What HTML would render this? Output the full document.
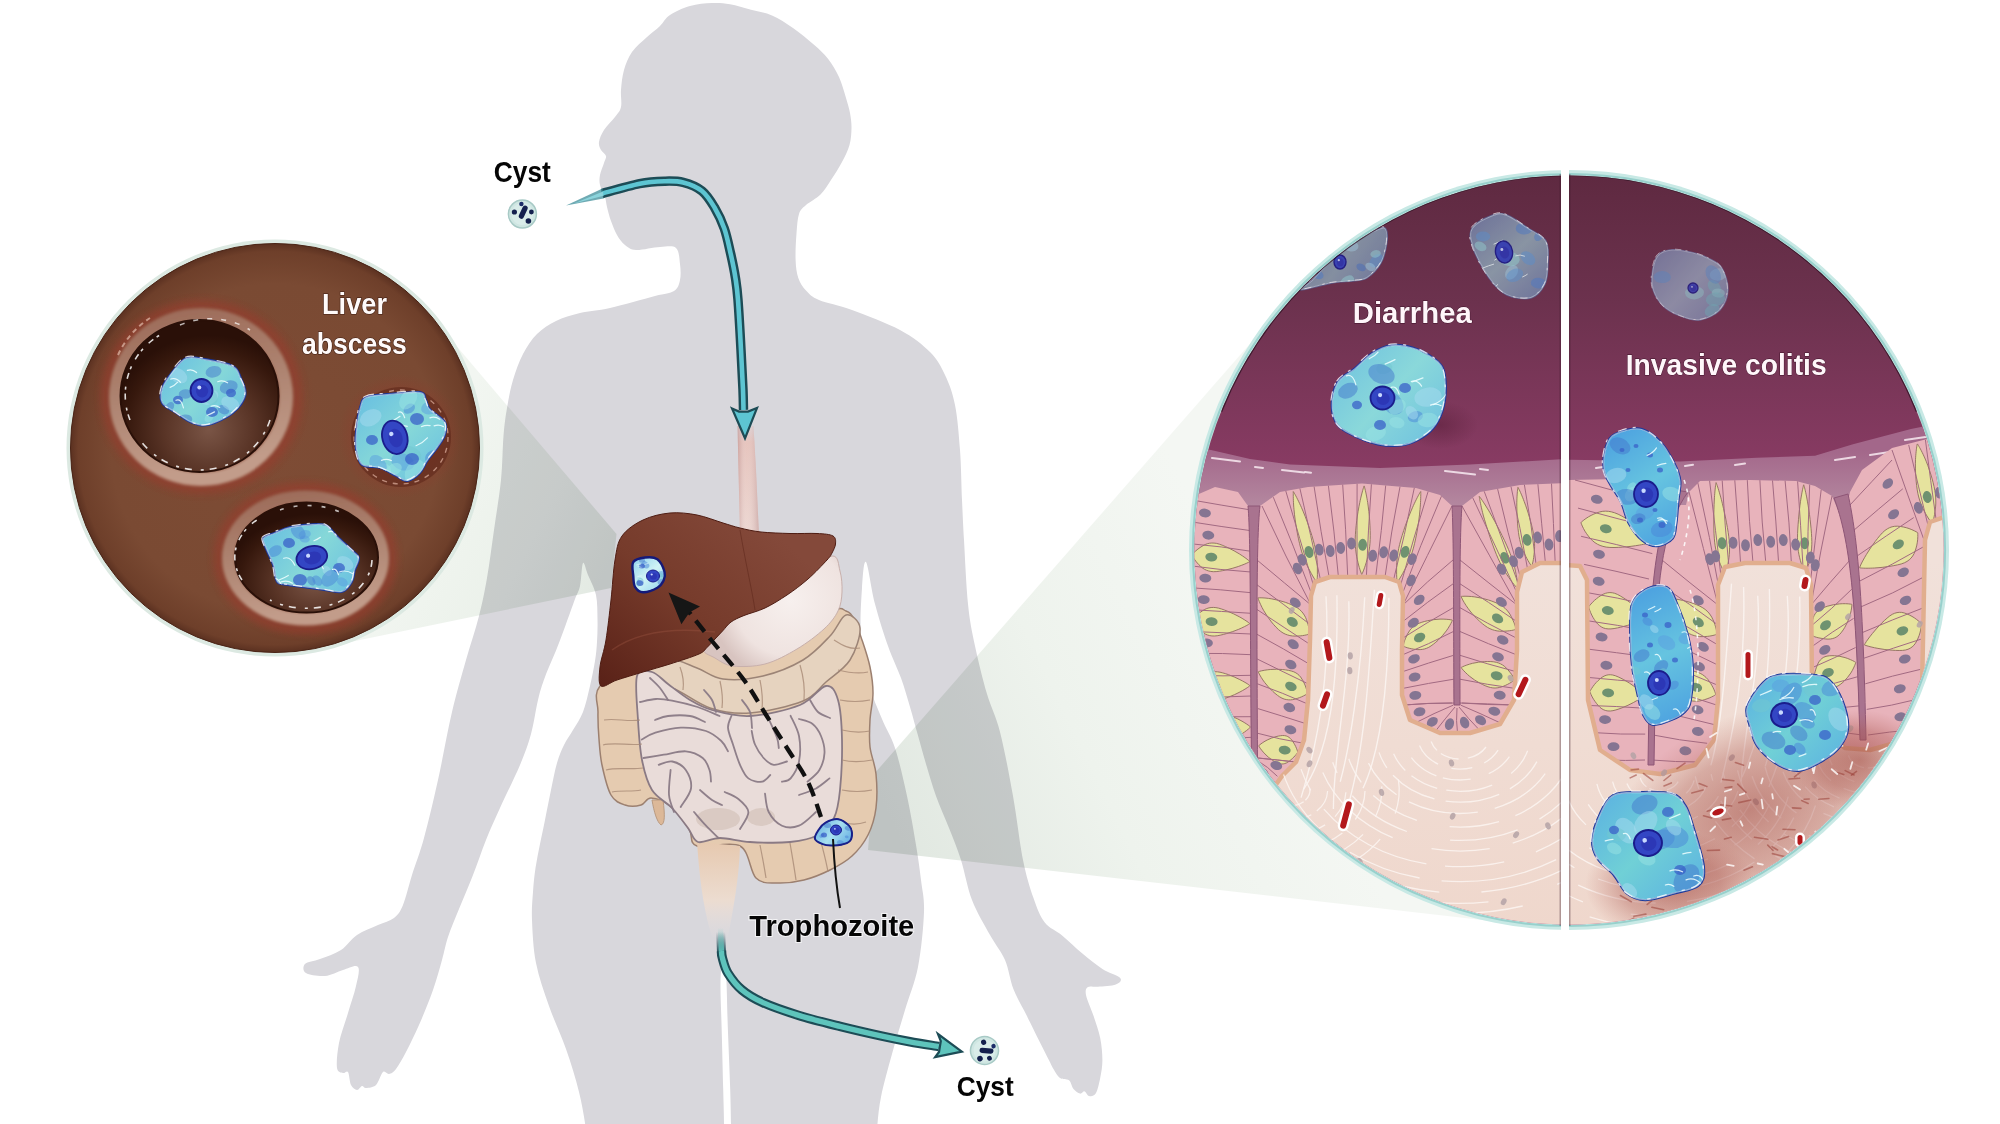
<!DOCTYPE html>
<html><head><meta charset="utf-8"><title>Amoebiasis</title>
<style>html,body{margin:0;padding:0;background:#ffffff;width:2000px;height:1124px;overflow:hidden}svg{display:block;position:absolute;left:0;top:0}
text{font-family:"Liberation Sans",sans-serif;font-weight:bold}</style></head>
<body>
<svg width="2000" height="1124" viewBox="0 0 2000 1124">
<path d="M712.0,3.0 C705.3,3.3 697.0,4.0 690.0,6.0 C683.0,8.0 675.0,11.7 670.0,15.0 C665.0,18.3 663.8,22.3 660.0,26.0 C656.2,29.7 651.7,32.7 647.0,37.0 C642.3,41.3 635.8,46.5 632.0,52.0 C628.2,57.5 625.8,63.7 624.0,70.0 C622.2,76.3 621.5,83.8 621.0,90.0 C620.5,96.2 622.0,102.5 621.0,107.0 C620.0,111.5 617.8,113.2 615.0,117.0 C612.2,120.8 606.7,125.8 604.0,130.0 C601.3,134.2 599.5,138.7 599.0,142.0 C598.5,145.3 599.8,147.7 601.0,150.0 C602.2,152.3 605.5,153.8 606.0,156.0 C606.5,158.2 605.0,159.8 604.0,163.0 C603.0,166.2 600.7,171.3 600.0,175.0 C599.3,178.7 599.2,181.3 600.0,185.0 C600.8,188.7 603.8,193.3 605.0,197.0 C606.2,200.7 606.0,203.0 607.0,207.0 C608.0,211.0 609.3,216.3 611.0,221.0 C612.7,225.7 614.7,231.0 617.0,235.0 C619.3,239.0 621.8,242.5 625.0,245.0 C628.2,247.5 630.2,249.7 636.0,250.0 C641.8,250.3 653.3,247.3 660.0,247.0 C666.7,246.7 672.7,245.2 676.0,248.0 C679.3,250.8 679.3,258.7 680.0,264.0 C680.7,269.3 681.0,275.5 680.0,280.0 C679.0,284.5 678.2,288.3 674.0,291.0 C669.8,293.7 665.7,293.2 655.0,296.0 C644.3,298.8 622.5,305.2 610.0,308.0 C597.5,310.8 589.0,310.8 580.0,313.0 C571.0,315.2 563.2,317.5 556.0,321.0 C548.8,324.5 542.5,328.5 537.0,334.0 C531.5,339.5 527.0,346.3 523.0,354.0 C519.0,361.7 515.7,371.0 513.0,380.0 C510.3,389.0 508.6,398.7 507.0,408.0 C505.4,417.3 504.5,424.0 503.5,436.0 C502.5,448.0 502.6,464.3 501.0,480.0 C499.4,495.7 496.3,513.7 494.0,530.0 C491.7,546.3 489.5,563.7 487.0,578.0 C484.5,592.3 482.5,602.3 479.0,616.0 C475.5,629.7 470.5,644.0 466.0,660.0 C461.5,676.0 456.7,692.0 452.0,712.0 C447.3,732.0 442.7,759.0 438.0,780.0 C433.3,801.0 428.3,822.2 424.0,838.0 C419.7,853.8 415.5,863.8 412.0,875.0 C408.5,886.2 406.0,897.8 403.0,905.0 C400.0,912.2 398.2,914.7 394.0,918.0 C389.8,921.3 384.2,922.2 378.0,925.0 C371.8,927.8 363.2,930.8 357.0,935.0 C350.8,939.2 347.2,946.0 341.0,950.0 C334.8,954.0 326.0,956.7 320.0,959.0 C314.0,961.3 307.3,961.7 305.0,964.0 C302.7,966.3 302.7,971.0 306.0,973.0 C309.3,975.0 318.8,976.5 325.0,976.0 C331.2,975.5 337.5,971.5 343.0,970.0 C348.5,968.5 355.8,964.3 358.0,967.0 C360.2,969.7 357.7,978.3 356.0,986.0 C354.3,993.7 350.8,1003.5 348.0,1013.0 C345.2,1022.5 340.8,1033.8 339.0,1043.0 C337.2,1052.2 336.3,1063.0 337.0,1068.0 C337.7,1073.0 341.2,1072.3 343.0,1073.0 C344.8,1073.7 346.7,1070.0 348.0,1072.0 C349.3,1074.0 349.5,1082.0 351.0,1085.0 C352.5,1088.0 355.2,1089.8 357.0,1090.0 C358.8,1090.2 360.5,1086.3 362.0,1086.0 C363.5,1085.7 363.7,1088.2 366.0,1088.0 C368.3,1087.8 373.2,1087.7 376.0,1085.0 C378.8,1082.3 380.8,1073.8 383.0,1072.0 C385.2,1070.2 386.8,1074.5 389.0,1074.0 C391.2,1073.5 393.2,1072.7 396.0,1069.0 C398.8,1065.3 402.2,1059.3 406.0,1052.0 C409.8,1044.7 414.5,1035.3 419.0,1025.0 C423.5,1014.7 429.2,1000.8 433.0,990.0 C436.8,979.2 439.5,968.8 442.0,960.0 C444.5,951.2 445.2,945.5 448.0,937.0 C450.8,928.5 454.8,919.3 459.0,909.0 C463.2,898.7 468.5,886.5 473.0,875.0 C477.5,863.5 481.5,851.2 486.0,840.0 C490.5,828.8 494.3,820.5 500.0,808.0 C505.7,795.5 514.8,777.3 520.0,765.0 C525.2,752.7 528.0,744.8 531.0,734.0 C534.0,723.2 535.7,709.5 538.0,700.0 C540.3,690.5 541.8,685.7 545.0,677.0 C548.2,668.3 553.5,656.8 557.0,648.0 C560.5,639.2 563.0,632.2 566.0,624.0 C569.0,615.8 572.7,605.3 575.0,599.0 C577.3,592.7 578.7,592.0 580.0,586.0 C581.3,580.0 581.7,564.8 583.0,563.0 C584.3,561.2 585.8,569.7 588.0,575.0 C590.2,580.3 594.4,587.5 596.0,595.0 C597.6,602.5 597.3,612.2 597.5,620.0 C597.7,627.8 597.4,635.2 597.0,642.0 C596.6,648.8 596.2,653.7 595.0,661.0 C593.8,668.3 592.0,677.5 590.0,686.0 C588.0,694.5 585.8,704.7 583.0,712.0 C580.2,719.3 576.2,724.5 573.0,730.0 C569.8,735.5 566.7,739.5 564.0,745.0 C561.3,750.5 559.2,755.5 557.0,763.0 C554.8,770.5 553.0,780.5 551.0,790.0 C549.0,799.5 546.8,811.0 545.0,820.0 C543.2,829.0 541.6,836.0 540.0,844.0 C538.4,852.0 536.7,860.0 535.5,868.0 C534.3,876.0 533.6,883.3 533.0,892.0 C532.4,900.7 531.5,908.2 532.0,920.0 C532.5,931.8 533.2,948.7 536.0,963.0 C538.8,977.3 544.0,991.7 549.0,1006.0 C554.0,1020.3 561.0,1034.7 566.0,1049.0 C571.0,1063.3 575.7,1078.5 579.0,1092.0 C582.3,1105.5 584.5,1118.7 586.0,1130.0 C587.5,1141.3 565.0,1155.0 588.0,1160.0 C611.0,1165.0 701.3,1166.0 724.0,1160.0 C746.7,1154.0 724.1,1135.8 724.0,1124.0 C723.9,1112.2 723.6,1105.2 723.2,1089.0 C722.8,1072.8 722.1,1044.3 721.6,1027.0 C721.1,1009.7 720.4,995.2 720.5,985.0 C720.6,974.8 721.1,967.7 722.0,966.0 C722.9,964.3 725.0,964.8 726.0,975.0 C727.0,985.2 727.1,1008.0 727.8,1027.0 C728.5,1046.0 729.7,1072.8 730.2,1089.0 C730.7,1105.2 730.8,1112.2 731.0,1124.0 C731.2,1135.8 707.3,1154.0 731.5,1160.0 C755.7,1166.0 851.8,1165.0 876.0,1160.0 C900.2,1155.0 876.2,1140.5 877.0,1130.0 C877.8,1119.5 878.5,1109.7 881.0,1097.0 C883.5,1084.3 888.0,1068.5 892.0,1054.0 C896.0,1039.5 900.7,1024.5 905.0,1010.0 C909.3,995.5 914.8,983.3 918.0,967.0 C921.2,950.7 923.5,926.5 924.0,912.0 C924.5,897.5 922.3,891.2 921.0,880.0 C919.7,868.8 918.3,859.0 916.0,845.0 C913.7,831.0 910.5,812.2 907.0,796.0 C903.5,779.8 899.2,760.8 895.0,748.0 C890.8,735.2 886.3,729.7 882.0,719.0 C877.7,708.3 872.5,697.8 869.0,684.0 C865.5,670.2 862.2,652.0 861.0,636.0 C859.8,620.0 861.2,600.3 862.0,588.0 C862.8,575.7 863.8,559.3 866.0,562.0 C868.2,564.7 871.3,590.0 875.0,604.0 C878.7,618.0 883.7,633.7 888.0,646.0 C892.3,658.3 897.3,667.8 901.0,678.0 C904.7,688.2 907.3,698.0 910.0,707.0 C912.7,716.0 914.3,722.5 917.0,732.0 C919.7,741.5 922.8,753.3 926.0,764.0 C929.2,774.7 932.2,785.3 936.0,796.0 C939.8,806.7 944.8,817.3 949.0,828.0 C953.2,838.7 957.2,848.0 961.0,860.0 C964.8,872.0 967.2,887.5 972.0,900.0 C976.8,912.5 984.5,925.0 990.0,935.0 C995.5,945.0 1001.1,951.0 1005.0,960.0 C1008.9,969.0 1009.8,979.7 1013.4,989.0 C1017.0,998.3 1022.4,1006.9 1026.8,1015.8 C1031.2,1024.7 1036.3,1035.1 1040.0,1042.5 C1043.7,1049.9 1046.8,1055.9 1049.0,1060.3 C1051.2,1064.7 1051.7,1066.0 1053.5,1069.0 C1055.3,1072.0 1057.4,1076.1 1060.0,1078.0 C1062.6,1079.9 1066.8,1078.5 1069.0,1080.3 C1071.2,1082.1 1071.7,1086.8 1073.5,1089.0 C1075.3,1091.2 1078.2,1093.2 1080.0,1093.6 C1081.8,1094.0 1083.1,1091.0 1084.6,1091.4 C1086.1,1091.8 1087.2,1095.6 1089.0,1096.0 C1090.8,1096.4 1093.8,1096.6 1095.7,1093.6 C1097.6,1090.6 1099.1,1083.5 1100.2,1078.0 C1101.3,1072.5 1102.4,1067.0 1102.4,1060.3 C1102.4,1053.6 1101.7,1045.4 1100.2,1038.0 C1098.7,1030.6 1095.9,1023.0 1093.5,1015.8 C1091.1,1008.6 1086.9,999.8 1086.0,995.0 C1085.1,990.2 1086.0,988.4 1088.0,987.0 C1090.0,985.6 1093.4,987.2 1098.0,986.8 C1102.6,986.4 1112.1,986.1 1115.8,984.6 C1119.5,983.1 1122.4,980.6 1120.2,978.0 C1118.0,975.4 1108.7,973.1 1102.4,969.0 C1096.1,964.9 1089.1,959.0 1082.4,953.5 C1075.7,948.0 1068.7,940.9 1062.4,935.7 C1056.1,930.5 1049.4,928.6 1044.6,922.3 C1039.8,916.0 1037.0,908.2 1033.4,897.8 C1029.8,887.4 1026.4,877.0 1023.0,860.0 C1019.6,843.0 1016.8,817.3 1013.0,796.0 C1009.2,774.7 1004.3,749.0 1000.0,732.0 C995.7,715.0 991.2,708.3 987.0,694.0 C982.8,679.7 978.2,661.0 975.0,646.0 C971.8,631.0 969.8,621.7 968.0,604.0 C966.2,586.3 965.0,557.3 964.0,540.0 C963.0,522.7 962.7,515.0 962.0,500.0 C961.3,485.0 961.2,465.8 960.0,450.0 C958.8,434.2 957.5,417.5 955.0,405.0 C952.5,392.5 949.2,383.8 945.0,375.0 C940.8,366.2 937.5,359.5 930.0,352.0 C922.5,344.5 913.0,337.0 900.0,330.0 C887.0,323.0 865.5,315.0 852.0,310.0 C838.5,305.0 826.7,303.2 819.0,300.0 C811.3,296.8 809.5,294.2 806.0,290.5 C802.5,286.8 800.0,283.1 798.3,278.0 C796.6,272.9 795.9,267.4 795.6,260.0 C795.3,252.6 795.9,241.2 796.5,233.5 C797.1,225.8 797.4,218.8 799.0,214.0 C800.6,209.2 802.4,208.3 806.0,205.0 C809.6,201.7 816.3,198.6 820.5,194.4 C824.7,190.2 827.4,185.4 831.0,180.0 C834.6,174.6 838.9,167.8 842.0,162.0 C845.1,156.2 847.9,150.7 849.5,145.0 C851.1,139.3 851.4,133.3 851.5,128.0 C851.6,122.7 850.9,118.0 850.0,113.0 C849.1,108.0 847.8,104.0 846.0,98.0 C844.2,92.0 842.0,83.5 839.0,77.0 C836.0,70.5 832.2,64.2 828.0,58.8 C823.8,53.4 819.8,49.9 814.0,44.8 C808.2,39.7 800.0,32.9 793.0,28.0 C786.0,23.1 779.0,18.4 772.0,15.4 C765.0,12.4 758.0,11.7 751.0,9.8 C744.0,7.9 736.5,5.3 730.0,4.2 C723.5,3.1 718.7,2.7 712.0,3.0 Z" fill="#d8d7dc"/>
<defs>
<linearGradient id="lcone" x1="430" y1="470" x2="612" y2="560" gradientUnits="userSpaceOnUse">
<stop offset="0" stop-color="#f2f6f1"/><stop offset="0.6" stop-color="#ebf1ea"/><stop offset="1" stop-color="#e3eae3"/>
</linearGradient>
<linearGradient id="rcone" x1="1250" y1="620" x2="880" y2="800" gradientUnits="userSpaceOnUse">
<stop offset="0" stop-color="#f4f7f3"/><stop offset="0.5" stop-color="#eef3ed"/><stop offset="1" stop-color="#e1e8e1"/>
</linearGradient>
</defs>
<polygon points="275,448 430.6,315.6 616.5,534 611,588 317.6,648.8" fill="url(#lcone)" style="mix-blend-mode:multiply"/>
<polygon points="1569,550 1286,302.5 874,774 868,850 1526,925" fill="url(#rcone)" style="mix-blend-mode:multiply"/>
<defs>
<linearGradient id="liverg" x1="760" y1="520" x2="610" y2="690" gradientUnits="userSpaceOnUse">
<stop offset="0" stop-color="#84493a"/><stop offset="0.5" stop-color="#763b2b"/><stop offset="1" stop-color="#5a2218"/></linearGradient>
<linearGradient id="esog" x1="0" y1="425" x2="0" y2="540" gradientUnits="userSpaceOnUse">
<stop offset="0" stop-color="#d9b7b4" stop-opacity="0.3"/><stop offset="0.15" stop-color="#e2bab2"/><stop offset="1" stop-color="#ead2cc"/></linearGradient>
<linearGradient id="esog2" x1="738" y1="0" x2="760" y2="0" gradientUnits="userSpaceOnUse">
<stop offset="0" stop-color="#c49a98" stop-opacity="0.6"/><stop offset="0.4" stop-color="#ffffff" stop-opacity="0.15"/><stop offset="1" stop-color="#b89090" stop-opacity="0.6"/></linearGradient>
<linearGradient id="rectg" x1="0" y1="840" x2="0" y2="940" gradientUnits="userSpaceOnUse">
<stop offset="0" stop-color="#e6c8ae"/><stop offset="0.6" stop-color="#ecdcd0"/><stop offset="1" stop-color="#e8e0e0" stop-opacity="0"/></linearGradient>
<radialGradient id="stomg" cx="790" cy="600" r="80" gradientUnits="userSpaceOnUse">
<stop offset="0" stop-color="#f7f0ee"/><stop offset="0.7" stop-color="#efe3e0"/><stop offset="1" stop-color="#d8c4c0"/></radialGradient>
</defs>
<path d="M737.5,426 L753.5,426 L756,470 L759,535 L740,535 L738.5,470 Z" fill="url(#esog)"/>
<path d="M737.5,426 L753.5,426 L756,470 L759,535 L740,535 L738.5,470 Z" fill="url(#esog2)"/>
<path d="M600.0,686.0 C593.0,694.7 598.2,703.2 598.0,712.0 C597.8,720.8 598.3,730.2 599.0,739.0 C599.7,747.8 600.0,755.7 602.0,765.0 C604.0,774.3 607.2,788.3 611.0,795.0 C614.8,801.7 620.0,803.3 625.0,805.0 C630.0,806.7 636.7,806.2 641.0,805.0 C645.3,803.8 646.2,797.8 651.0,798.0 C655.8,798.2 663.7,800.8 670.0,806.0 C676.3,811.2 684.5,822.3 689.0,829.0 C693.5,835.7 688.5,843.2 697.0,846.0 C705.5,848.8 730.2,840.7 740.0,846.0 C749.8,851.3 749.8,871.8 756.0,878.0 C762.2,884.2 769.0,882.7 777.0,883.0 C785.0,883.3 795.2,882.2 804.0,880.0 C812.8,877.8 822.0,874.0 830.0,870.0 C838.0,866.0 845.7,861.8 852.0,856.0 C858.3,850.2 864.0,843.0 868.0,835.0 C872.0,827.0 874.7,818.2 876.0,808.0 C877.3,797.8 877.0,784.2 876.0,774.0 C875.0,763.8 871.0,756.0 870.0,747.0 C869.0,738.0 869.5,729.0 870.0,720.0 C870.5,711.0 873.0,701.8 873.0,693.0 C873.0,684.2 871.8,675.8 870.0,667.0 C868.2,658.2 864.7,648.0 862.0,640.0 C859.3,632.0 856.7,623.8 854.0,619.0 C851.3,614.2 850.0,612.3 846.0,611.0 C842.0,609.7 844.3,606.2 830.0,611.0 C815.7,615.8 781.7,635.2 760.0,640.0 C738.3,644.8 720.0,636.7 700.0,640.0 C680.0,643.3 656.7,652.3 640.0,660.0 C623.3,667.7 607.0,677.3 600.0,686.0 Z" fill="#e5cbb0" stroke="#9c8070" stroke-width="1.5"/>
<path d="M697,842 C699,870 702,905 712,937 L728,937 C733,910 739,880 740,846 Z" fill="url(#rectg)"/>
<path d="M652,800 C654,812 657,822 661,825 C665,824 665,815 663,800 Z" fill="#dcb898" stroke="#b99a80" stroke-width="1"/>
<path d="M703.0,648.0 C701.8,653.3 710.0,655.0 715.0,658.0 C720.0,661.0 724.7,665.0 733.0,666.0 C741.3,667.0 754.3,666.8 765.0,664.0 C775.7,661.2 787.2,654.8 797.0,649.0 C806.8,643.2 817.2,635.3 824.0,629.0 C830.8,622.7 835.0,617.2 838.0,611.0 C841.0,604.8 841.7,598.7 842.0,592.0 C842.3,585.3 841.7,577.0 840.0,571.0 C838.3,565.0 838.7,555.3 832.0,556.0 C825.3,556.7 812.0,567.7 800.0,575.0 C788.0,582.3 773.0,591.5 760.0,600.0 C747.0,608.5 731.5,618.0 722.0,626.0 C712.5,634.0 704.2,642.7 703.0,648.0 Z" fill="url(#stomg)" stroke="#c8b0ac" stroke-width="1"/>
<path d="M646.0,668.0 C648.8,662.7 658.5,658.0 667.0,658.0 C675.5,658.0 687.7,664.5 697.0,668.0 C706.3,671.5 712.0,677.7 723.0,679.0 C734.0,680.3 749.7,679.2 763.0,676.0 C776.3,672.8 791.8,666.7 803.0,660.0 C814.2,653.3 822.8,643.5 830.0,636.0 C837.2,628.5 841.0,616.3 846.0,615.0 C851.0,613.7 859.3,620.5 860.0,628.0 C860.7,635.5 855.7,651.0 850.0,660.0 C844.3,669.0 833.8,675.2 826.0,682.0 C818.2,688.8 815.7,695.8 803.0,701.0 C790.3,706.2 765.5,711.8 750.0,713.0 C734.5,714.2 723.0,712.2 710.0,708.0 C697.0,703.8 682.0,691.0 672.0,688.0 C662.0,685.0 654.3,693.3 650.0,690.0 C645.7,686.7 643.2,673.3 646.0,668.0 Z" fill="#e6d3bf" stroke="#9c8476" stroke-width="1.5"/>
<path d="M637.0,676.0 C639.3,668.0 646.8,670.7 652.0,672.0 C657.2,673.3 661.7,679.3 668.0,684.0 C674.3,688.7 682.7,695.7 690.0,700.0 C697.3,704.3 702.0,707.3 712.0,710.0 C722.0,712.7 735.3,716.8 750.0,716.0 C764.7,715.2 787.3,710.0 800.0,705.0 C812.7,700.0 819.7,686.8 826.0,686.0 C832.3,685.2 835.3,691.0 838.0,700.0 C840.7,709.0 841.7,725.0 842.0,740.0 C842.3,755.0 841.3,777.0 840.0,790.0 C838.7,803.0 837.7,810.5 834.0,818.0 C830.3,825.5 825.3,831.0 818.0,835.0 C810.7,839.0 801.3,840.8 790.0,842.0 C778.7,843.2 761.7,842.7 750.0,842.0 C738.3,841.3 728.7,838.0 720.0,838.0 C711.3,838.0 703.3,843.7 698.0,842.0 C692.7,840.3 692.3,833.7 688.0,828.0 C683.7,822.3 678.0,814.3 672.0,808.0 C666.0,801.7 657.0,798.0 652.0,790.0 C647.0,782.0 644.3,771.7 642.0,760.0 C639.7,748.3 638.8,734.0 638.0,720.0 C637.2,706.0 634.7,684.0 637.0,676.0 Z" fill="#e9dcd9" stroke="#8a7a84" stroke-width="1.8"/>
<ellipse cx="718" cy="819" rx="22" ry="11" fill="#d6c6bd" opacity="0.8"/>
<ellipse cx="761" cy="817" rx="14" ry="9" fill="#d6c6bd" opacity="0.8"/>
<path d="M640.0,702.0 C642.7,701.5 650.7,699.2 656.0,699.0 C661.3,698.8 665.1,699.3 672.0,700.6 C678.9,701.9 689.7,704.4 697.6,707.0 C705.5,709.6 715.9,714.5 719.6,716.0" fill="none" stroke="#8a7a86" stroke-width="1.8" stroke-linecap="round" opacity="0.95"/>
<path d="M641.8,739.5 C644.1,738.4 648.9,734.7 655.4,732.7 C661.9,730.7 672.3,727.9 680.7,727.6 C689.1,727.3 699.2,728.8 706.0,731.0 C712.8,733.2 717.6,737.6 721.3,741.0 C725.0,744.4 726.9,749.6 728.0,751.3" fill="none" stroke="#8a7a86" stroke-width="1.8" stroke-linecap="round" opacity="0.95"/>
<path d="M643.5,758.0 C646.9,757.5 656.8,755.8 663.8,754.7 C670.8,753.6 679.3,750.8 685.8,751.3 C692.3,751.8 698.8,754.9 702.7,758.0 C706.7,761.1 708.1,766.0 709.5,770.0 C710.9,774.0 710.8,779.8 711.0,781.7" fill="none" stroke="#8a7a86" stroke-width="1.8" stroke-linecap="round" opacity="0.95"/>
<path d="M658.7,764.8 C661.0,764.2 667.8,760.6 672.3,761.5 C676.8,762.4 682.7,765.5 685.8,770.0 C688.9,774.5 691.9,782.3 691.0,788.5 C690.1,794.7 682.4,803.9 680.7,807.0" fill="none" stroke="#8a7a86" stroke-width="1.8" stroke-linecap="round" opacity="0.95"/>
<path d="M670.6,770.0 C670.3,774.2 668.4,788.0 669.0,795.0 C669.6,802.0 673.2,809.2 674.0,812.0" fill="none" stroke="#8a7a86" stroke-width="1.8" stroke-linecap="round" opacity="0.95"/>
<path d="M731.5,715.8 C730.9,717.8 727.8,722.8 728.0,727.6 C728.2,732.4 731.0,738.3 733.0,744.5 C735.0,750.7 737.4,759.1 740.0,764.8 C742.6,770.4 744.7,775.6 748.4,778.4 C752.1,781.2 758.4,782.3 762.0,781.7 C765.6,781.1 768.9,776.1 770.3,775.0" fill="none" stroke="#8a7a86" stroke-width="1.8" stroke-linecap="round" opacity="0.95"/>
<path d="M751.7,731.0 C752.2,733.2 753.0,740.0 755.0,744.5 C757.0,749.0 760.5,754.6 763.6,758.0 C766.7,761.4 769.8,764.2 773.7,764.8 C777.6,765.4 784.8,762.0 787.0,761.5" fill="none" stroke="#8a7a86" stroke-width="1.8" stroke-linecap="round" opacity="0.95"/>
<path d="M768.7,719.0 C770.1,722.1 775.3,733.0 777.0,737.8 C778.7,742.6 778.5,746.3 778.8,748.0" fill="none" stroke="#8a7a86" stroke-width="1.8" stroke-linecap="round" opacity="0.95"/>
<path d="M790.6,715.8 C792.0,719.2 797.6,728.4 799.0,736.0 C800.4,743.6 800.4,754.4 799.0,761.5 C797.6,768.6 793.4,775.0 790.6,778.4 C787.8,781.8 783.4,781.2 782.0,781.7" fill="none" stroke="#8a7a86" stroke-width="1.8" stroke-linecap="round" opacity="0.95"/>
<path d="M799.0,719.0 C801.3,719.8 808.9,721.2 812.6,724.0 C816.3,726.8 819.0,731.2 821.0,736.0 C823.0,740.8 824.8,747.3 824.5,753.0 C824.2,758.7 822.2,765.2 819.4,770.0 C816.6,774.8 809.5,779.8 807.5,781.7" fill="none" stroke="#8a7a86" stroke-width="1.8" stroke-linecap="round" opacity="0.95"/>
<path d="M724.7,792.0 C726.9,793.1 734.0,795.4 738.0,798.7 C742.0,802.0 748.1,807.0 748.4,812.0 C748.7,817.0 741.4,826.2 740.0,829.0" fill="none" stroke="#8a7a86" stroke-width="1.8" stroke-linecap="round" opacity="0.95"/>
<path d="M765.0,793.6 C765.6,796.7 765.9,806.6 768.7,812.0 C771.5,817.4 777.0,823.4 782.0,825.7 C787.0,828.0 793.3,828.0 799.0,825.7 C804.7,823.4 813.2,814.3 816.0,812.0" fill="none" stroke="#8a7a86" stroke-width="1.8" stroke-linecap="round" opacity="0.95"/>
<path d="M694.0,812.0 C696.0,814.3 702.0,821.5 706.0,825.7 C710.0,830.0 716.0,835.5 718.0,837.5" fill="none" stroke="#8a7a86" stroke-width="1.8" stroke-linecap="round" opacity="0.95"/>
<path d="M799.0,795.0 C801.8,793.9 810.9,791.3 816.0,788.5 C821.1,785.7 827.2,780.1 829.5,778.4" fill="none" stroke="#8a7a86" stroke-width="1.8" stroke-linecap="round" opacity="0.95"/>
<path d="M650.0,678.0 C651.7,679.7 657.0,684.3 660.0,688.0 C663.0,691.7 666.7,698.0 668.0,700.0" fill="none" stroke="#8a7a86" stroke-width="1.8" stroke-linecap="round" opacity="0.95"/>
<path d="M704.0,690.0 C705.3,691.7 710.0,696.3 712.0,700.0 C714.0,703.7 715.3,710.0 716.0,712.0" fill="none" stroke="#8a7a86" stroke-width="1.8" stroke-linecap="round" opacity="0.95"/>
<path d="M655.0,720.0 C657.2,719.3 662.2,716.7 668.0,716.0 C673.8,715.3 683.8,715.0 690.0,716.0 C696.2,717.0 702.5,721.0 705.0,722.0" fill="none" stroke="#8a7a86" stroke-width="1.8" stroke-linecap="round" opacity="0.95"/>
<path d="M700.0,790.0 C702.0,791.7 708.3,797.5 712.0,800.0 C715.7,802.5 720.3,804.2 722.0,805.0" fill="none" stroke="#8a7a86" stroke-width="1.8" stroke-linecap="round" opacity="0.95"/>
<path d="M742.0,700.0 C743.3,702.0 748.3,707.3 750.0,712.0 C751.7,716.7 751.7,725.3 752.0,728.0" fill="none" stroke="#8a7a86" stroke-width="1.8" stroke-linecap="round" opacity="0.95"/>
<path d="M810.0,700.0 C811.3,702.0 814.7,709.0 818.0,712.0 C821.3,715.0 828.0,717.0 830.0,718.0" fill="none" stroke="#8a7a86" stroke-width="1.8" stroke-linecap="round" opacity="0.95"/>
<path d="M604,720 C615,718 628,722 640,720" fill="none" stroke="#a88a76" stroke-width="1.2" opacity="0.8"/>
<path d="M603,745 C615,742 630,746 642,744" fill="none" stroke="#a88a76" stroke-width="1.2" opacity="0.8"/>
<path d="M606,770 C617,767 630,770 643,768" fill="none" stroke="#a88a76" stroke-width="1.2" opacity="0.8"/>
<path d="M612,792 C622,790 632,792 641,790" fill="none" stroke="#a88a76" stroke-width="1.2" opacity="0.8"/>
<path d="M834,640 C842,645 850,650 860,648" fill="none" stroke="#a88a76" stroke-width="1.2" opacity="0.8"/>
<path d="M838,670 C846,672 858,674 868,672" fill="none" stroke="#a88a76" stroke-width="1.2" opacity="0.8"/>
<path d="M840,700 C850,702 860,702 870,700" fill="none" stroke="#a88a76" stroke-width="1.2" opacity="0.8"/>
<path d="M842,730 C850,732 860,733 870,731" fill="none" stroke="#a88a76" stroke-width="1.2" opacity="0.8"/>
<path d="M842,760 C850,762 862,762 872,760" fill="none" stroke="#a88a76" stroke-width="1.2" opacity="0.8"/>
<path d="M842,790 C852,792 862,792 872,790" fill="none" stroke="#a88a76" stroke-width="1.2" opacity="0.8"/>
<path d="M835,820 C845,824 855,826 866,822" fill="none" stroke="#a88a76" stroke-width="1.2" opacity="0.8"/>
<path d="M760,845 C762,855 764,865 766,878" fill="none" stroke="#a88a76" stroke-width="1.2" opacity="0.8"/>
<path d="M790,843 C792,855 794,866 796,880" fill="none" stroke="#a88a76" stroke-width="1.2" opacity="0.8"/>
<path d="M820,838 C823,850 826,860 828,872" fill="none" stroke="#a88a76" stroke-width="1.2" opacity="0.8"/>
<path d="M680,667 C683,675 684,683 683,690" fill="none" stroke="#a88a76" stroke-width="1.2" opacity="0.8"/>
<path d="M720,681 C722,690 723,700 722,708" fill="none" stroke="#a88a76" stroke-width="1.2" opacity="0.8"/>
<path d="M760,680 C762,690 763,700 762,710" fill="none" stroke="#a88a76" stroke-width="1.2" opacity="0.8"/>
<path d="M800,665 C803,675 805,688 804,700" fill="none" stroke="#a88a76" stroke-width="1.2" opacity="0.8"/>
<path d="M622.0,536.0 C626.7,529.3 635.0,523.8 643.0,520.0 C651.0,516.2 661.0,513.8 670.0,513.0 C679.0,512.2 688.2,513.3 697.0,515.0 C705.8,516.7 715.8,520.8 723.0,523.0 C730.2,525.2 733.7,526.5 740.0,528.0 C746.3,529.5 752.7,531.1 761.0,532.0 C769.3,532.9 780.7,533.2 790.0,533.5 C799.3,533.8 809.8,533.1 817.0,533.5 C824.2,533.9 829.9,534.2 833.0,536.0 C836.1,537.8 835.7,541.2 835.5,544.0 C835.3,546.8 833.4,550.3 832.0,553.0 C830.6,555.7 831.0,555.7 827.0,560.0 C823.0,564.3 814.7,573.2 808.0,579.0 C801.3,584.8 794.2,590.2 787.0,595.0 C779.8,599.8 772.2,604.6 765.0,608.0 C757.8,611.4 749.7,613.2 744.0,615.5 C738.3,617.8 734.5,619.5 731.0,622.0 C727.5,624.5 725.7,627.7 723.0,630.5 C720.3,633.3 717.7,636.2 715.0,639.0 C712.3,641.8 709.7,645.0 707.0,647.5 C704.3,650.0 705.2,651.2 699.0,654.0 C692.8,656.8 679.3,661.0 670.0,664.0 C660.7,667.0 651.8,669.3 643.0,672.0 C634.2,674.7 624.0,677.7 617.0,680.0 C610.0,682.3 603.8,688.2 601.0,686.0 C598.2,683.8 599.2,674.7 600.0,667.0 C600.8,659.3 604.2,651.2 606.0,640.0 C607.8,628.8 609.5,613.3 611.0,600.0 C612.5,586.7 613.2,570.7 615.0,560.0 C616.8,549.3 617.3,542.7 622.0,536.0 Z" fill="url(#liverg)" stroke="#4e1c12" stroke-width="1"/>
<path d="M740,530 C745,560 752,590 755,610" fill="none" stroke="#5a2418" stroke-width="1" opacity="0.5"/>
<path d="M612,650 C640,630 680,628 715,632" fill="none" stroke="#a05a44" stroke-width="1.5" opacity="0.35"/>
<g opacity="1.0">
<defs><linearGradient id="tg1" x1="633" y1="558" x2="664" y2="592" gradientUnits="userSpaceOnUse"><stop offset="0" stop-color="#8fd0ec"/><stop offset="0.5" stop-color="#d0f4f6"/><stop offset="1" stop-color="#8fd0ec"/></linearGradient><clipPath id="ctg1"><path d="M633.3,562.0 C635.2,558.9 641.0,558.0 645.0,557.5 C649.0,557.0 654.1,556.8 657.4,559.2 C660.6,561.6 663.5,568.1 664.5,571.7 C665.5,575.3 664.8,577.9 663.6,580.6 C662.4,583.3 660.8,585.8 657.4,587.7 C654.0,589.6 646.7,592.4 643.0,592.2 C639.3,592.1 636.6,589.5 635.0,586.8 C633.4,584.1 633.6,580.1 633.3,576.0 C633.0,571.9 631.3,565.1 633.3,562.0 Z"/></clipPath></defs>
<path d="M633.3,562.0 C635.2,558.9 641.0,558.0 645.0,557.5 C649.0,557.0 654.1,556.8 657.4,559.2 C660.6,561.6 663.5,568.1 664.5,571.7 C665.5,575.3 664.8,577.9 663.6,580.6 C662.4,583.3 660.8,585.8 657.4,587.7 C654.0,589.6 646.7,592.4 643.0,592.2 C639.3,592.1 636.6,589.5 635.0,586.8 C633.4,584.1 633.6,580.1 633.3,576.0 C633.0,571.9 631.3,565.1 633.3,562.0 Z" fill="url(#tg1)" stroke="#141a7a" stroke-width="0.9"/>
<g clip-path="url(#ctg1)">
<ellipse cx="640.1" cy="580.4" rx="3.8" ry="2.6" transform="rotate(41 640.1 580.4)" fill="#a8dcf0" opacity="0.5"/>
<ellipse cx="661.7" cy="574.1" rx="4.6" ry="3.2" transform="rotate(1 661.7 574.1)" fill="#5a9ee0" opacity="0.5"/>
<ellipse cx="642.0" cy="560.4" rx="3.1" ry="2.2" transform="rotate(-9 642.0 560.4)" fill="#4478cc" opacity="0.5"/>
<ellipse cx="639.6" cy="582.2" rx="4.5" ry="3.1" transform="rotate(-55 639.6 582.2)" fill="#72c8d0" opacity="0.5"/>
<ellipse cx="661.9" cy="581.8" rx="4.4" ry="3.1" transform="rotate(-7 661.9 581.8)" fill="#4478cc" opacity="0.5"/>
<ellipse cx="660.9" cy="576.0" rx="3.9" ry="2.7" transform="rotate(54 660.9 576.0)" fill="#72c8d0" opacity="0.5"/>
<ellipse cx="645.5" cy="564.8" rx="4.2" ry="3.0" transform="rotate(37 645.5 564.8)" fill="#4a86d8" opacity="0.5"/>
<ellipse cx="640" cy="583" rx="3.5" ry="3.0" fill="#3a60c8" opacity="0.75"/>
<ellipse cx="642" cy="566" rx="3" ry="2.5" fill="#3a60c8" opacity="0.75"/>
<path d="M636.3,565.0 q2.1,-0.8 4.2,-0.7" stroke="#f0ffff" stroke-width="0.6" fill="none" opacity="0.85" stroke-linecap="round"/>
<path d="M639.8,579.7 q1.8,-0.7 3.1,1.7" stroke="#f0ffff" stroke-width="0.6" fill="none" opacity="0.85" stroke-linecap="round"/>
<path d="M637.8,566.0 q2.0,-0.8 3.6,1.9" stroke="#f0ffff" stroke-width="0.6" fill="none" opacity="0.85" stroke-linecap="round"/>
<path d="M653.0,587.9 q2.4,-0.9 3.3,3.3" stroke="#f0ffff" stroke-width="0.6" fill="none" opacity="0.85" stroke-linecap="round"/>
<path d="M637.7,576.6 q1.9,-0.8 3.7,-0.7" stroke="#f0ffff" stroke-width="0.6" fill="none" opacity="0.85" stroke-linecap="round"/>
<path d="M644.7,564.5 q1.8,-0.7 3.5,-1.2" stroke="#f0ffff" stroke-width="0.6" fill="none" opacity="0.85" stroke-linecap="round"/>
<path d="M633.3,562.0 C635.2,558.9 641.0,558.0 645.0,557.5 C649.0,557.0 654.1,556.8 657.4,559.2 C660.6,561.6 663.5,568.1 664.5,571.7 C665.5,575.3 664.8,577.9 663.6,580.6 C662.4,583.3 660.8,585.8 657.4,587.7 C654.0,589.6 646.7,592.4 643.0,592.2 C639.3,592.1 636.6,589.5 635.0,586.8 C633.4,584.1 633.6,580.1 633.3,576.0 C633.0,571.9 631.3,565.1 633.3,562.0 Z" fill="none" stroke="#e8ffff" stroke-width="1.2" opacity="0.55"/>
</g>
<g transform="rotate(0 653 576)"><ellipse cx="653" cy="576" rx="6.5" ry="6" fill="#3346c4" stroke="#1a1c8c" stroke-width="1.0"/><ellipse cx="653.3" cy="576.3" rx="3.6" ry="3.3" fill="#2a30b0" opacity="0.7"/><circle cx="651.7" cy="574.5" r="1.1" fill="#c8d8ff"/></g>
</g>
<path d="M633.3,562.0 C635.2,558.9 641.0,558.0 645.0,557.5 C649.0,557.0 654.1,556.8 657.4,559.2 C660.6,561.6 663.5,568.1 664.5,571.7 C665.5,575.3 664.8,577.9 663.6,580.6 C662.4,583.3 660.8,585.8 657.4,587.7 C654.0,589.6 646.7,592.4 643.0,592.2 C639.3,592.1 636.6,589.5 635.0,586.8 C633.4,584.1 633.6,580.1 633.3,576.0 C633.0,571.9 631.3,565.1 633.3,562.0 Z" fill="none" stroke="#141a7a" stroke-width="2.4"/>
<g opacity="1.0">
<defs><linearGradient id="tg2" x1="815" y1="819" x2="852" y2="846" gradientUnits="userSpaceOnUse"><stop offset="0" stop-color="#5aa6e0"/><stop offset="0.5" stop-color="#a8e0f0"/><stop offset="1" stop-color="#5aa6e0"/></linearGradient><clipPath id="ctg2"><path d="M815.0,839.0 C814.3,836.6 816.7,832.7 818.5,830.0 C820.3,827.3 822.3,824.5 825.6,822.7 C828.9,820.9 834.5,818.7 838.4,819.2 C842.3,819.7 846.7,823.4 849.0,825.6 C851.3,827.9 851.9,830.1 852.0,832.7 C852.1,835.3 851.6,839.2 849.8,841.2 C848.0,843.2 844.3,844.1 841.2,844.8 C838.1,845.5 834.4,845.6 831.3,845.5 C828.2,845.4 825.4,845.2 822.7,844.1 C820.0,843.0 815.7,841.4 815.0,839.0 Z"/></clipPath></defs>
<path d="M815.0,839.0 C814.3,836.6 816.7,832.7 818.5,830.0 C820.3,827.3 822.3,824.5 825.6,822.7 C828.9,820.9 834.5,818.7 838.4,819.2 C842.3,819.7 846.7,823.4 849.0,825.6 C851.3,827.9 851.9,830.1 852.0,832.7 C852.1,835.3 851.6,839.2 849.8,841.2 C848.0,843.2 844.3,844.1 841.2,844.8 C838.1,845.5 834.4,845.6 831.3,845.5 C828.2,845.4 825.4,845.2 822.7,844.1 C820.0,843.0 815.7,841.4 815.0,839.0 Z" fill="url(#tg2)" stroke="#1a2a8a" stroke-width="0.9"/>
<g clip-path="url(#ctg2)">
<ellipse cx="847.7" cy="824.4" rx="1.9" ry="1.3" transform="rotate(-38 847.7 824.4)" fill="#a8dcf0" opacity="0.5"/>
<ellipse cx="821.7" cy="835.7" rx="2.6" ry="1.8" transform="rotate(-32 821.7 835.7)" fill="#4a86d8" opacity="0.5"/>
<ellipse cx="847.8" cy="828.4" rx="3.1" ry="2.2" transform="rotate(22 847.8 828.4)" fill="#4478cc" opacity="0.5"/>
<ellipse cx="846.7" cy="836.9" rx="1.9" ry="1.4" transform="rotate(11 846.7 836.9)" fill="#4a86d8" opacity="0.5"/>
<ellipse cx="827.6" cy="825.5" rx="3.6" ry="2.5" transform="rotate(4 827.6 825.5)" fill="#4478cc" opacity="0.5"/>
<ellipse cx="840.6" cy="843.0" rx="3.8" ry="2.7" transform="rotate(24 840.6 843.0)" fill="#4a86d8" opacity="0.5"/>
<ellipse cx="837.0" cy="827.0" rx="3.9" ry="2.7" transform="rotate(48 837.0 827.0)" fill="#9ae4e4" opacity="0.5"/>
<ellipse cx="824" cy="835" rx="3" ry="2.5" fill="#3a60c8" opacity="0.75"/>
<path d="M815.0,839.0 C814.3,836.6 816.7,832.7 818.5,830.0 C820.3,827.3 822.3,824.5 825.6,822.7 C828.9,820.9 834.5,818.7 838.4,819.2 C842.3,819.7 846.7,823.4 849.0,825.6 C851.3,827.9 851.9,830.1 852.0,832.7 C852.1,835.3 851.6,839.2 849.8,841.2 C848.0,843.2 844.3,844.1 841.2,844.8 C838.1,845.5 834.4,845.6 831.3,845.5 C828.2,845.4 825.4,845.2 822.7,844.1 C820.0,843.0 815.7,841.4 815.0,839.0 Z" fill="none" stroke="#e8ffff" stroke-width="1.2" opacity="0.55"/>
</g>
<g transform="rotate(0 836 830)"><ellipse cx="836" cy="830" rx="5.5" ry="5" fill="#3346c4" stroke="#1a1c8c" stroke-width="1.0"/><ellipse cx="836.3" cy="830.2" rx="3.0" ry="2.8" fill="#2a30b0" opacity="0.7"/><circle cx="834.9" cy="828.8" r="0.9" fill="#c8d8ff"/></g>
</g>
<path d="M815.0,839.0 C814.3,836.6 816.7,832.7 818.5,830.0 C820.3,827.3 822.3,824.5 825.6,822.7 C828.9,820.9 834.5,818.7 838.4,819.2 C842.3,819.7 846.7,823.4 849.0,825.6 C851.3,827.9 851.9,830.1 852.0,832.7 C852.1,835.3 851.6,839.2 849.8,841.2 C848.0,843.2 844.3,844.1 841.2,844.8 C838.1,845.5 834.4,845.6 831.3,845.5 C828.2,845.4 825.4,845.2 822.7,844.1 C820.0,843.0 815.7,841.4 815.0,839.0 Z" fill="none" stroke="#18208a" stroke-width="2"/>
<path d="M821.0,817.0 C818.8,811.2 813.7,793.5 808.0,782.0 C802.3,770.5 794.1,759.3 787.0,748.0 C779.9,736.7 772.7,725.3 765.5,714.0 C758.3,702.7 752.9,692.2 744.0,680.0 C735.1,667.8 721.2,652.3 712.0,641.0 C702.8,629.7 692.8,616.8 689.0,612.0" stroke="#111111" stroke-width="4.3" stroke-dasharray="14 8" fill="none"/>
<path d="M668.5,592.6 L700,606.4 L689.4,612.6 L681.4,624.2 Z" fill="#161616"/>
<path d="M833,839 C834,860 836,885 840,908" stroke="#111" stroke-width="2" fill="none"/>
<defs>
<radialGradient id="lbase" cx="275" cy="448" r="205" gradientUnits="userSpaceOnUse">
<stop offset="0" stop-color="#7e4c35"/><stop offset="0.8" stop-color="#7a4a33"/><stop offset="0.96" stop-color="#6e3f2a"/><stop offset="1" stop-color="#5a3020"/></radialGradient>
<radialGradient id="hole1" cx="0.56" cy="0.72" r="0.62">
<stop offset="0" stop-color="#7a5546"/><stop offset="0.45" stop-color="#5a3527"/><stop offset="0.85" stop-color="#36180d"/><stop offset="1" stop-color="#2a1008"/></radialGradient>
<radialGradient id="rimg" cx="0.5" cy="0.5" r="0.5">
<stop offset="0.78" stop-color="#b48a78"/><stop offset="0.86" stop-color="#a67766"/><stop offset="0.93" stop-color="#8e5846" stop-opacity="0.8"/><stop offset="1" stop-color="#8a4a38" stop-opacity="0"/></radialGradient>
<linearGradient id="rimhl" x1="0" y1="0" x2="0" y2="1">
<stop offset="0" stop-color="#000000" stop-opacity="0.12"/><stop offset="0.5" stop-color="#000000" stop-opacity="0"/><stop offset="1" stop-color="#ffffff" stop-opacity="0.15"/></linearGradient>
<radialGradient id="glow" cx="0.5" cy="0.5" r="0.5">
<stop offset="0.6" stop-color="#94382c" stop-opacity="0.45"/><stop offset="1" stop-color="#94382c" stop-opacity="0"/></radialGradient>
<filter id="blur3" x="-20%" y="-20%" width="140%" height="140%"><feGaussianBlur stdDeviation="3"/></filter>
<filter id="blur2" x="-20%" y="-20%" width="140%" height="140%"><feGaussianBlur stdDeviation="1.8"/></filter>
<linearGradient id="rimstroke" x1="0" y1="0" x2="0.2" y2="1">
<stop offset="0" stop-color="#9c6a58"/><stop offset="0.5" stop-color="#ad8370"/><stop offset="1" stop-color="#c29c8a"/></linearGradient>
<clipPath id="lclip"><circle cx="275" cy="448" r="204"/></clipPath>
</defs>
<circle cx="275" cy="448" r="208.5" fill="#dce9e2"/>
<circle cx="275" cy="448" r="204.5" fill="url(#lbase)" stroke="#4a2416" stroke-width="1"/>
<g clip-path="url(#lclip)">
<ellipse cx="202" cy="397" rx="112" ry="107" fill="url(#glow)"/>
<ellipse cx="305" cy="558" rx="100" ry="82" fill="url(#glow)"/>
<ellipse cx="400" cy="436" rx="62" ry="62" fill="url(#glow)"/>
<ellipse cx="201.5" cy="397" rx="95" ry="91" fill="none" stroke="#9a3e2e" stroke-width="12" opacity="0.5" filter="url(#blur3)"/>
<ellipse cx="201" cy="397" rx="85" ry="82" fill="none" stroke="url(#rimstroke)" stroke-width="14" filter="url(#blur2)"/>
<ellipse cx="199.5" cy="396" rx="79" ry="76" fill="url(#hole1)" stroke="#2a1008" stroke-width="2"/>
<path d="M130,420 A72,70 0 0 1 160,335" fill="none" stroke="#ffffff" stroke-width="1.6" stroke-dasharray="6 4 3 8" opacity="0.85"/>
<path d="M180,325 A74,72 0 0 1 250,330" fill="none" stroke="#ffffff" stroke-width="1.6" stroke-dasharray="5 9" opacity="0.7"/>
<path d="M270,420 A74,72 0 0 1 200,470 A74,72 0 0 1 140,440" fill="none" stroke="#ffffff" stroke-width="1.6" stroke-dasharray="7 6 3 9" opacity="0.85"/>
<path d="M118,355 A90,86 0 0 1 150,318" fill="none" stroke="#f0d0c0" stroke-width="2" stroke-dasharray="5 4" opacity="0.6"/>
<ellipse cx="305.4" cy="558.3" rx="86" ry="70" fill="none" stroke="#9a3e2e" stroke-width="12" opacity="0.5" filter="url(#blur3)"/>
<ellipse cx="305.5" cy="558" rx="77" ry="61" fill="none" stroke="url(#rimstroke)" stroke-width="13" filter="url(#blur2)"/>
<ellipse cx="306.5" cy="557.6" rx="71.5" ry="55" fill="url(#hole1)" stroke="#2a1008" stroke-width="2"/>
<path d="M242,580 A66,50 0 0 1 260,518" fill="none" stroke="#ffffff" stroke-width="1.6" stroke-dasharray="6 4 3 8" opacity="0.85"/>
<path d="M280,510 A66,50 0 0 1 340,512" fill="none" stroke="#ffffff" stroke-width="1.6" stroke-dasharray="4 10" opacity="0.7"/>
<path d="M372,560 A66,50 0 0 1 330,605 A66,50 0 0 1 270,600" fill="none" stroke="#ffffff" stroke-width="1.6" stroke-dasharray="7 6 3 9" opacity="0.85"/>
<ellipse cx="401" cy="437" rx="50" ry="50" fill="#5a2418" opacity="0.55"/>
<ellipse cx="401" cy="437" rx="47" ry="47" fill="none" stroke="#e0b0a0" stroke-width="1.4" stroke-dasharray="5 6" opacity="0.7"/>
<g opacity="1.0">
<defs><linearGradient id="tg3" x1="162" y1="358" x2="246" y2="425" gradientUnits="userSpaceOnUse"><stop offset="0" stop-color="#66bde2"/><stop offset="0.5" stop-color="#86d8d8"/><stop offset="1" stop-color="#66bde2"/></linearGradient><clipPath id="ctg3"><path d="M186.0,358.0 C191.5,355.8 197.2,357.7 205.0,359.0 C212.8,360.3 227.0,362.8 233.0,366.0 C239.0,369.2 238.9,373.2 241.0,378.0 C243.1,382.8 246.8,389.2 245.5,395.0 C244.2,400.8 239.1,408.0 233.0,413.0 C226.9,418.0 215.8,423.3 209.0,425.0 C202.2,426.7 197.5,425.0 192.0,423.0 C186.5,421.0 181.0,416.3 176.0,413.0 C171.0,409.7 164.3,407.2 162.0,403.0 C159.7,398.8 160.3,393.2 162.0,388.0 C163.7,382.8 168.0,377.0 172.0,372.0 C176.0,367.0 180.5,360.2 186.0,358.0 Z"/></clipPath></defs>
<path d="M186.0,358.0 C191.5,355.8 197.2,357.7 205.0,359.0 C212.8,360.3 227.0,362.8 233.0,366.0 C239.0,369.2 238.9,373.2 241.0,378.0 C243.1,382.8 246.8,389.2 245.5,395.0 C244.2,400.8 239.1,408.0 233.0,413.0 C226.9,418.0 215.8,423.3 209.0,425.0 C202.2,426.7 197.5,425.0 192.0,423.0 C186.5,421.0 181.0,416.3 176.0,413.0 C171.0,409.7 164.3,407.2 162.0,403.0 C159.7,398.8 160.3,393.2 162.0,388.0 C163.7,382.8 168.0,377.0 172.0,372.0 C176.0,367.0 180.5,360.2 186.0,358.0 Z" fill="url(#tg3)" stroke="#1c3a9c" stroke-width="1.8"/>
<g clip-path="url(#ctg3)">
<ellipse cx="185.4" cy="394.0" rx="6.7" ry="4.7" transform="rotate(-3 185.4 394.0)" fill="#4478cc" opacity="0.5"/>
<ellipse cx="209.4" cy="397.4" rx="9.6" ry="6.7" transform="rotate(-29 209.4 397.4)" fill="#a8dcf0" opacity="0.5"/>
<ellipse cx="185.1" cy="419.4" rx="7.2" ry="5.0" transform="rotate(-3 185.1 419.4)" fill="#4478cc" opacity="0.5"/>
<ellipse cx="213.5" cy="371.8" rx="8.1" ry="5.7" transform="rotate(-13 213.5 371.8)" fill="#4478cc" opacity="0.5"/>
<ellipse cx="169.7" cy="407.1" rx="5.5" ry="3.9" transform="rotate(-55 169.7 407.1)" fill="#4478cc" opacity="0.5"/>
<ellipse cx="223.4" cy="409.7" rx="6.1" ry="4.3" transform="rotate(26 223.4 409.7)" fill="#4478cc" opacity="0.5"/>
<ellipse cx="230.3" cy="403.6" rx="9.6" ry="6.7" transform="rotate(27 230.3 403.6)" fill="#a8dcf0" opacity="0.5"/>
<ellipse cx="209.1" cy="417.6" rx="5.4" ry="3.8" transform="rotate(-48 209.1 417.6)" fill="#9ae4e4" opacity="0.5"/>
<ellipse cx="178.2" cy="375.6" rx="9.9" ry="6.9" transform="rotate(33 178.2 375.6)" fill="#a8dcf0" opacity="0.5"/>
<ellipse cx="228.7" cy="387.1" rx="9.2" ry="6.4" transform="rotate(-18 228.7 387.1)" fill="#4478cc" opacity="0.5"/>
<ellipse cx="209.7" cy="396.2" rx="9.5" ry="6.7" transform="rotate(50 209.7 396.2)" fill="#72c8d0" opacity="0.5"/>
<ellipse cx="231" cy="393" rx="5" ry="4.2" fill="#3a60c8" opacity="0.75"/>
<ellipse cx="178" cy="400" rx="5" ry="4.2" fill="#3a60c8" opacity="0.75"/>
<ellipse cx="212" cy="412" rx="6" ry="5.1" fill="#3a60c8" opacity="0.75"/>
<path d="M170.7,379.1 q5.2,-2.1 9.9,3.2" stroke="#f0ffff" stroke-width="1.2" fill="none" opacity="0.85" stroke-linecap="round"/>
<path d="M217.7,381.7 q5.0,-2.0 9.9,1.1" stroke="#f0ffff" stroke-width="1.2" fill="none" opacity="0.85" stroke-linecap="round"/>
<path d="M176.0,400.3 q5.3,-2.1 7.5,7.5" stroke="#f0ffff" stroke-width="1.2" fill="none" opacity="0.85" stroke-linecap="round"/>
<path d="M187.4,370.4 q4.7,-1.9 9.2,2.1" stroke="#f0ffff" stroke-width="1.2" fill="none" opacity="0.85" stroke-linecap="round"/>
<path d="M202.6,382.7 q3.2,-1.3 5.1,3.8" stroke="#f0ffff" stroke-width="1.2" fill="none" opacity="0.85" stroke-linecap="round"/>
<path d="M170.1,387.4 q4.5,-1.8 7.3,-5.1" stroke="#f0ffff" stroke-width="1.2" fill="none" opacity="0.85" stroke-linecap="round"/>
<path d="M211.1,406.2 q4.3,-1.7 8.6,1.2" stroke="#f0ffff" stroke-width="1.2" fill="none" opacity="0.85" stroke-linecap="round"/>
<path d="M207.3,415.2 q4.0,-1.6 7.2,-3.3" stroke="#f0ffff" stroke-width="1.2" fill="none" opacity="0.85" stroke-linecap="round"/>
<path d="M171.2,363.8 q3.3,-1.3 6.6,0.4" stroke="#f0ffff" stroke-width="1.2" fill="none" opacity="0.85" stroke-linecap="round"/>
<path d="M186.0,358.0 C191.5,355.8 197.2,357.7 205.0,359.0 C212.8,360.3 227.0,362.8 233.0,366.0 C239.0,369.2 238.9,373.2 241.0,378.0 C243.1,382.8 246.8,389.2 245.5,395.0 C244.2,400.8 239.1,408.0 233.0,413.0 C226.9,418.0 215.8,423.3 209.0,425.0 C202.2,426.7 197.5,425.0 192.0,423.0 C186.5,421.0 181.0,416.3 176.0,413.0 C171.0,409.7 164.3,407.2 162.0,403.0 C159.7,398.8 160.3,393.2 162.0,388.0 C163.7,382.8 168.0,377.0 172.0,372.0 C176.0,367.0 180.5,360.2 186.0,358.0 Z" fill="none" stroke="#e8ffff" stroke-width="2.4" opacity="0.55"/>
</g>
<g transform="rotate(0 201.5 390.5)"><ellipse cx="201.5" cy="390.5" rx="11" ry="11.5" fill="#3346c4" stroke="#1a1c8c" stroke-width="1.8"/><ellipse cx="202.1" cy="391.1" rx="6.1" ry="6.3" fill="#2a30b0" opacity="0.7"/><circle cx="199.3" cy="387.6" r="2.0" fill="#c8d8ff"/></g>
<path d="M186.0,358.0 C191.5,355.8 197.2,357.7 205.0,359.0 C212.8,360.3 227.0,362.8 233.0,366.0 C239.0,369.2 238.9,373.2 241.0,378.0 C243.1,382.8 246.8,389.2 245.5,395.0 C244.2,400.8 239.1,408.0 233.0,413.0 C226.9,418.0 215.8,423.3 209.0,425.0 C202.2,426.7 197.5,425.0 192.0,423.0 C186.5,421.0 181.0,416.3 176.0,413.0 C171.0,409.7 164.3,407.2 162.0,403.0 C159.7,398.8 160.3,393.2 162.0,388.0 C163.7,382.8 168.0,377.0 172.0,372.0 C176.0,367.0 180.5,360.2 186.0,358.0 Z" fill="none" stroke="#ffffff" stroke-width="1.2" stroke-dasharray="9.0 6.0 3.0 14.0" opacity="0.8" transform="translate(-0.8,-0.8)"/>
</g>
<g opacity="1.0">
<defs><linearGradient id="tg4" x1="356" y1="392" x2="445" y2="481" gradientUnits="userSpaceOnUse"><stop offset="0" stop-color="#66bde2"/><stop offset="0.5" stop-color="#86d8d8"/><stop offset="1" stop-color="#66bde2"/></linearGradient><clipPath id="ctg4"><path d="M366.0,397.0 C370.5,394.8 378.0,394.8 387.0,394.0 C396.0,393.2 413.5,391.0 420.0,392.0 C426.5,393.0 424.3,397.2 426.0,400.0 C427.7,402.8 426.8,405.3 430.0,409.0 C433.2,412.7 442.5,417.7 445.0,422.0 C447.5,426.3 446.2,430.8 445.0,435.0 C443.8,439.2 440.8,442.8 438.0,447.0 C435.2,451.2 431.0,455.7 428.0,460.0 C425.0,464.3 423.5,469.5 420.0,473.0 C416.5,476.5 411.0,480.5 407.0,481.0 C403.0,481.5 400.5,478.2 396.0,476.0 C391.5,473.8 385.7,469.8 380.0,468.0 C374.3,466.2 366.0,468.0 362.0,465.0 C358.0,462.0 357.0,455.8 356.0,450.0 C355.0,444.2 355.3,437.2 356.0,430.0 C356.7,422.8 358.3,412.5 360.0,407.0 C361.7,401.5 361.5,399.2 366.0,397.0 Z"/></clipPath></defs>
<path d="M366.0,397.0 C370.5,394.8 378.0,394.8 387.0,394.0 C396.0,393.2 413.5,391.0 420.0,392.0 C426.5,393.0 424.3,397.2 426.0,400.0 C427.7,402.8 426.8,405.3 430.0,409.0 C433.2,412.7 442.5,417.7 445.0,422.0 C447.5,426.3 446.2,430.8 445.0,435.0 C443.8,439.2 440.8,442.8 438.0,447.0 C435.2,451.2 431.0,455.7 428.0,460.0 C425.0,464.3 423.5,469.5 420.0,473.0 C416.5,476.5 411.0,480.5 407.0,481.0 C403.0,481.5 400.5,478.2 396.0,476.0 C391.5,473.8 385.7,469.8 380.0,468.0 C374.3,466.2 366.0,468.0 362.0,465.0 C358.0,462.0 357.0,455.8 356.0,450.0 C355.0,444.2 355.3,437.2 356.0,430.0 C356.7,422.8 358.3,412.5 360.0,407.0 C361.7,401.5 361.5,399.2 366.0,397.0 Z" fill="url(#tg4)" stroke="#1c3a9c" stroke-width="1.8"/>
<g clip-path="url(#ctg4)">
<ellipse cx="409.7" cy="454.6" rx="11.9" ry="8.3" transform="rotate(18 409.7 454.6)" fill="#72c8d0" opacity="0.5"/>
<ellipse cx="402.7" cy="461.9" rx="11.8" ry="8.2" transform="rotate(18 402.7 461.9)" fill="#5a9ee0" opacity="0.5"/>
<ellipse cx="430.5" cy="407.6" rx="9.6" ry="6.7" transform="rotate(-14 430.5 407.6)" fill="#5a9ee0" opacity="0.5"/>
<ellipse cx="370.7" cy="417.8" rx="11.4" ry="8.0" transform="rotate(-26 370.7 417.8)" fill="#a8dcf0" opacity="0.5"/>
<ellipse cx="431.6" cy="456.4" rx="7.4" ry="5.2" transform="rotate(-43 431.6 456.4)" fill="#4a86d8" opacity="0.5"/>
<ellipse cx="409.3" cy="408.6" rx="6.2" ry="4.4" transform="rotate(-35 409.3 408.6)" fill="#4a86d8" opacity="0.5"/>
<ellipse cx="379.2" cy="472.6" rx="12.4" ry="8.7" transform="rotate(-22 379.2 472.6)" fill="#9ae4e4" opacity="0.5"/>
<ellipse cx="378.0" cy="464.6" rx="10.7" ry="7.5" transform="rotate(53 378.0 464.6)" fill="#5a9ee0" opacity="0.5"/>
<ellipse cx="414.8" cy="471.4" rx="12.6" ry="8.8" transform="rotate(-57 414.8 471.4)" fill="#9ae4e4" opacity="0.5"/>
<ellipse cx="394.1" cy="469.1" rx="8.1" ry="5.7" transform="rotate(-24 394.1 469.1)" fill="#9ae4e4" opacity="0.5"/>
<ellipse cx="408.2" cy="399.4" rx="11.1" ry="7.7" transform="rotate(-52 408.2 399.4)" fill="#9ae4e4" opacity="0.5"/>
<ellipse cx="417" cy="419" rx="7" ry="6.0" fill="#3a60c8" opacity="0.75"/>
<ellipse cx="412" cy="459" rx="7" ry="6.0" fill="#3a60c8" opacity="0.75"/>
<ellipse cx="372" cy="440" rx="6" ry="5.1" fill="#3a60c8" opacity="0.75"/>
<path d="M389.7,422.0 q5.9,-2.4 10.3,-5.7" stroke="#f0ffff" stroke-width="1.2" fill="none" opacity="0.85" stroke-linecap="round"/>
<path d="M398.4,412.3 q4.1,-1.7 6.3,5.4" stroke="#f0ffff" stroke-width="1.2" fill="none" opacity="0.85" stroke-linecap="round"/>
<path d="M434.1,425.9 q4.7,-1.9 9.4,0.7" stroke="#f0ffff" stroke-width="1.2" fill="none" opacity="0.85" stroke-linecap="round"/>
<path d="M394.4,427.3 q6.5,-2.6 12.9,-1.0" stroke="#f0ffff" stroke-width="1.2" fill="none" opacity="0.85" stroke-linecap="round"/>
<path d="M416.0,445.7 q6.9,-2.8 11.4,-7.9" stroke="#f0ffff" stroke-width="1.2" fill="none" opacity="0.85" stroke-linecap="round"/>
<path d="M381.5,460.4 q5.0,-2.0 9.9,0.2" stroke="#f0ffff" stroke-width="1.2" fill="none" opacity="0.85" stroke-linecap="round"/>
<path d="M429.9,417.9 q5.0,-2.0 9.8,1.4" stroke="#f0ffff" stroke-width="1.2" fill="none" opacity="0.85" stroke-linecap="round"/>
<path d="M421.5,426.6 q4.3,-1.7 8.6,-0.9" stroke="#f0ffff" stroke-width="1.2" fill="none" opacity="0.85" stroke-linecap="round"/>
<path d="M436.3,414.7 q5.2,-2.1 10.1,-2.3" stroke="#f0ffff" stroke-width="1.2" fill="none" opacity="0.85" stroke-linecap="round"/>
<path d="M366.0,397.0 C370.5,394.8 378.0,394.8 387.0,394.0 C396.0,393.2 413.5,391.0 420.0,392.0 C426.5,393.0 424.3,397.2 426.0,400.0 C427.7,402.8 426.8,405.3 430.0,409.0 C433.2,412.7 442.5,417.7 445.0,422.0 C447.5,426.3 446.2,430.8 445.0,435.0 C443.8,439.2 440.8,442.8 438.0,447.0 C435.2,451.2 431.0,455.7 428.0,460.0 C425.0,464.3 423.5,469.5 420.0,473.0 C416.5,476.5 411.0,480.5 407.0,481.0 C403.0,481.5 400.5,478.2 396.0,476.0 C391.5,473.8 385.7,469.8 380.0,468.0 C374.3,466.2 366.0,468.0 362.0,465.0 C358.0,462.0 357.0,455.8 356.0,450.0 C355.0,444.2 355.3,437.2 356.0,430.0 C356.7,422.8 358.3,412.5 360.0,407.0 C361.7,401.5 361.5,399.2 366.0,397.0 Z" fill="none" stroke="#e8ffff" stroke-width="2.4" opacity="0.55"/>
</g>
<g transform="rotate(-15 394.8 437.3)"><ellipse cx="394.8" cy="437.3" rx="12.5" ry="17" fill="#3346c4" stroke="#1a1c8c" stroke-width="1.8"/><ellipse cx="395.4" cy="438.2" rx="6.9" ry="9.4" fill="#2a30b0" opacity="0.7"/><circle cx="392.3" cy="433.1" r="2.2" fill="#c8d8ff"/></g>
<path d="M366.0,397.0 C370.5,394.8 378.0,394.8 387.0,394.0 C396.0,393.2 413.5,391.0 420.0,392.0 C426.5,393.0 424.3,397.2 426.0,400.0 C427.7,402.8 426.8,405.3 430.0,409.0 C433.2,412.7 442.5,417.7 445.0,422.0 C447.5,426.3 446.2,430.8 445.0,435.0 C443.8,439.2 440.8,442.8 438.0,447.0 C435.2,451.2 431.0,455.7 428.0,460.0 C425.0,464.3 423.5,469.5 420.0,473.0 C416.5,476.5 411.0,480.5 407.0,481.0 C403.0,481.5 400.5,478.2 396.0,476.0 C391.5,473.8 385.7,469.8 380.0,468.0 C374.3,466.2 366.0,468.0 362.0,465.0 C358.0,462.0 357.0,455.8 356.0,450.0 C355.0,444.2 355.3,437.2 356.0,430.0 C356.7,422.8 358.3,412.5 360.0,407.0 C361.7,401.5 361.5,399.2 366.0,397.0 Z" fill="none" stroke="#ffffff" stroke-width="1.2" stroke-dasharray="9.0 6.0 3.0 14.0" opacity="0.8" transform="translate(-0.8,-0.8)"/>
</g>
<g opacity="1.0">
<defs><linearGradient id="tg5" x1="263" y1="524" x2="359" y2="592" gradientUnits="userSpaceOnUse"><stop offset="0" stop-color="#66bde2"/><stop offset="0.5" stop-color="#86d8d8"/><stop offset="1" stop-color="#66bde2"/></linearGradient><clipPath id="ctg5"><path d="M263.0,538.0 C264.4,535.5 269.5,534.8 274.0,533.0 C278.5,531.2 283.2,528.5 290.0,527.0 C296.8,525.5 308.8,524.2 315.0,524.0 C321.2,523.8 323.2,523.3 327.0,525.5 C330.8,527.7 333.8,532.9 338.0,537.0 C342.2,541.1 348.5,546.5 352.0,550.0 C355.5,553.5 358.5,554.7 359.0,558.0 C359.5,561.3 356.2,566.0 355.0,570.0 C353.8,574.0 354.2,578.3 352.0,582.0 C349.8,585.7 346.7,590.7 342.0,592.0 C337.3,593.3 329.3,590.7 324.0,590.0 C318.7,589.3 316.0,588.8 310.0,588.0 C304.0,587.2 293.5,586.0 288.0,585.0 C282.5,584.0 279.5,585.3 277.0,582.0 C274.5,578.7 274.9,570.7 273.0,565.0 C271.1,559.3 267.2,552.5 265.5,548.0 C263.8,543.5 261.6,540.5 263.0,538.0 Z"/></clipPath></defs>
<path d="M263.0,538.0 C264.4,535.5 269.5,534.8 274.0,533.0 C278.5,531.2 283.2,528.5 290.0,527.0 C296.8,525.5 308.8,524.2 315.0,524.0 C321.2,523.8 323.2,523.3 327.0,525.5 C330.8,527.7 333.8,532.9 338.0,537.0 C342.2,541.1 348.5,546.5 352.0,550.0 C355.5,553.5 358.5,554.7 359.0,558.0 C359.5,561.3 356.2,566.0 355.0,570.0 C353.8,574.0 354.2,578.3 352.0,582.0 C349.8,585.7 346.7,590.7 342.0,592.0 C337.3,593.3 329.3,590.7 324.0,590.0 C318.7,589.3 316.0,588.8 310.0,588.0 C304.0,587.2 293.5,586.0 288.0,585.0 C282.5,584.0 279.5,585.3 277.0,582.0 C274.5,578.7 274.9,570.7 273.0,565.0 C271.1,559.3 267.2,552.5 265.5,548.0 C263.8,543.5 261.6,540.5 263.0,538.0 Z" fill="url(#tg5)" stroke="#1c3a9c" stroke-width="1.8"/>
<g clip-path="url(#ctg5)">
<ellipse cx="308.0" cy="550.8" rx="5.5" ry="3.9" transform="rotate(-59 308.0 550.8)" fill="#72c8d0" opacity="0.5"/>
<ellipse cx="311.2" cy="580.8" rx="5.2" ry="3.6" transform="rotate(52 311.2 580.8)" fill="#4478cc" opacity="0.5"/>
<ellipse cx="327.1" cy="571.0" rx="5.7" ry="4.0" transform="rotate(54 327.1 571.0)" fill="#a8dcf0" opacity="0.5"/>
<ellipse cx="304.8" cy="539.1" rx="5.0" ry="3.5" transform="rotate(1 304.8 539.1)" fill="#5a9ee0" opacity="0.5"/>
<ellipse cx="345.2" cy="563.2" rx="9.0" ry="6.3" transform="rotate(35 345.2 563.2)" fill="#a8dcf0" opacity="0.5"/>
<ellipse cx="342.2" cy="581.9" rx="5.9" ry="4.1" transform="rotate(27 342.2 581.9)" fill="#5a9ee0" opacity="0.5"/>
<ellipse cx="304.7" cy="534.5" rx="6.2" ry="4.3" transform="rotate(-12 304.7 534.5)" fill="#5a9ee0" opacity="0.5"/>
<ellipse cx="298.2" cy="531.9" rx="8.6" ry="6.0" transform="rotate(46 298.2 531.9)" fill="#4a86d8" opacity="0.5"/>
<ellipse cx="275.1" cy="551.1" rx="7.4" ry="5.2" transform="rotate(-32 275.1 551.1)" fill="#4a86d8" opacity="0.5"/>
<ellipse cx="330.0" cy="578.0" rx="10.0" ry="7.0" transform="rotate(-45 330.0 578.0)" fill="#4a86d8" opacity="0.5"/>
<ellipse cx="317.3" cy="580.6" rx="5.9" ry="4.1" transform="rotate(47 317.3 580.6)" fill="#4a86d8" opacity="0.5"/>
<ellipse cx="289" cy="543" rx="6" ry="5.1" fill="#3a60c8" opacity="0.75"/>
<ellipse cx="339" cy="568" rx="6" ry="5.1" fill="#3a60c8" opacity="0.75"/>
<ellipse cx="300" cy="580" rx="7" ry="6.0" fill="#3a60c8" opacity="0.75"/>
<path d="M281.4,581.9 q5.5,-2.2 11.0,1.3" stroke="#f0ffff" stroke-width="1.2" fill="none" opacity="0.85" stroke-linecap="round"/>
<path d="M314.0,540.8 q3.7,-1.5 6.4,-3.5" stroke="#f0ffff" stroke-width="1.2" fill="none" opacity="0.85" stroke-linecap="round"/>
<path d="M332.4,569.5 q4.0,-1.6 6.1,5.2" stroke="#f0ffff" stroke-width="1.2" fill="none" opacity="0.85" stroke-linecap="round"/>
<path d="M328.7,531.8 q4.5,-1.8 8.7,2.6" stroke="#f0ffff" stroke-width="1.2" fill="none" opacity="0.85" stroke-linecap="round"/>
<path d="M339.4,572.0 q6.5,-2.6 13.0,1.6" stroke="#f0ffff" stroke-width="1.2" fill="none" opacity="0.85" stroke-linecap="round"/>
<path d="M273.4,579.1 q5.1,-2.0 8.1,6.2" stroke="#f0ffff" stroke-width="1.2" fill="none" opacity="0.85" stroke-linecap="round"/>
<path d="M283.7,558.3 q6.5,-2.6 11.1,6.9" stroke="#f0ffff" stroke-width="1.2" fill="none" opacity="0.85" stroke-linecap="round"/>
<path d="M312.8,561.7 q6.3,-2.5 10.5,7.0" stroke="#f0ffff" stroke-width="1.2" fill="none" opacity="0.85" stroke-linecap="round"/>
<path d="M279.5,579.8 q4.9,-2.0 8.8,-4.4" stroke="#f0ffff" stroke-width="1.2" fill="none" opacity="0.85" stroke-linecap="round"/>
<path d="M263.0,538.0 C264.4,535.5 269.5,534.8 274.0,533.0 C278.5,531.2 283.2,528.5 290.0,527.0 C296.8,525.5 308.8,524.2 315.0,524.0 C321.2,523.8 323.2,523.3 327.0,525.5 C330.8,527.7 333.8,532.9 338.0,537.0 C342.2,541.1 348.5,546.5 352.0,550.0 C355.5,553.5 358.5,554.7 359.0,558.0 C359.5,561.3 356.2,566.0 355.0,570.0 C353.8,574.0 354.2,578.3 352.0,582.0 C349.8,585.7 346.7,590.7 342.0,592.0 C337.3,593.3 329.3,590.7 324.0,590.0 C318.7,589.3 316.0,588.8 310.0,588.0 C304.0,587.2 293.5,586.0 288.0,585.0 C282.5,584.0 279.5,585.3 277.0,582.0 C274.5,578.7 274.9,570.7 273.0,565.0 C271.1,559.3 267.2,552.5 265.5,548.0 C263.8,543.5 261.6,540.5 263.0,538.0 Z" fill="none" stroke="#e8ffff" stroke-width="2.4" opacity="0.55"/>
</g>
<g transform="rotate(-15 311.8 557.6)"><ellipse cx="311.8" cy="557.6" rx="15.6" ry="11.4" fill="#3346c4" stroke="#1a1c8c" stroke-width="1.8"/><ellipse cx="312.6" cy="558.2" rx="8.6" ry="6.3" fill="#2a30b0" opacity="0.7"/><circle cx="308.7" cy="554.8" r="2.1" fill="#c8d8ff"/></g>
<path d="M263.0,538.0 C264.4,535.5 269.5,534.8 274.0,533.0 C278.5,531.2 283.2,528.5 290.0,527.0 C296.8,525.5 308.8,524.2 315.0,524.0 C321.2,523.8 323.2,523.3 327.0,525.5 C330.8,527.7 333.8,532.9 338.0,537.0 C342.2,541.1 348.5,546.5 352.0,550.0 C355.5,553.5 358.5,554.7 359.0,558.0 C359.5,561.3 356.2,566.0 355.0,570.0 C353.8,574.0 354.2,578.3 352.0,582.0 C349.8,585.7 346.7,590.7 342.0,592.0 C337.3,593.3 329.3,590.7 324.0,590.0 C318.7,589.3 316.0,588.8 310.0,588.0 C304.0,587.2 293.5,586.0 288.0,585.0 C282.5,584.0 279.5,585.3 277.0,582.0 C274.5,578.7 274.9,570.7 273.0,565.0 C271.1,559.3 267.2,552.5 265.5,548.0 C263.8,543.5 261.6,540.5 263.0,538.0 Z" fill="none" stroke="#ffffff" stroke-width="1.2" stroke-dasharray="9.0 6.0 3.0 14.0" opacity="0.8" transform="translate(-0.8,-0.8)"/>
</g>
</g>
<text x="354.5" y="314" text-anchor="middle" fill="#fffafa" stroke="#3a1a10" stroke-width="1.2" paint-order="stroke" font-size="29" textLength="65" lengthAdjust="spacingAndGlyphs">Liver</text>
<text x="354.4" y="354.4" text-anchor="middle" fill="#fffafa" stroke="#3a1a10" stroke-width="1.2" paint-order="stroke" font-size="29" textLength="105" lengthAdjust="spacingAndGlyphs">abscess</text>
<defs>
<clipPath id="rclipL"><path d="M1187,168 H1561 V932 H1187 Z"/></clipPath>
<clipPath id="rclipR"><path d="M1569,168 H1951 V932 H1569 Z"/></clipPath>
<clipPath id="rcirc"><circle cx="1569" cy="550" r="374.5"/></clipPath>
<linearGradient id="lumen" x1="0" y1="170" x2="0" y2="465" gradientUnits="userSpaceOnUse">
<stop offset="0" stop-color="#5e2940"/><stop offset="0.45" stop-color="#6c324e"/><stop offset="1" stop-color="#883b63"/></linearGradient>
<linearGradient id="mucus" x1="0" y1="450" x2="0" y2="510" gradientUnits="userSpaceOnUse">
<stop offset="0" stop-color="#a3678a"/><stop offset="1" stop-color="#b58aa1"/></linearGradient>
<linearGradient id="lpgrad" x1="0" y1="560" x2="0" y2="930" gradientUnits="userSpaceOnUse">
<stop offset="0" stop-color="#f1e1da"/><stop offset="1" stop-color="#efd7cc"/></linearGradient>
<radialGradient id="dmg" cx="0.5" cy="0.5" r="0.5">
<stop offset="0" stop-color="#9c4038" stop-opacity="0.55"/><stop offset="0.6" stop-color="#a8524a" stop-opacity="0.35"/><stop offset="1" stop-color="#b86860" stop-opacity="0"/></radialGradient>
<radialGradient id="shadow" cx="0.5" cy="0.5" r="0.5">
<stop offset="0" stop-color="#5a1f3a" stop-opacity="0.55"/><stop offset="1" stop-color="#5a1f3a" stop-opacity="0"/></radialGradient>
</defs>
<circle cx="1569" cy="550" r="380" fill="#c8e9e5"/>
<circle cx="1569" cy="550" r="376.1" fill="none" stroke="#98d0cc" stroke-width="2"/>
<g clip-path="url(#rcirc)">
<rect x="1189" y="170" width="760" height="760" fill="url(#lumen)"/>
<g clip-path="url(#rclipL)">
<path d="M1185.0,447.0 L1211.0,450.0 L1250.0,459.0 L1290.0,464.6 L1380.0,468.0 L1470.0,464.6 L1565.0,459.0 L1565.0,940.0 L1185.0,940.0 Z" fill="url(#mucus)"/>
<path d="M1212,458 l28,3.4" stroke="#f4e4ec" stroke-width="2" stroke-linecap="round" opacity="0.9"/>
<path d="M1255,467 l8,1.0" stroke="#f4e4ec" stroke-width="2" stroke-linecap="round" opacity="0.9"/>
<path d="M1282,470 l22,2.6" stroke="#f4e4ec" stroke-width="2" stroke-linecap="round" opacity="0.9"/>
<path d="M1305,472 l6,0.7" stroke="#f4e4ec" stroke-width="2" stroke-linecap="round" opacity="0.9"/>
<path d="M1445,471 l30,3.6" stroke="#f4e4ec" stroke-width="2" stroke-linecap="round" opacity="0.9"/>
<path d="M1480,469 l8,1.0" stroke="#f4e4ec" stroke-width="2" stroke-linecap="round" opacity="0.9"/>
<path d="M1185.0,500.0 L1215.0,487.0 L1238.0,492.0 L1248.0,506.0 L1251.0,520.0 L1256.0,520.0 L1260.0,506.0 L1280.0,492.0 L1308.0,487.0 L1362.0,483.5 L1416.0,488.0 L1440.0,495.0 L1452.0,506.0 L1454.0,520.0 L1459.0,520.0 L1462.0,506.0 L1480.0,492.0 L1520.0,485.0 L1565.0,483.0 L1565.0,940.0 L1185.0,940.0 Z" fill="#e8b3bb"/>
<path d="M1293.3,493.6 C1293.2,496.3 1293.4,503.7 1294.0,509.6 C1294.5,515.5 1295.5,522.6 1296.6,529.0 C1297.7,535.4 1299.2,542.6 1300.7,548.1 C1302.1,553.6 1303.7,557.7 1305.5,562.0 C1307.3,566.2 1309.6,570.3 1311.3,573.5 C1313.1,576.8 1315.2,580.1 1316.2,581.3 C1317.1,582.6 1316.8,582.7 1317.0,581.1 C1317.2,579.6 1317.5,575.6 1317.4,572.0 C1317.4,568.3 1317.4,563.6 1316.9,559.0 C1316.4,554.4 1315.8,550.1 1314.4,544.5 C1313.0,539.0 1310.8,532.0 1308.7,525.9 C1306.5,519.7 1303.9,513.0 1301.5,507.6 C1299.1,502.2 1295.8,495.7 1294.4,493.3 C1293.0,491.0 1293.3,490.9 1293.3,493.6 Z" fill="#e6e39e" stroke="#8d6c5e" stroke-width="0.9"/>
<ellipse cx="1309.0" cy="552.0" rx="6.0" ry="4.4" transform="rotate(75 1309.0 552.0)" fill="#6f9270"/>
<path d="M1363.5,487.7 C1362.7,490.2 1360.9,496.9 1359.8,502.4 C1358.6,507.9 1357.5,514.6 1356.7,520.7 C1356.0,526.8 1355.3,533.7 1355.2,539.1 C1355.1,544.5 1355.5,548.7 1356.1,553.0 C1356.6,557.3 1357.8,561.6 1358.6,565.0 C1359.5,568.4 1360.7,572.0 1361.3,573.4 C1361.9,574.8 1361.6,574.8 1362.3,573.4 C1362.9,572.1 1364.3,568.6 1365.4,565.2 C1366.4,561.9 1367.8,557.6 1368.6,553.3 C1369.4,549.0 1370.0,544.9 1370.2,539.5 C1370.4,534.2 1370.1,527.2 1369.7,521.1 C1369.3,514.9 1368.5,508.1 1367.7,502.6 C1366.8,497.0 1365.4,490.2 1364.7,487.8 C1364.0,485.3 1364.3,485.3 1363.5,487.7 Z" fill="#e6e39e" stroke="#8d6c5e" stroke-width="0.9"/>
<ellipse cx="1362.6" cy="544.8" rx="6.0" ry="4.4" transform="rotate(92 1362.6 544.8)" fill="#6f9270"/>
<path d="M1419.6,493.3 C1418.2,495.6 1414.9,502.1 1412.5,507.6 C1410.1,513.0 1407.5,519.7 1405.3,525.8 C1403.2,532.0 1400.9,539.0 1399.6,544.5 C1398.2,550.0 1397.6,554.3 1397.1,558.9 C1396.6,563.5 1396.6,568.2 1396.6,571.9 C1396.6,575.6 1396.8,579.5 1397.0,581.0 C1397.2,582.6 1396.9,582.5 1397.9,581.3 C1398.8,580.0 1400.9,576.7 1402.7,573.5 C1404.5,570.2 1406.8,566.1 1408.6,561.9 C1410.4,557.7 1411.9,553.5 1413.4,548.1 C1414.9,542.6 1416.4,535.4 1417.5,529.0 C1418.6,522.6 1419.5,515.4 1420.0,509.5 C1420.6,503.6 1420.8,496.3 1420.8,493.6 C1420.7,490.9 1421.0,491.0 1419.6,493.3 Z" fill="#e6e39e" stroke="#8d6c5e" stroke-width="0.9"/>
<ellipse cx="1405.0" cy="551.9" rx="6.0" ry="4.4" transform="rotate(105 1405.0 551.9)" fill="#6f9270"/>
<path d="M1262.0,506.0 Q1285.4,556.5 1311.0,605.0" stroke="#a26a82" stroke-width="1" fill="none"/>
<path d="M1273.3,497.2 Q1293.6,545.8 1312.4,595.8" stroke="#a26a82" stroke-width="1" fill="none"/>
<path d="M1285.8,491.0 Q1299.8,538.6 1313.8,586.6" stroke="#a26a82" stroke-width="1" fill="none"/>
<path d="M1299.9,488.4 Q1310.9,535.9 1320.9,581.6" stroke="#a26a82" stroke-width="1" fill="none"/>
<path d="M1314.1,486.6 Q1320.5,530.6 1329.2,577.4" stroke="#a26a82" stroke-width="1" fill="none"/>
<path d="M1328.4,485.7 Q1334.4,531.0 1338.4,576.7" stroke="#a26a82" stroke-width="1" fill="none"/>
<path d="M1342.7,484.7 Q1346.0,529.1 1347.7,576.3" stroke="#a26a82" stroke-width="1" fill="none"/>
<path d="M1357.1,483.8 Q1356.9,530.6 1357.1,576.0" stroke="#a26a82" stroke-width="1" fill="none"/>
<path d="M1371.4,484.3 Q1368.0,531.6 1366.4,576.3" stroke="#a26a82" stroke-width="1" fill="none"/>
<path d="M1385.7,485.5 Q1381.9,529.7 1375.7,576.7" stroke="#a26a82" stroke-width="1" fill="none"/>
<path d="M1400.0,486.7 Q1391.0,532.0 1385.0,577.0" stroke="#a26a82" stroke-width="1" fill="none"/>
<path d="M1414.3,487.9 Q1405.0,534.3 1393.2,581.4" stroke="#a26a82" stroke-width="1" fill="none"/>
<path d="M1428.1,491.5 Q1413.3,538.8 1400.2,586.6" stroke="#a26a82" stroke-width="1" fill="none"/>
<path d="M1441.4,496.3 Q1420.1,545.2 1401.6,595.8" stroke="#a26a82" stroke-width="1" fill="none"/>
<path d="M1452.0,506.0 Q1427.3,555.5 1403.0,605.0" stroke="#a26a82" stroke-width="1" fill="none"/>
<ellipse cx="1297.5" cy="568.5" rx="6.0" ry="4.4" transform="rotate(66 1297.5 568.5)" fill="#857592"/>
<ellipse cx="1302.2" cy="559.8" rx="6.0" ry="4.4" transform="rotate(71 1302.2 559.8)" fill="#857592"/>
<ellipse cx="1319.2" cy="549.6" rx="6.0" ry="4.4" transform="rotate(79 1319.2 549.6)" fill="#857592"/>
<ellipse cx="1330.2" cy="551.0" rx="6.0" ry="4.4" transform="rotate(82 1330.2 551.0)" fill="#857592"/>
<ellipse cx="1340.7" cy="547.9" rx="6.0" ry="4.4" transform="rotate(85 1340.7 547.9)" fill="#857592"/>
<ellipse cx="1351.5" cy="543.4" rx="6.0" ry="4.4" transform="rotate(88 1351.5 543.4)" fill="#857592"/>
<ellipse cx="1372.7" cy="555.8" rx="6.0" ry="4.4" transform="rotate(95 1372.7 555.8)" fill="#857592"/>
<ellipse cx="1383.7" cy="552.2" rx="6.0" ry="4.4" transform="rotate(98 1383.7 552.2)" fill="#857592"/>
<ellipse cx="1393.7" cy="555.5" rx="6.0" ry="4.4" transform="rotate(101 1393.7 555.5)" fill="#857592"/>
<ellipse cx="1412.1" cy="559.1" rx="6.0" ry="4.4" transform="rotate(109 1412.1 559.1)" fill="#857592"/>
<ellipse cx="1411.2" cy="580.4" rx="6.0" ry="4.4" transform="rotate(114 1411.2 580.4)" fill="#857592"/>
<path d="M1258.5,599.5 C1259.2,601.6 1261.5,606.7 1263.6,610.4 C1265.8,614.2 1268.6,618.5 1271.5,622.0 C1274.3,625.5 1277.7,629.2 1280.8,631.5 C1283.8,633.8 1286.7,634.8 1289.9,635.6 C1293.1,636.3 1297.0,636.1 1300.1,635.9 C1303.1,635.7 1306.7,634.9 1308.3,634.4 C1309.8,633.9 1309.5,634.4 1309.4,632.8 C1309.4,631.1 1308.9,627.5 1308.0,624.5 C1307.2,621.6 1306.1,617.9 1304.3,615.1 C1302.5,612.3 1300.6,610.0 1297.4,607.9 C1294.2,605.7 1289.6,603.8 1285.3,602.3 C1281.0,600.8 1276.0,599.6 1271.8,598.9 C1267.5,598.1 1261.9,597.7 1259.7,597.8 C1257.5,597.9 1257.9,597.4 1258.5,599.5 Z" fill="#e6e39e" stroke="#8d6c5e" stroke-width="0.9"/>
<ellipse cx="1292.3" cy="621.9" rx="6.0" ry="4.4" transform="rotate(35 1292.3 621.9)" fill="#6f9270"/>
<path d="M1258.9,673.2 C1259.7,675.1 1262.3,679.3 1264.6,682.4 C1266.9,685.4 1269.9,688.8 1272.8,691.4 C1275.7,694.1 1279.1,696.8 1282.0,698.2 C1284.9,699.6 1287.6,699.9 1290.4,699.9 C1293.3,699.8 1296.7,698.6 1299.3,697.7 C1302.0,696.8 1305.0,695.2 1306.3,694.4 C1307.7,693.5 1307.4,694.0 1307.2,692.5 C1307.0,690.9 1306.1,687.6 1305.0,685.0 C1303.9,682.5 1302.5,679.2 1300.6,677.0 C1298.8,674.8 1296.8,673.1 1293.8,671.8 C1290.7,670.6 1286.5,669.9 1282.6,669.5 C1278.7,669.1 1274.1,669.2 1270.3,669.5 C1266.5,669.8 1261.6,670.7 1259.7,671.3 C1257.8,672.0 1258.1,671.4 1258.9,673.2 Z" fill="#e6e39e" stroke="#8d6c5e" stroke-width="0.9"/>
<ellipse cx="1290.9" cy="686.4" rx="6.0" ry="4.4" transform="rotate(24 1290.9 686.4)" fill="#6f9270"/>
<path d="M1259.3,746.9 C1260.2,748.4 1262.7,751.7 1264.9,753.9 C1267.0,756.1 1269.7,758.4 1272.2,760.1 C1274.7,761.7 1277.5,763.3 1279.9,763.8 C1282.3,764.3 1284.2,763.9 1286.3,763.0 C1288.4,762.1 1290.7,760.0 1292.5,758.4 C1294.3,756.8 1296.3,754.4 1297.1,753.2 C1298.0,752.0 1297.9,752.6 1297.5,751.2 C1297.1,749.8 1296.0,746.9 1294.8,744.8 C1293.6,742.7 1292.1,740.0 1290.4,738.5 C1288.7,736.9 1287.0,735.9 1284.6,735.6 C1282.2,735.3 1279.0,735.9 1276.1,736.6 C1273.2,737.3 1269.9,738.7 1267.2,740.0 C1264.4,741.4 1261.0,743.7 1259.7,744.9 C1258.4,746.0 1258.5,745.4 1259.3,746.9 Z" fill="#e6e39e" stroke="#8d6c5e" stroke-width="0.9"/>
<ellipse cx="1284.7" cy="750.1" rx="6.0" ry="4.4" transform="rotate(9 1284.7 750.1)" fill="#6f9270"/>
<path d="M1257.0,560.0 Q1285.4,583.8 1311.0,605.0" stroke="#a26a82" stroke-width="1" fill="none"/>
<path d="M1257.0,584.8 Q1282.5,603.5 1310.6,624.8" stroke="#a26a82" stroke-width="1" fill="none"/>
<path d="M1257.0,609.5 Q1284.6,627.8 1310.3,644.6" stroke="#a26a82" stroke-width="1" fill="none"/>
<path d="M1257.0,634.3 Q1283.9,648.8 1309.8,664.4" stroke="#a26a82" stroke-width="1" fill="none"/>
<path d="M1257.2,659.0 Q1283.3,671.9 1308.8,684.2" stroke="#a26a82" stroke-width="1" fill="none"/>
<path d="M1257.4,683.8 Q1282.8,692.9 1307.8,704.0" stroke="#a26a82" stroke-width="1" fill="none"/>
<path d="M1257.6,708.5 Q1281.6,715.8 1306.0,723.7" stroke="#a26a82" stroke-width="1" fill="none"/>
<path d="M1257.8,733.3 Q1280.1,739.5 1301.0,742.8" stroke="#a26a82" stroke-width="1" fill="none"/>
<path d="M1258.0,758.0 Q1278.3,760.1 1296.0,762.0" stroke="#a26a82" stroke-width="1" fill="none"/>
<ellipse cx="1295.3" cy="602.6" rx="6.0" ry="4.4" transform="rotate(38 1295.3 602.6)" fill="#857592"/>
<ellipse cx="1293.2" cy="644.2" rx="6.0" ry="4.4" transform="rotate(32 1293.2 644.2)" fill="#857592"/>
<ellipse cx="1290.8" cy="664.5" rx="6.0" ry="4.4" transform="rotate(28 1290.8 664.5)" fill="#857592"/>
<ellipse cx="1289.3" cy="707.5" rx="6.0" ry="4.4" transform="rotate(20 1289.3 707.5)" fill="#857592"/>
<ellipse cx="1290.4" cy="729.7" rx="6.0" ry="4.4" transform="rotate(15 1290.4 729.7)" fill="#857592"/>
<path d="M1248.7,560.5 C1247.2,559.2 1243.1,556.2 1239.7,554.1 C1236.3,552.0 1232.1,549.6 1228.2,547.8 C1224.4,546.1 1220.0,544.1 1216.6,543.4 C1213.1,542.8 1210.3,542.9 1207.4,543.7 C1204.5,544.6 1201.4,546.6 1199.0,548.3 C1196.5,550.0 1193.9,552.6 1192.8,553.9 C1191.8,555.2 1191.8,554.6 1192.6,556.1 C1193.3,557.6 1195.3,560.8 1197.3,563.0 C1199.3,565.2 1201.8,567.9 1204.5,569.3 C1207.1,570.7 1209.8,571.5 1213.3,571.7 C1216.9,571.8 1221.5,570.9 1225.7,570.0 C1229.9,569.1 1234.5,567.8 1238.3,566.5 C1242.1,565.2 1246.8,563.3 1248.5,562.3 C1250.2,561.3 1250.2,561.9 1248.7,560.5 Z" fill="#e6e39e" stroke="#8d6c5e" stroke-width="0.9"/>
<ellipse cx="1211.3" cy="557.1" rx="6.0" ry="4.4" transform="rotate(-173 1211.3 557.1)" fill="#6f9270"/>
<path d="M1248.7,622.7 C1247.1,621.4 1242.9,618.7 1239.4,616.8 C1235.9,614.9 1231.6,612.8 1227.7,611.3 C1223.8,609.7 1219.4,608.1 1215.9,607.6 C1212.4,607.2 1209.7,607.5 1206.8,608.5 C1204.0,609.5 1201.1,611.7 1198.8,613.5 C1196.5,615.4 1194.1,618.2 1193.1,619.5 C1192.1,620.9 1192.1,620.3 1193.0,621.8 C1193.8,623.2 1195.9,626.2 1198.0,628.3 C1200.1,630.4 1202.8,632.9 1205.5,634.2 C1208.2,635.4 1210.9,636.1 1214.4,636.0 C1217.9,635.9 1222.5,634.7 1226.5,633.6 C1230.6,632.4 1235.0,630.8 1238.7,629.3 C1242.4,627.7 1246.9,625.5 1248.6,624.4 C1250.2,623.3 1250.2,623.9 1248.7,622.7 Z" fill="#e6e39e" stroke="#8d6c5e" stroke-width="0.9"/>
<ellipse cx="1211.6" cy="621.6" rx="6.0" ry="4.4" transform="rotate(-177 1211.6 621.6)" fill="#6f9270"/>
<path d="M1248.8,684.8 C1247.3,683.6 1243.1,681.2 1239.8,679.6 C1236.4,677.9 1232.3,676.0 1228.6,674.7 C1224.8,673.4 1220.6,672.1 1217.4,671.8 C1214.1,671.5 1211.6,672.1 1209.0,673.2 C1206.4,674.4 1203.8,676.8 1201.8,678.7 C1199.8,680.7 1197.7,683.7 1196.8,685.1 C1196.0,686.5 1196.0,685.9 1196.9,687.3 C1197.7,688.7 1199.9,691.6 1201.9,693.6 C1204.0,695.5 1206.6,697.8 1209.3,698.9 C1211.9,700.0 1214.4,700.5 1217.6,700.2 C1220.9,699.9 1225.1,698.4 1228.8,697.0 C1232.5,695.7 1236.6,693.7 1239.9,692.0 C1243.2,690.3 1247.3,687.8 1248.8,686.6 C1250.3,685.4 1250.3,686.0 1248.8,684.8 Z" fill="#e6e39e" stroke="#8d6c5e" stroke-width="0.9"/>
<ellipse cx="1214.2" cy="686.0" rx="6.0" ry="4.4" transform="rotate(179 1214.2 686.0)" fill="#6f9270"/>
<path d="M1249.6,726.2 C1248.3,725.1 1244.8,722.7 1242.0,721.2 C1239.1,719.6 1235.7,717.8 1232.5,716.6 C1229.4,715.4 1225.8,714.1 1223.1,713.9 C1220.4,713.7 1218.3,714.3 1216.2,715.5 C1214.1,716.7 1212.0,719.1 1210.4,721.1 C1208.7,723.1 1207.1,726.0 1206.4,727.5 C1205.8,728.9 1205.8,728.3 1206.5,729.7 C1207.2,731.1 1209.1,733.9 1210.9,735.8 C1212.7,737.7 1214.9,739.9 1217.1,741.0 C1219.3,742.0 1221.4,742.4 1224.1,742.0 C1226.8,741.7 1230.3,740.1 1233.3,738.7 C1236.3,737.3 1239.7,735.3 1242.4,733.5 C1245.1,731.7 1248.4,729.2 1249.6,727.9 C1250.8,726.7 1250.9,727.3 1249.6,726.2 Z" fill="#e6e39e" stroke="#8d6c5e" stroke-width="0.9"/>
<ellipse cx="1220.8" cy="728.1" rx="6.0" ry="4.4" transform="rotate(178 1220.8 728.1)" fill="#6f9270"/>
<path d="M1251.0,510.0 Q1220.7,505.1 1192.0,500.0" stroke="#a26a82" stroke-width="1" fill="none"/>
<path d="M1251.0,530.7 Q1220.9,526.6 1191.6,521.9" stroke="#a26a82" stroke-width="1" fill="none"/>
<path d="M1251.0,551.3 Q1221.4,546.3 1191.1,543.8" stroke="#a26a82" stroke-width="1" fill="none"/>
<path d="M1251.0,572.0 Q1219.4,569.9 1190.7,565.8" stroke="#a26a82" stroke-width="1" fill="none"/>
<path d="M1251.0,592.7 Q1219.9,589.4 1190.2,587.7" stroke="#a26a82" stroke-width="1" fill="none"/>
<path d="M1251.0,613.3 Q1222.3,611.4 1190.6,609.6" stroke="#a26a82" stroke-width="1" fill="none"/>
<path d="M1251.0,634.0 Q1222.5,632.7 1191.9,631.5" stroke="#a26a82" stroke-width="1" fill="none"/>
<path d="M1251.0,654.7 Q1222.5,653.0 1193.2,653.4" stroke="#a26a82" stroke-width="1" fill="none"/>
<path d="M1251.0,675.3 Q1223.2,676.4 1194.5,675.3" stroke="#a26a82" stroke-width="1" fill="none"/>
<path d="M1251.0,696.0 Q1223.5,697.3 1195.8,697.2" stroke="#a26a82" stroke-width="1" fill="none"/>
<path d="M1251.3,716.7 Q1227.0,716.1 1201.8,718.2" stroke="#a26a82" stroke-width="1" fill="none"/>
<path d="M1251.6,737.3 Q1230.8,738.5 1208.4,739.1" stroke="#a26a82" stroke-width="1" fill="none"/>
<path d="M1252.0,758.0 Q1232.9,757.6 1215.0,760.0" stroke="#a26a82" stroke-width="1" fill="none"/>
<ellipse cx="1204.9" cy="513.0" rx="6.0" ry="4.4" transform="rotate(-171 1204.9 513.0)" fill="#857592"/>
<ellipse cx="1208.3" cy="535.2" rx="6.0" ry="4.4" transform="rotate(-172 1208.3 535.2)" fill="#857592"/>
<ellipse cx="1205.3" cy="578.1" rx="6.0" ry="4.4" transform="rotate(-175 1205.3 578.1)" fill="#857592"/>
<ellipse cx="1203.7" cy="599.6" rx="6.0" ry="4.4" transform="rotate(-176 1203.7 599.6)" fill="#857592"/>
<ellipse cx="1206.9" cy="642.9" rx="6.0" ry="4.4" transform="rotate(-178 1206.9 642.9)" fill="#857592"/>
<ellipse cx="1206.0" cy="664.5" rx="6.0" ry="4.4" transform="rotate(-179 1206.0 664.5)" fill="#857592"/>
<ellipse cx="1214.3" cy="707.3" rx="6.0" ry="4.4" transform="rotate(179 1214.3 707.3)" fill="#857592"/>
<ellipse cx="1221.0" cy="749.1" rx="6.0" ry="4.4" transform="rotate(177 1221.0 749.1)" fill="#857592"/>
<path d="M1450.9,619.8 C1448.9,619.4 1443.9,619.0 1440.0,619.1 C1436.2,619.3 1431.6,619.8 1427.7,620.7 C1423.8,621.5 1419.6,622.8 1416.6,624.4 C1413.7,626.0 1411.7,627.9 1409.9,630.2 C1408.0,632.5 1406.7,635.7 1405.6,638.2 C1404.5,640.6 1403.6,643.7 1403.4,645.1 C1403.1,646.5 1402.9,646.0 1404.2,646.6 C1405.5,647.2 1408.5,648.2 1411.2,648.7 C1413.8,649.2 1417.2,649.8 1420.2,649.6 C1423.1,649.4 1425.8,648.9 1428.8,647.3 C1431.7,645.7 1435.2,642.9 1438.1,640.2 C1441.0,637.5 1444.0,634.0 1446.3,630.9 C1448.6,627.8 1451.0,623.4 1451.8,621.6 C1452.6,619.7 1452.8,620.2 1450.9,619.8 Z" fill="#e6e39e" stroke="#8d6c5e" stroke-width="0.9"/>
<ellipse cx="1419.6" cy="637.5" rx="6.0" ry="4.4" transform="rotate(152 1419.6 637.5)" fill="#6f9270"/>
<path d="M1453.0,560.0 Q1427.2,581.3 1403.0,605.0" stroke="#a26a82" stroke-width="1" fill="none"/>
<path d="M1453.1,583.8 Q1427.6,601.7 1402.7,621.7" stroke="#a26a82" stroke-width="1" fill="none"/>
<path d="M1453.3,607.7 Q1426.5,622.7 1402.4,638.3" stroke="#a26a82" stroke-width="1" fill="none"/>
<path d="M1453.4,631.5 Q1429.0,644.2 1402.1,655.0" stroke="#a26a82" stroke-width="1" fill="none"/>
<path d="M1453.6,655.3 Q1428.9,662.7 1402.5,671.7" stroke="#a26a82" stroke-width="1" fill="none"/>
<path d="M1453.8,679.2 Q1428.6,683.1 1403.3,688.3" stroke="#a26a82" stroke-width="1" fill="none"/>
<path d="M1454.0,703.0 Q1428.0,702.8 1404.0,705.0" stroke="#a26a82" stroke-width="1" fill="none"/>
<ellipse cx="1419.2" cy="599.8" rx="6.0" ry="4.4" transform="rotate(140 1419.2 599.8)" fill="#857592"/>
<ellipse cx="1413.3" cy="622.8" rx="6.0" ry="4.4" transform="rotate(146 1413.3 622.8)" fill="#857592"/>
<ellipse cx="1414.0" cy="658.8" rx="6.0" ry="4.4" transform="rotate(159 1414.0 658.8)" fill="#857592"/>
<ellipse cx="1414.6" cy="677.1" rx="6.0" ry="4.4" transform="rotate(166 1414.6 677.1)" fill="#857592"/>
<ellipse cx="1415.3" cy="695.4" rx="6.0" ry="4.4" transform="rotate(174 1415.3 695.4)" fill="#857592"/>
<path d="M1479.6,498.5 C1480.0,501.3 1481.6,508.9 1483.2,515.0 C1484.9,521.1 1487.1,528.4 1489.3,535.0 C1491.5,541.6 1494.1,548.9 1496.4,554.5 C1498.7,560.1 1500.8,564.3 1503.2,568.6 C1505.6,572.9 1508.4,576.9 1510.6,580.1 C1512.9,583.3 1515.6,586.5 1516.8,587.7 C1518.0,588.9 1517.7,589.0 1517.7,587.3 C1517.7,585.6 1517.3,581.4 1516.7,577.6 C1516.0,573.7 1515.1,568.9 1513.8,564.2 C1512.4,559.5 1510.9,555.1 1508.5,549.5 C1506.2,543.9 1502.8,536.9 1499.7,530.7 C1496.5,524.5 1492.9,517.7 1489.7,512.3 C1486.5,506.9 1482.3,500.4 1480.6,498.1 C1478.9,495.8 1479.1,495.7 1479.6,498.5 Z" fill="#e6e39e" stroke="#8d6c5e" stroke-width="0.9"/>
<ellipse cx="1504.9" cy="557.8" rx="6.0" ry="4.4" transform="rotate(67 1504.9 557.8)" fill="#6f9270"/>
<path d="M1517.7,489.1 C1517.3,491.4 1516.9,497.7 1516.8,502.8 C1516.8,507.9 1516.9,514.0 1517.3,519.6 C1517.6,525.2 1518.2,531.4 1519.0,536.2 C1519.9,541.0 1520.9,544.6 1522.2,548.4 C1523.5,552.1 1525.4,555.7 1526.9,558.5 C1528.4,561.4 1530.2,564.3 1531.1,565.4 C1531.9,566.5 1531.6,566.6 1532.1,565.3 C1532.5,563.9 1533.3,560.5 1533.7,557.4 C1534.1,554.2 1534.6,550.1 1534.6,546.2 C1534.6,542.3 1534.3,538.5 1533.5,533.7 C1532.6,528.9 1531.1,522.8 1529.5,517.5 C1528.0,512.1 1526.0,506.2 1524.2,501.5 C1522.4,496.7 1519.9,490.9 1518.8,488.9 C1517.7,486.8 1518.0,486.8 1517.7,489.1 Z" fill="#e6e39e" stroke="#8d6c5e" stroke-width="0.9"/>
<ellipse cx="1527.1" cy="539.9" rx="6.0" ry="4.4" transform="rotate(80 1527.1 539.9)" fill="#6f9270"/>
<path d="M1462.0,506.0 Q1489.9,556.2 1517.0,605.0" stroke="#a26a82" stroke-width="1" fill="none"/>
<path d="M1472.7,497.7 Q1496.2,547.8 1518.0,595.2" stroke="#a26a82" stroke-width="1" fill="none"/>
<path d="M1484.2,491.3 Q1502.3,539.6 1519.0,585.5" stroke="#a26a82" stroke-width="1" fill="none"/>
<path d="M1497.6,488.9 Q1507.4,532.2 1519.9,575.7" stroke="#a26a82" stroke-width="1" fill="none"/>
<path d="M1511.0,486.6 Q1520.7,528.9 1527.8,570.3" stroke="#a26a82" stroke-width="1" fill="none"/>
<path d="M1524.4,484.8 Q1531.5,523.9 1536.2,565.3" stroke="#a26a82" stroke-width="1" fill="none"/>
<path d="M1537.9,484.2 Q1541.6,522.8 1545.4,563.0" stroke="#a26a82" stroke-width="1" fill="none"/>
<path d="M1551.5,483.6 Q1553.5,523.5 1555.2,563.0" stroke="#a26a82" stroke-width="1" fill="none"/>
<path d="M1565.0,483.0 Q1563.5,522.2 1565.0,563.0" stroke="#a26a82" stroke-width="1" fill="none"/>
<ellipse cx="1501.7" cy="569.1" rx="6.0" ry="4.4" transform="rotate(63 1501.7 569.1)" fill="#857592"/>
<ellipse cx="1513.4" cy="561.3" rx="6.0" ry="4.4" transform="rotate(73 1513.4 561.3)" fill="#857592"/>
<ellipse cx="1519.2" cy="552.8" rx="6.0" ry="4.4" transform="rotate(77 1519.2 552.8)" fill="#857592"/>
<ellipse cx="1537.6" cy="537.5" rx="6.0" ry="4.4" transform="rotate(83 1537.6 537.5)" fill="#857592"/>
<ellipse cx="1549.0" cy="544.6" rx="6.0" ry="4.4" transform="rotate(86 1549.0 544.6)" fill="#857592"/>
<ellipse cx="1559.5" cy="536.1" rx="6.0" ry="4.4" transform="rotate(89 1559.5 536.1)" fill="#857592"/>
<path d="M1461.8,598.0 C1462.6,600.0 1465.4,604.8 1468.0,608.3 C1470.5,611.8 1473.8,615.7 1477.1,618.9 C1480.4,622.1 1484.2,625.4 1487.5,627.4 C1490.9,629.4 1493.8,630.3 1497.1,630.9 C1500.3,631.5 1504.1,631.2 1507.1,631.0 C1510.0,630.8 1513.4,630.2 1514.8,629.7 C1516.3,629.3 1516.0,629.7 1515.7,628.3 C1515.5,626.8 1514.5,623.5 1513.2,620.8 C1512.0,618.1 1510.5,614.6 1508.4,612.0 C1506.4,609.4 1504.2,607.2 1500.9,605.2 C1497.6,603.2 1492.8,601.4 1488.5,600.0 C1484.2,598.6 1479.1,597.5 1474.8,596.9 C1470.6,596.3 1465.0,596.1 1462.8,596.3 C1460.6,596.4 1460.9,596.0 1461.8,598.0 Z" fill="#e6e39e" stroke="#8d6c5e" stroke-width="0.9"/>
<ellipse cx="1497.6" cy="618.4" rx="6.0" ry="4.4" transform="rotate(31 1497.6 618.4)" fill="#6f9270"/>
<path d="M1462.0,668.7 C1463.2,670.3 1466.7,673.9 1469.6,676.3 C1472.6,678.7 1476.3,681.3 1479.8,683.1 C1483.3,685.0 1487.3,686.8 1490.5,687.5 C1493.8,688.3 1496.4,688.1 1499.3,687.5 C1502.1,687.0 1505.2,685.5 1507.7,684.3 C1510.1,683.1 1512.7,681.4 1513.8,680.5 C1514.9,679.6 1514.8,680.1 1514.2,678.8 C1513.6,677.5 1512.0,674.8 1510.3,672.7 C1508.7,670.6 1506.5,667.9 1504.2,666.1 C1501.9,664.4 1499.5,663.1 1496.3,662.3 C1493.1,661.5 1488.7,661.4 1484.7,661.6 C1480.8,661.8 1476.3,662.4 1472.6,663.3 C1468.9,664.2 1464.2,665.9 1462.5,666.8 C1460.7,667.7 1460.8,667.2 1462.0,668.7 Z" fill="#e6e39e" stroke="#8d6c5e" stroke-width="0.9"/>
<ellipse cx="1496.7" cy="675.7" rx="6.0" ry="4.4" transform="rotate(13 1496.7 675.7)" fill="#6f9270"/>
<path d="M1460.0,560.0 Q1489.4,583.5 1517.0,605.0" stroke="#a26a82" stroke-width="1" fill="none"/>
<path d="M1460.0,583.8 Q1488.5,602.0 1517.0,621.7" stroke="#a26a82" stroke-width="1" fill="none"/>
<path d="M1460.0,607.7 Q1487.0,623.5 1517.0,638.4" stroke="#a26a82" stroke-width="1" fill="none"/>
<path d="M1460.0,631.5 Q1488.4,644.1 1517.0,655.0" stroke="#a26a82" stroke-width="1" fill="none"/>
<path d="M1460.0,655.3 Q1487.7,664.3 1516.2,671.7" stroke="#a26a82" stroke-width="1" fill="none"/>
<path d="M1460.0,679.2 Q1486.9,684.7 1515.1,688.4" stroke="#a26a82" stroke-width="1" fill="none"/>
<path d="M1460.0,703.0 Q1487.7,703.7 1514.0,705.0" stroke="#a26a82" stroke-width="1" fill="none"/>
<ellipse cx="1501.4" cy="602.0" rx="6.0" ry="4.4" transform="rotate(36 1501.4 602.0)" fill="#857592"/>
<ellipse cx="1502.7" cy="639.9" rx="6.0" ry="4.4" transform="rotate(25 1502.7 639.9)" fill="#857592"/>
<ellipse cx="1498.0" cy="656.8" rx="6.0" ry="4.4" transform="rotate(19 1498.0 656.8)" fill="#857592"/>
<ellipse cx="1499.7" cy="695.2" rx="6.0" ry="4.4" transform="rotate(6 1499.7 695.2)" fill="#857592"/>
<path d="M1404.0,705.0 Q1427.5,703.0 1452.0,703.0" stroke="#a26a82" stroke-width="1" fill="none"/>
<path d="M1414.2,723.5 Q1434.2,713.0 1453.4,705.1" stroke="#a26a82" stroke-width="1" fill="none"/>
<path d="M1435.3,731.3 Q1445.2,718.7 1455.0,707.0" stroke="#a26a82" stroke-width="1" fill="none"/>
<path d="M1457.5,733.0 Q1455.9,720.5 1457.0,708.0" stroke="#a26a82" stroke-width="1" fill="none"/>
<path d="M1479.5,730.1 Q1467.9,718.3 1459.0,707.0" stroke="#a26a82" stroke-width="1" fill="none"/>
<path d="M1500.7,723.1 Q1479.4,712.9 1460.6,705.1" stroke="#a26a82" stroke-width="1" fill="none"/>
<path d="M1514.0,705.0 Q1487.8,705.0 1462.0,703.0" stroke="#a26a82" stroke-width="1" fill="none"/>
<ellipse cx="1419.5" cy="711.8" rx="6.0" ry="4.4" transform="rotate(-13 1419.5 711.8)" fill="#857592"/>
<ellipse cx="1432.3" cy="721.9" rx="6.0" ry="4.4" transform="rotate(-36 1432.3 721.9)" fill="#857592"/>
<ellipse cx="1449.5" cy="724.2" rx="6.0" ry="4.4" transform="rotate(-69 1449.5 724.2)" fill="#857592"/>
<ellipse cx="1464.6" cy="722.6" rx="6.0" ry="4.4" transform="rotate(-114 1464.6 722.6)" fill="#857592"/>
<ellipse cx="1480.6" cy="720.2" rx="6.0" ry="4.4" transform="rotate(-146 1480.6 720.2)" fill="#857592"/>
<ellipse cx="1494.3" cy="711.2" rx="6.0" ry="4.4" transform="rotate(-168 1494.3 711.2)" fill="#857592"/>
<path d="M1215.0,760.0 Q1231.7,760.4 1250.0,758.0" stroke="#a26a82" stroke-width="1" fill="none"/>
<path d="M1234.0,773.7 Q1241.9,767.1 1252.0,759.3" stroke="#a26a82" stroke-width="1" fill="none"/>
<path d="M1256.0,780.1 Q1253.8,769.3 1254.1,760.0" stroke="#a26a82" stroke-width="1" fill="none"/>
<path d="M1277.4,776.3 Q1268.4,767.1 1256.3,759.7" stroke="#a26a82" stroke-width="1" fill="none"/>
<path d="M1296.0,762.0 Q1277.4,759.9 1258.0,758.0" stroke="#a26a82" stroke-width="1" fill="none"/>
<ellipse cx="1232.3" cy="764.5" rx="6.0" ry="4.4" transform="rotate(-17 1232.3 764.5)" fill="#857592"/>
<ellipse cx="1247.4" cy="771.8" rx="6.0" ry="4.4" transform="rotate(-65 1247.4 771.8)" fill="#857592"/>
<ellipse cx="1263.8" cy="773.6" rx="6.0" ry="4.4" transform="rotate(-122 1263.8 773.6)" fill="#857592"/>
<ellipse cx="1276.3" cy="765.5" rx="6.0" ry="4.4" transform="rotate(-161 1276.3 765.5)" fill="#857592"/>
<path d="M1248,506 C1251,540 1250,650 1251.5,760 L1257.5,760 C1257,650 1256,540 1260,506 Z" fill="#a9738f" stroke="#8e5676" stroke-width="1"/>
<path d="M1452,506 C1454,540 1453.5,650 1454,705 L1460,705 C1460,650 1459,540 1462,506 Z" fill="#a9738f" stroke="#8e5676" stroke-width="1"/>
<path d="M1265.0,800.0 L1282.0,776.0 L1296.0,762.0 L1304.0,740.0 L1308.0,700.0 L1310.0,640.0 L1311.0,596.0 L1315.0,582.0 L1330.0,577.0 L1385.0,577.0 L1399.0,582.0 L1403.0,596.0 L1402.0,650.0 L1402.0,695.0 L1410.0,720.0 L1440.0,733.0 L1470.0,733.0 L1500.0,724.0 L1514.0,700.0 L1517.0,650.0 L1517.0,592.0 L1522.0,572.0 L1540.0,563.0 L1565.0,563.0 L1565.0,940.0 L1265.0,940.0 Z" fill="url(#lpgrad)" stroke="#e1ae8e" stroke-width="4.5" stroke-linejoin="round"/>
<clipPath id="lpLclip"><path d="M1265.0,800.0 L1282.0,776.0 L1296.0,762.0 L1304.0,740.0 L1308.0,700.0 L1310.0,640.0 L1311.0,596.0 L1315.0,582.0 L1330.0,577.0 L1385.0,577.0 L1399.0,582.0 L1403.0,596.0 L1402.0,650.0 L1402.0,695.0 L1410.0,720.0 L1440.0,733.0 L1470.0,733.0 L1500.0,724.0 L1514.0,700.0 L1517.0,650.0 L1517.0,592.0 L1522.0,572.0 L1540.0,563.0 L1565.0,563.0 L1565.0,940.0 L1265.0,940.0 Z"/></clipPath>
<g clip-path="url(#lpLclip)">
<path d="M1326.0,596.2 C1331.1,682.5 1315.6,750.0 1301.1,797.6" stroke="#fbf4f1" stroke-width="1.4" fill="none" opacity="0.9"/>
<path d="M1336.9,595.2 C1338.4,682.5 1330.4,750.0 1303.7,789.1" stroke="#fbf4f1" stroke-width="1.4" fill="none" opacity="0.9"/>
<path d="M1348.8,601.2 C1351.1,682.5 1333.3,750.0 1333.4,808.9" stroke="#fbf4f1" stroke-width="1.4" fill="none" opacity="0.9"/>
<path d="M1364.7,597.3 C1360.6,682.5 1348.9,750.0 1340.2,781.8" stroke="#fbf4f1" stroke-width="1.4" fill="none" opacity="0.9"/>
<path d="M1374.4,589.8 C1368.8,682.5 1364.0,750.0 1348.2,805.3" stroke="#fbf4f1" stroke-width="1.4" fill="none" opacity="0.9"/>
<path d="M1388.9,597.8 C1388.9,682.5 1380.8,750.0 1363.0,788.3" stroke="#fbf4f1" stroke-width="1.4" fill="none" opacity="0.9"/>
<path d="M1486.0,747.0 A30.0,24.0 0 0 1 1467.8,758.2" stroke="#fbf4f1" stroke-width="1.3" fill="none" opacity="0.85"/>
<path d="M1458.6,759.0 A30.0,24.0 0 0 1 1440.8,753.5" stroke="#fbf4f1" stroke-width="1.3" fill="none" opacity="0.85"/>
<path d="M1437.0,750.4 A30.0,24.0 0 0 1 1431.1,741.5" stroke="#fbf4f1" stroke-width="1.3" fill="none" opacity="0.85"/>
<path d="M1498.1,750.2 A42.6,34.0 0 0 1 1484.2,763.0" stroke="#fbf4f1" stroke-width="1.3" fill="none" opacity="0.85"/>
<path d="M1472.3,767.6 A42.6,34.0 0 0 1 1451.4,768.4" stroke="#fbf4f1" stroke-width="1.3" fill="none" opacity="0.85"/>
<path d="M1438.1,764.2 A42.6,34.0 0 0 1 1419.5,745.6" stroke="#fbf4f1" stroke-width="1.3" fill="none" opacity="0.85"/>
<path d="M1509.4,756.6 A56.2,45.0 0 0 1 1488.7,773.7" stroke="#fbf4f1" stroke-width="1.3" fill="none" opacity="0.85"/>
<path d="M1470.7,779.2 A56.2,45.0 0 0 1 1442.8,777.8" stroke="#fbf4f1" stroke-width="1.3" fill="none" opacity="0.85"/>
<path d="M1436.4,775.8 A56.2,45.0 0 0 1 1411.4,757.6" stroke="#fbf4f1" stroke-width="1.3" fill="none" opacity="0.85"/>
<path d="M1527.6,750.8 A70.4,56.3 0 0 1 1511.2,773.6" stroke="#fbf4f1" stroke-width="1.3" fill="none" opacity="0.85"/>
<path d="M1492.2,785.1 A70.4,56.3 0 0 1 1446.3,790.2" stroke="#fbf4f1" stroke-width="1.3" fill="none" opacity="0.85"/>
<path d="M1437.2,788.3 A70.4,56.3 0 0 1 1411.5,775.8" stroke="#fbf4f1" stroke-width="1.3" fill="none" opacity="0.85"/>
<path d="M1405.3,770.5 A70.4,56.3 0 0 1 1393.6,753.7" stroke="#fbf4f1" stroke-width="1.3" fill="none" opacity="0.85"/>
<path d="M1536.9,761.6 A83.8,67.1 0 0 1 1509.9,788.9" stroke="#fbf4f1" stroke-width="1.3" fill="none" opacity="0.85"/>
<path d="M1499.2,794.3 A83.8,67.1 0 0 1 1445.6,801.1" stroke="#fbf4f1" stroke-width="1.3" fill="none" opacity="0.85"/>
<path d="M1434.5,798.9 A83.8,67.1 0 0 1 1393.0,775.2" stroke="#fbf4f1" stroke-width="1.3" fill="none" opacity="0.85"/>
<path d="M1386.9,767.8 A83.8,67.1 0 0 1 1379.0,752.4" stroke="#fbf4f1" stroke-width="1.3" fill="none" opacity="0.85"/>
<path d="M1545.2,773.7 A98.0,78.4 0 0 1 1494.7,808.3" stroke="#fbf4f1" stroke-width="1.3" fill="none" opacity="0.85"/>
<path d="M1477.8,812.1 A98.0,78.4 0 0 1 1408.9,801.9" stroke="#fbf4f1" stroke-width="1.3" fill="none" opacity="0.85"/>
<path d="M1396.6,794.7 A98.0,78.4 0 0 1 1368.5,763.1" stroke="#fbf4f1" stroke-width="1.3" fill="none" opacity="0.85"/>
<path d="M1570.4,761.2 A115.1,92.1 0 0 1 1515.4,815.7" stroke="#fbf4f1" stroke-width="1.3" fill="none" opacity="0.85"/>
<path d="M1499.0,821.6 A115.1,92.1 0 0 1 1449.6,826.7" stroke="#fbf4f1" stroke-width="1.3" fill="none" opacity="0.85"/>
<path d="M1416.9,820.4 A115.1,92.1 0 0 1 1373.3,795.6" stroke="#fbf4f1" stroke-width="1.3" fill="none" opacity="0.85"/>
<path d="M1361.3,782.4 A115.1,92.1 0 0 1 1348.8,758.8" stroke="#fbf4f1" stroke-width="1.3" fill="none" opacity="0.85"/>
<path d="M1584.9,768.7 A131.8,105.4 0 0 1 1539.5,819.1" stroke="#fbf4f1" stroke-width="1.3" fill="none" opacity="0.85"/>
<path d="M1517.6,829.8 A131.8,105.4 0 0 1 1450.1,840.1" stroke="#fbf4f1" stroke-width="1.3" fill="none" opacity="0.85"/>
<path d="M1406.9,831.5 A131.8,105.4 0 0 1 1352.3,795.8" stroke="#fbf4f1" stroke-width="1.3" fill="none" opacity="0.85"/>
<path d="M1337.1,773.0 A131.8,105.4 0 0 1 1332.7,762.3" stroke="#fbf4f1" stroke-width="1.3" fill="none" opacity="0.85"/>
<path d="M1587.3,790.6 A145.0,116.0 0 0 1 1512.7,843.1" stroke="#fbf4f1" stroke-width="1.3" fill="none" opacity="0.85"/>
<path d="M1489.7,848.6 A145.0,116.0 0 0 1 1431.5,848.7" stroke="#fbf4f1" stroke-width="1.3" fill="none" opacity="0.85"/>
<path d="M1392.6,837.7 A145.0,116.0 0 0 1 1322.8,772.6" stroke="#fbf4f1" stroke-width="1.3" fill="none" opacity="0.85"/>
<path d="M1605.0,797.3 A164.6,131.7 0 0 1 1535.9,851.8" stroke="#fbf4f1" stroke-width="1.3" fill="none" opacity="0.85"/>
<path d="M1504.2,861.9 A164.6,131.7 0 0 1 1445.0,866.1" stroke="#fbf4f1" stroke-width="1.3" fill="none" opacity="0.85"/>
<path d="M1426.4,863.9 A164.6,131.7 0 0 1 1323.9,809.1" stroke="#fbf4f1" stroke-width="1.3" fill="none" opacity="0.85"/>
<path d="M1310.7,790.4 A164.6,131.7 0 0 1 1301.0,769.1" stroke="#fbf4f1" stroke-width="1.3" fill="none" opacity="0.85"/>
<path d="M1627.4,794.5 A183.2,146.6 0 0 1 1578.1,847.1" stroke="#fbf4f1" stroke-width="1.3" fill="none" opacity="0.85"/>
<path d="M1556.2,859.7 A183.2,146.6 0 0 1 1441.6,880.8" stroke="#fbf4f1" stroke-width="1.3" fill="none" opacity="0.85"/>
<path d="M1419.6,878.0 A183.2,146.6 0 0 1 1350.0,852.2" stroke="#fbf4f1" stroke-width="1.3" fill="none" opacity="0.85"/>
<path d="M1318.2,827.8 A183.2,146.6 0 0 1 1283.0,772.9" stroke="#fbf4f1" stroke-width="1.3" fill="none" opacity="0.85"/>
<path d="M1633.1,811.0 A197.4,158.0 0 0 1 1580.8,859.9" stroke="#fbf4f1" stroke-width="1.3" fill="none" opacity="0.85"/>
<path d="M1563.2,869.7 A197.4,158.0 0 0 1 1481.4,892.0" stroke="#fbf4f1" stroke-width="1.3" fill="none" opacity="0.85"/>
<path d="M1439.3,892.1 A197.4,158.0 0 0 1 1374.6,877.4" stroke="#fbf4f1" stroke-width="1.3" fill="none" opacity="0.85"/>
<path d="M1349.3,865.8 A197.4,158.0 0 0 1 1285.6,809.0" stroke="#fbf4f1" stroke-width="1.3" fill="none" opacity="0.85"/>
<path d="M1657.2,793.8 A210.5,168.4 0 0 1 1557.2,884.4" stroke="#fbf4f1" stroke-width="1.3" fill="none" opacity="0.85"/>
<path d="M1488.5,901.8 A210.5,168.4 0 0 1 1361.3,883.7" stroke="#fbf4f1" stroke-width="1.3" fill="none" opacity="0.85"/>
<path d="M1314.8,856.9 A210.5,168.4 0 0 1 1256.7,778.6" stroke="#fbf4f1" stroke-width="1.3" fill="none" opacity="0.85"/>
<path d="M1674.9,781.9 A222.8,178.2 0 0 1 1578.6,885.9" stroke="#fbf4f1" stroke-width="1.3" fill="none" opacity="0.85"/>
<path d="M1522.7,906.0 A222.8,178.2 0 0 1 1356.6,892.9" stroke="#fbf4f1" stroke-width="1.3" fill="none" opacity="0.85"/>
<path d="M1335.6,882.8 A222.8,178.2 0 0 1 1251.8,798.5" stroke="#fbf4f1" stroke-width="1.3" fill="none" opacity="0.85"/>
<path d="M1309.9,788.5 A20.0,16.0 0 0 1 1305.4,800.2" stroke="#fbf4f1" stroke-width="1.3" fill="none" opacity="0.85"/>
<path d="M1303.7,801.7 A20.0,16.0 0 0 1 1293.6,805.7" stroke="#fbf4f1" stroke-width="1.3" fill="none" opacity="0.85"/>
<path d="M1288.0,805.9 A20.0,16.0 0 0 1 1275.1,800.7" stroke="#fbf4f1" stroke-width="1.3" fill="none" opacity="0.85"/>
<path d="M1327.6,791.0 A37.6,30.1 0 0 1 1316.8,811.1" stroke="#fbf4f1" stroke-width="1.3" fill="none" opacity="0.85"/>
<path d="M1311.3,814.8 A37.6,30.1 0 0 1 1288.7,820.1" stroke="#fbf4f1" stroke-width="1.3" fill="none" opacity="0.85"/>
<path d="M1276.7,818.2 A37.6,30.1 0 0 1 1257.4,805.1" stroke="#fbf4f1" stroke-width="1.3" fill="none" opacity="0.85"/>
<path d="M1345.9,792.3 A56.0,44.8 0 0 1 1335.0,816.6" stroke="#fbf4f1" stroke-width="1.3" fill="none" opacity="0.85"/>
<path d="M1325.1,824.9 A56.0,44.8 0 0 1 1300.2,834.0" stroke="#fbf4f1" stroke-width="1.3" fill="none" opacity="0.85"/>
<path d="M1286.4,834.7 A56.0,44.8 0 0 1 1255.5,825.2" stroke="#fbf4f1" stroke-width="1.3" fill="none" opacity="0.85"/>
<path d="M1250.3,821.5 A56.0,44.8 0 0 1 1241.5,812.4" stroke="#fbf4f1" stroke-width="1.3" fill="none" opacity="0.85"/>
<path d="M1365.0,791.0 A75.0,60.0 0 0 1 1355.3,819.5" stroke="#fbf4f1" stroke-width="1.3" fill="none" opacity="0.85"/>
<path d="M1342.4,832.9 A75.0,60.0 0 0 1 1303.8,849.0" stroke="#fbf4f1" stroke-width="1.3" fill="none" opacity="0.85"/>
<path d="M1288.0,850.0 A75.0,60.0 0 0 1 1239.6,834.5" stroke="#fbf4f1" stroke-width="1.3" fill="none" opacity="0.85"/>
<path d="M1233.1,829.1 A75.0,60.0 0 0 1 1225.1,820.0" stroke="#fbf4f1" stroke-width="1.3" fill="none" opacity="0.85"/>
<path d="M1381.7,786.4 A91.8,73.4 0 0 1 1375.5,816.8" stroke="#fbf4f1" stroke-width="1.3" fill="none" opacity="0.85"/>
<path d="M1363.1,834.4 A91.8,73.4 0 0 1 1323.4,858.4" stroke="#fbf4f1" stroke-width="1.3" fill="none" opacity="0.85"/>
<path d="M1300.8,862.9 A91.8,73.4 0 0 1 1235.9,849.3" stroke="#fbf4f1" stroke-width="1.3" fill="none" opacity="0.85"/>
<path d="M1224.3,841.3 A91.8,73.4 0 0 1 1210.5,826.7" stroke="#fbf4f1" stroke-width="1.3" fill="none" opacity="0.85"/>
<path d="M1398.4,779.4 A109.2,87.4 0 0 1 1395.2,813.5" stroke="#fbf4f1" stroke-width="1.3" fill="none" opacity="0.85"/>
<path d="M1380.2,839.2 A109.2,87.4 0 0 1 1327.1,872.2" stroke="#fbf4f1" stroke-width="1.3" fill="none" opacity="0.85"/>
<path d="M1304.6,876.6 A109.2,87.4 0 0 1 1228.3,862.1" stroke="#fbf4f1" stroke-width="1.3" fill="none" opacity="0.85"/>
<path d="M1212.8,851.8 A109.2,87.4 0 0 1 1195.4,833.7" stroke="#fbf4f1" stroke-width="1.3" fill="none" opacity="0.85"/>
</g>
<ellipse cx="1503.7" cy="901.7" rx="2.6" ry="3.6" transform="rotate(30 1503.7 901.7)" fill="#b4a2a6" opacity="0.85"/>
<ellipse cx="1381.5" cy="792.4" rx="2.6" ry="3.6" transform="rotate(-15 1381.5 792.4)" fill="#b4a2a6" opacity="0.85"/>
<ellipse cx="1309.5" cy="763.8" rx="2.6" ry="3.6" transform="rotate(27 1309.5 763.8)" fill="#b4a2a6" opacity="0.85"/>
<ellipse cx="1516.1" cy="834.7" rx="2.6" ry="3.6" transform="rotate(36 1516.1 834.7)" fill="#b4a2a6" opacity="0.85"/>
<ellipse cx="1350.3" cy="655.8" rx="2.6" ry="3.6" transform="rotate(-4 1350.3 655.8)" fill="#b4a2a6" opacity="0.85"/>
<ellipse cx="1349.8" cy="670.6" rx="2.6" ry="3.6" transform="rotate(-7 1349.8 670.6)" fill="#b4a2a6" opacity="0.85"/>
<ellipse cx="1451.5" cy="763.0" rx="2.6" ry="3.6" transform="rotate(-15 1451.5 763.0)" fill="#b4a2a6" opacity="0.85"/>
<ellipse cx="1513.3" cy="924.1" rx="2.6" ry="3.6" transform="rotate(-4 1513.3 924.1)" fill="#b4a2a6" opacity="0.85"/>
<ellipse cx="1291.7" cy="610.4" rx="2.6" ry="3.6" transform="rotate(30 1291.7 610.4)" fill="#b4a2a6" opacity="0.85"/>
<ellipse cx="1282.0" cy="833.8" rx="2.6" ry="3.6" transform="rotate(6 1282.0 833.8)" fill="#b4a2a6" opacity="0.85"/>
<ellipse cx="1359.6" cy="861.2" rx="2.6" ry="3.6" transform="rotate(-38 1359.6 861.2)" fill="#b4a2a6" opacity="0.85"/>
<ellipse cx="1309.4" cy="750.1" rx="2.6" ry="3.6" transform="rotate(-38 1309.4 750.1)" fill="#b4a2a6" opacity="0.85"/>
<ellipse cx="1510.6" cy="678.3" rx="2.6" ry="3.6" transform="rotate(-29 1510.6 678.3)" fill="#b4a2a6" opacity="0.85"/>
<ellipse cx="1283.6" cy="807.6" rx="2.6" ry="3.6" transform="rotate(-4 1283.6 807.6)" fill="#b4a2a6" opacity="0.85"/>
<ellipse cx="1452.7" cy="816.2" rx="2.6" ry="3.6" transform="rotate(25 1452.7 816.2)" fill="#b4a2a6" opacity="0.85"/>
<ellipse cx="1548.0" cy="825.9" rx="2.6" ry="3.6" transform="rotate(-24 1548.0 825.9)" fill="#b4a2a6" opacity="0.85"/>
<g transform="rotate(10 1380 600)"><rect x="1375.0" y="590.5" width="10" height="19" rx="5.0" fill="#ffffff"/><rect x="1377.5" y="593.0" width="5" height="14" rx="2.5" fill="#b3181c"/></g>
<g transform="rotate(-10 1328 650)"><rect x="1322.5" y="636.5" width="11" height="27" rx="5.5" fill="#ffffff"/><rect x="1325.0" y="639.0" width="6" height="22" rx="3.0" fill="#b3181c"/></g>
<g transform="rotate(20 1325 700)"><rect x="1319.5" y="688.5" width="11" height="23" rx="5.5" fill="#ffffff"/><rect x="1322.0" y="691.0" width="6" height="18" rx="3.0" fill="#b3181c"/></g>
<g transform="rotate(25 1522 687)"><rect x="1516.5" y="673.5" width="11" height="27" rx="5.5" fill="#ffffff"/><rect x="1519.0" y="676.0" width="6" height="22" rx="3.0" fill="#b3181c"/></g>
<g transform="rotate(15 1346 815)"><rect x="1340.5" y="798.5" width="11" height="33" rx="5.5" fill="#ffffff"/><rect x="1343.0" y="801.0" width="6" height="28" rx="3.0" fill="#b3181c"/></g>
</g>
<g clip-path="url(#rclipR)">
<path d="M1565.0,459.7 L1680.0,461.6 L1757.0,457.7 L1815.0,455.8 L1853.0,444.3 L1911.0,429.0 L1931.0,425.0 L1960.0,418.0 L1960.0,940.0 L1565.0,940.0 Z" fill="url(#mucus)"/>
<path d="M1596,468 l14,-2.1" stroke="#f4e4ec" stroke-width="2" stroke-linecap="round" opacity="0.9"/>
<path d="M1685,466 l8,-1.2" stroke="#f4e4ec" stroke-width="2" stroke-linecap="round" opacity="0.9"/>
<path d="M1735,465 l10,-1.5" stroke="#f4e4ec" stroke-width="2" stroke-linecap="round" opacity="0.9"/>
<path d="M1835,460 l20,-3.0" stroke="#f4e4ec" stroke-width="2" stroke-linecap="round" opacity="0.9"/>
<path d="M1870,455 l26,-3.9" stroke="#f4e4ec" stroke-width="2" stroke-linecap="round" opacity="0.9"/>
<path d="M1905,440 l24,-3.6" stroke="#f4e4ec" stroke-width="2" stroke-linecap="round" opacity="0.9"/>
<path d="M1565.0,480.0 L1620.0,479.0 L1660.0,482.0 L1675.0,490.0 L1678.0,505.0 L1686.0,505.0 L1689.0,492.0 L1700.0,481.0 L1750.0,480.0 L1796.0,481.0 L1815.0,486.0 L1832.0,496.0 L1838.0,510.0 L1846.0,510.0 L1850.0,492.0 L1862.0,470.0 L1892.0,448.0 L1931.0,438.0 L1960.0,436.0 L1960.0,940.0 L1565.0,940.0 Z" fill="#e8b3bb"/>
<path d="M1715.7,484.5 C1715.3,487.1 1714.6,494.2 1714.3,500.0 C1714.0,505.7 1713.8,512.8 1713.8,519.1 C1713.8,525.5 1713.8,532.7 1714.3,538.2 C1714.7,543.8 1715.4,548.0 1716.4,552.4 C1717.4,556.7 1719.1,561.0 1720.4,564.4 C1721.8,567.8 1723.6,571.2 1724.5,572.6 C1725.4,573.9 1725.1,574.0 1725.6,572.5 C1726.2,571.0 1727.4,567.2 1728.0,563.6 C1728.7,560.1 1729.4,555.5 1729.5,551.0 C1729.7,546.6 1729.5,542.3 1728.8,536.8 C1728.2,531.3 1726.8,524.2 1725.6,518.0 C1724.3,511.7 1722.7,504.9 1721.3,499.3 C1719.8,493.7 1717.7,486.9 1716.8,484.4 C1715.9,482.0 1716.2,481.9 1715.7,484.5 Z" fill="#e6e39e" stroke="#8d6c5e" stroke-width="0.9"/>
<ellipse cx="1722.1" cy="543.2" rx="6.0" ry="4.4" transform="rotate(84 1722.1 543.2)" fill="#6f9270"/>
<path d="M1803.2,486.7 C1802.6,489.1 1801.3,495.8 1800.5,501.3 C1799.7,506.8 1799.0,513.5 1798.5,519.6 C1798.0,525.7 1797.5,532.5 1797.5,537.8 C1797.5,543.1 1797.7,547.2 1798.4,551.5 C1799.0,555.7 1800.2,560.0 1801.2,563.3 C1802.3,566.6 1803.8,570.1 1804.6,571.4 C1805.4,572.8 1805.1,572.8 1805.8,571.4 C1806.5,570.0 1807.9,566.5 1808.9,563.2 C1809.8,559.8 1810.8,555.5 1811.3,551.3 C1811.8,547.0 1812.0,542.9 1811.7,537.6 C1811.5,532.3 1810.8,525.4 1810.1,519.4 C1809.4,513.3 1808.4,506.6 1807.4,501.2 C1806.5,495.7 1805.0,489.1 1804.3,486.7 C1803.5,484.2 1803.8,484.2 1803.2,486.7 Z" fill="#e6e39e" stroke="#8d6c5e" stroke-width="0.9"/>
<ellipse cx="1804.7" cy="543.2" rx="6.0" ry="4.4" transform="rotate(89 1804.7 543.2)" fill="#6f9270"/>
<path d="M1689.0,492.0 Q1703.4,548.7 1718.0,605.0" stroke="#a26a82" stroke-width="1" fill="none"/>
<path d="M1697.9,483.1 Q1710.1,537.6 1719.7,592.3" stroke="#a26a82" stroke-width="1" fill="none"/>
<path d="M1709.6,480.8 Q1715.5,530.4 1721.4,579.6" stroke="#a26a82" stroke-width="1" fill="none"/>
<path d="M1722.2,480.6 Q1724.8,525.9 1729.3,571.2" stroke="#a26a82" stroke-width="1" fill="none"/>
<path d="M1734.8,480.3 Q1738.1,523.7 1740.7,565.3" stroke="#a26a82" stroke-width="1" fill="none"/>
<path d="M1747.3,480.1 Q1748.9,520.9 1753.0,563.0" stroke="#a26a82" stroke-width="1" fill="none"/>
<path d="M1759.9,480.2 Q1761.6,522.5 1765.8,563.0" stroke="#a26a82" stroke-width="1" fill="none"/>
<path d="M1772.5,480.5 Q1776.1,520.4 1778.6,563.0" stroke="#a26a82" stroke-width="1" fill="none"/>
<path d="M1785.1,480.8 Q1789.7,523.6 1791.4,563.6" stroke="#a26a82" stroke-width="1" fill="none"/>
<path d="M1797.6,481.4 Q1800.8,525.4 1803.1,568.7" stroke="#a26a82" stroke-width="1" fill="none"/>
<path d="M1809.7,484.6 Q1807.5,530.6 1807.4,579.6" stroke="#a26a82" stroke-width="1" fill="none"/>
<path d="M1821.2,489.6 Q1815.3,539.6 1809.2,592.3" stroke="#a26a82" stroke-width="1" fill="none"/>
<path d="M1832.0,496.0 Q1820.6,549.7 1811.0,605.0" stroke="#a26a82" stroke-width="1" fill="none"/>
<ellipse cx="1709.8" cy="559.2" rx="6.0" ry="4.4" transform="rotate(77 1709.8 559.2)" fill="#857592"/>
<ellipse cx="1715.7" cy="556.2" rx="6.0" ry="4.4" transform="rotate(81 1715.7 556.2)" fill="#857592"/>
<ellipse cx="1733.1" cy="542.8" rx="6.0" ry="4.4" transform="rotate(86 1733.1 542.8)" fill="#857592"/>
<ellipse cx="1745.5" cy="545.2" rx="6.0" ry="4.4" transform="rotate(86 1745.5 545.2)" fill="#857592"/>
<ellipse cx="1757.8" cy="540.1" rx="6.0" ry="4.4" transform="rotate(86 1757.8 540.1)" fill="#857592"/>
<ellipse cx="1770.7" cy="541.7" rx="6.0" ry="4.4" transform="rotate(86 1770.7 541.7)" fill="#857592"/>
<ellipse cx="1783.3" cy="540.1" rx="6.0" ry="4.4" transform="rotate(86 1783.3 540.1)" fill="#857592"/>
<ellipse cx="1795.7" cy="544.6" rx="6.0" ry="4.4" transform="rotate(86 1795.7 544.6)" fill="#857592"/>
<ellipse cx="1810.3" cy="557.6" rx="6.0" ry="4.4" transform="rotate(94 1810.3 557.6)" fill="#857592"/>
<ellipse cx="1815.3" cy="565.3" rx="6.0" ry="4.4" transform="rotate(99 1815.3 565.3)" fill="#857592"/>
<path d="M1661.9,599.9 C1662.7,602.0 1665.3,607.2 1667.8,611.0 C1670.3,614.8 1673.5,619.1 1676.7,622.7 C1679.9,626.2 1683.6,630.0 1686.9,632.2 C1690.2,634.5 1693.3,635.5 1696.7,636.2 C1700.0,636.9 1704.1,636.6 1707.2,636.4 C1710.4,636.1 1714.1,635.3 1715.7,634.7 C1717.3,634.2 1717.0,634.7 1716.8,633.0 C1716.7,631.3 1715.9,627.6 1714.9,624.6 C1713.8,621.6 1712.4,617.8 1710.4,615.0 C1708.4,612.2 1706.2,609.9 1702.8,607.8 C1699.4,605.6 1694.4,603.8 1689.9,602.3 C1685.3,600.9 1680.1,599.7 1675.6,599.0 C1671.1,598.3 1665.3,598.0 1663.0,598.1 C1660.7,598.3 1661.1,597.7 1661.9,599.9 Z" fill="#e6e39e" stroke="#8d6c5e" stroke-width="0.9"/>
<ellipse cx="1698.3" cy="622.2" rx="6.0" ry="4.4" transform="rotate(33 1698.3 622.2)" fill="#6f9270"/>
<path d="M1658.4,674.4 C1659.6,676.3 1663.0,680.6 1666.0,683.7 C1669.0,686.8 1672.7,690.2 1676.3,692.9 C1679.9,695.5 1684.1,698.3 1687.6,699.7 C1691.1,701.1 1694.1,701.3 1697.3,701.2 C1700.6,701.1 1704.2,699.8 1707.1,698.8 C1710.0,697.8 1713.3,696.2 1714.7,695.3 C1716.0,694.3 1715.8,694.9 1715.4,693.3 C1714.9,691.7 1713.6,688.3 1712.0,685.7 C1710.5,683.1 1708.5,679.7 1706.1,677.5 C1703.7,675.3 1701.3,673.5 1697.7,672.3 C1694.2,671.1 1689.2,670.5 1684.8,670.1 C1680.3,669.8 1675.2,669.9 1671.0,670.3 C1666.7,670.7 1661.2,671.7 1659.2,672.4 C1657.1,673.1 1657.3,672.5 1658.4,674.4 Z" fill="#e6e39e" stroke="#8d6c5e" stroke-width="0.9"/>
<ellipse cx="1696.3" cy="687.3" rx="6.0" ry="4.4" transform="rotate(20 1696.3 687.3)" fill="#6f9270"/>
<path d="M1662.0,560.0 Q1689.9,583.0 1718.0,605.0" stroke="#a26a82" stroke-width="1" fill="none"/>
<path d="M1660.8,585.0 Q1689.9,603.9 1718.0,625.0" stroke="#a26a82" stroke-width="1" fill="none"/>
<path d="M1659.5,610.0 Q1687.3,627.1 1718.0,645.0" stroke="#a26a82" stroke-width="1" fill="none"/>
<path d="M1658.2,635.0 Q1687.4,650.9 1717.8,665.0" stroke="#a26a82" stroke-width="1" fill="none"/>
<path d="M1657.0,660.0 Q1687.7,672.8 1717.2,685.0" stroke="#a26a82" stroke-width="1" fill="none"/>
<path d="M1655.8,685.0 Q1686.3,695.5 1716.5,705.0" stroke="#a26a82" stroke-width="1" fill="none"/>
<path d="M1654.5,710.0 Q1683.3,717.1 1714.2,724.6" stroke="#a26a82" stroke-width="1" fill="none"/>
<path d="M1653.2,735.0 Q1679.2,740.4 1707.1,743.3" stroke="#a26a82" stroke-width="1" fill="none"/>
<path d="M1652.0,760.0 Q1674.7,762.0 1700.0,762.0" stroke="#a26a82" stroke-width="1" fill="none"/>
<ellipse cx="1698.3" cy="600.2" rx="6.0" ry="4.4" transform="rotate(37 1698.3 600.2)" fill="#857592"/>
<ellipse cx="1703.2" cy="646.9" rx="6.0" ry="4.4" transform="rotate(29 1703.2 646.9)" fill="#857592"/>
<ellipse cx="1699.2" cy="666.6" rx="6.0" ry="4.4" transform="rotate(25 1699.2 666.6)" fill="#857592"/>
<ellipse cx="1697.6" cy="709.7" rx="6.0" ry="4.4" transform="rotate(16 1697.6 709.7)" fill="#857592"/>
<ellipse cx="1697.9" cy="731.4" rx="6.0" ry="4.4" transform="rotate(11 1697.9 731.4)" fill="#857592"/>
<ellipse cx="1685.4" cy="750.8" rx="6.0" ry="4.4" transform="rotate(6 1685.4 750.8)" fill="#857592"/>
<path d="M1653.9,539.6 C1652.2,537.7 1647.3,533.3 1643.2,530.1 C1639.1,526.9 1634.0,523.3 1629.2,520.4 C1624.5,517.5 1619.1,514.3 1614.7,512.8 C1610.3,511.3 1606.7,510.9 1602.8,511.3 C1598.8,511.8 1594.5,513.7 1591.1,515.4 C1587.7,517.1 1583.8,519.9 1582.2,521.4 C1580.6,522.9 1580.8,522.1 1581.5,524.2 C1582.3,526.2 1584.3,530.6 1586.6,533.7 C1588.8,536.8 1591.7,540.5 1595.0,542.7 C1598.2,544.9 1601.6,546.3 1606.2,547.1 C1610.8,547.8 1617.0,547.5 1622.5,547.1 C1628.1,546.8 1634.3,546.0 1639.4,545.1 C1644.6,544.2 1651.0,542.7 1653.4,541.8 C1655.8,540.8 1655.6,541.6 1653.9,539.6 Z" fill="#e6e39e" stroke="#8d6c5e" stroke-width="0.9"/>
<ellipse cx="1605.8" cy="528.8" rx="6.0" ry="4.4" transform="rotate(-166 1605.8 528.8)" fill="#6f9270"/>
<path d="M1644.9,616.3 C1643.6,614.5 1639.8,610.7 1636.6,607.9 C1633.5,605.1 1629.5,601.9 1625.9,599.5 C1622.2,597.0 1618.1,594.4 1614.7,593.3 C1611.3,592.3 1608.5,592.4 1605.5,593.3 C1602.5,594.2 1599.1,596.6 1596.5,598.7 C1593.8,600.7 1590.9,604.0 1589.6,605.6 C1588.4,607.2 1588.6,606.5 1589.1,608.4 C1589.7,610.4 1591.3,614.5 1593.0,617.4 C1594.7,620.2 1596.9,623.7 1599.5,625.6 C1602.0,627.6 1604.5,628.7 1608.1,628.9 C1611.6,629.2 1616.4,628.2 1620.7,627.2 C1625.0,626.3 1629.8,624.7 1633.8,623.3 C1637.7,621.8 1642.7,619.6 1644.5,618.4 C1646.4,617.3 1646.2,618.0 1644.9,616.3 Z" fill="#e6e39e" stroke="#8d6c5e" stroke-width="0.9"/>
<ellipse cx="1607.8" cy="610.5" rx="6.0" ry="4.4" transform="rotate(-169 1607.8 610.5)" fill="#6f9270"/>
<path d="M1643.3,694.1 C1641.9,692.5 1638.0,689.2 1634.7,686.8 C1631.5,684.4 1627.5,681.7 1623.8,679.7 C1620.1,677.8 1616.0,675.6 1612.7,675.0 C1609.4,674.4 1606.8,674.8 1604.1,676.1 C1601.3,677.3 1598.5,680.2 1596.2,682.5 C1594.0,684.8 1591.6,688.4 1590.6,690.2 C1589.6,691.9 1589.7,691.2 1590.4,693.0 C1591.1,694.9 1593.0,698.8 1595.0,701.4 C1596.9,704.0 1599.3,707.2 1601.9,708.8 C1604.4,710.4 1606.9,711.2 1610.3,711.0 C1613.6,710.9 1618.0,709.3 1621.9,707.9 C1625.8,706.4 1630.1,704.3 1633.7,702.4 C1637.2,700.5 1641.6,697.7 1643.2,696.3 C1644.8,694.9 1644.8,695.7 1643.3,694.1 Z" fill="#e6e39e" stroke="#8d6c5e" stroke-width="0.9"/>
<ellipse cx="1608.1" cy="692.8" rx="6.0" ry="4.4" transform="rotate(-176 1608.1 692.8)" fill="#6f9270"/>
<path d="M1670.0,505.0 Q1621.8,493.1 1575.0,480.0" stroke="#a26a82" stroke-width="1" fill="none"/>
<path d="M1661.2,529.3 Q1620.2,519.8 1578.0,508.1" stroke="#a26a82" stroke-width="1" fill="none"/>
<path d="M1652.3,553.6 Q1615.8,544.1 1581.1,536.3" stroke="#a26a82" stroke-width="1" fill="none"/>
<path d="M1649.0,579.0 Q1615.5,570.9 1584.1,564.4" stroke="#a26a82" stroke-width="1" fill="none"/>
<path d="M1647.8,604.9 Q1618.2,597.6 1587.2,592.6" stroke="#a26a82" stroke-width="1" fill="none"/>
<path d="M1646.5,630.7 Q1617.3,624.9 1588.0,620.8" stroke="#a26a82" stroke-width="1" fill="none"/>
<path d="M1645.9,656.6 Q1616.3,652.6 1588.0,649.1" stroke="#a26a82" stroke-width="1" fill="none"/>
<path d="M1645.6,682.4 Q1617.8,680.3 1588.0,677.4" stroke="#a26a82" stroke-width="1" fill="none"/>
<path d="M1645.4,708.3 Q1616.0,706.2 1589.6,705.5" stroke="#a26a82" stroke-width="1" fill="none"/>
<path d="M1645.2,734.1 Q1620.2,734.6 1597.3,732.8" stroke="#a26a82" stroke-width="1" fill="none"/>
<path d="M1645.0,760.0 Q1625.9,760.9 1605.0,760.0" stroke="#a26a82" stroke-width="1" fill="none"/>
<ellipse cx="1596.8" cy="499.3" rx="6.0" ry="4.4" transform="rotate(-165 1596.8 499.3)" fill="#857592"/>
<ellipse cx="1599.0" cy="554.2" rx="6.0" ry="4.4" transform="rotate(-167 1599.0 554.2)" fill="#857592"/>
<ellipse cx="1598.7" cy="581.3" rx="6.0" ry="4.4" transform="rotate(-168 1598.7 581.3)" fill="#857592"/>
<ellipse cx="1601.6" cy="637.0" rx="6.0" ry="4.4" transform="rotate(-172 1601.6 637.0)" fill="#857592"/>
<ellipse cx="1606.4" cy="665.3" rx="6.0" ry="4.4" transform="rotate(-174 1606.4 665.3)" fill="#857592"/>
<ellipse cx="1605.1" cy="719.6" rx="6.0" ry="4.4" transform="rotate(-178 1605.1 719.6)" fill="#857592"/>
<ellipse cx="1613.5" cy="746.6" rx="6.0" ry="4.4" transform="rotate(-179 1613.5 746.6)" fill="#857592"/>
<path d="M1850.3,604.1 C1848.2,603.7 1843.2,603.5 1839.4,603.9 C1835.6,604.2 1831.3,605.0 1827.8,606.1 C1824.2,607.2 1820.4,608.8 1818.0,610.7 C1815.6,612.6 1814.3,614.8 1813.3,617.5 C1812.3,620.1 1812.0,623.8 1811.8,626.6 C1811.6,629.5 1811.8,633.0 1812.1,634.6 C1812.3,636.2 1811.9,635.6 1813.4,636.2 C1814.9,636.9 1818.2,637.9 1821.1,638.3 C1823.9,638.8 1827.5,639.4 1830.3,639.0 C1833.1,638.6 1835.5,637.9 1838.0,635.9 C1840.4,634.0 1842.8,630.7 1844.7,627.5 C1846.6,624.3 1848.4,620.3 1849.6,616.7 C1850.8,613.1 1851.7,608.1 1851.8,606.0 C1852.0,603.9 1852.4,604.5 1850.3,604.1 Z" fill="#e6e39e" stroke="#8d6c5e" stroke-width="0.9"/>
<ellipse cx="1825.5" cy="625.3" rx="6.0" ry="4.4" transform="rotate(142 1825.5 625.3)" fill="#6f9270"/>
<path d="M1854.5,661.6 C1852.8,660.6 1848.4,658.6 1845.1,657.6 C1841.8,656.6 1837.9,655.9 1834.5,655.7 C1831.2,655.6 1827.5,655.7 1825.0,656.7 C1822.5,657.6 1820.9,659.2 1819.3,661.3 C1817.8,663.4 1816.7,666.7 1815.8,669.2 C1815.0,671.8 1814.3,675.1 1814.1,676.6 C1814.0,678.2 1813.8,677.6 1814.9,678.7 C1816.0,679.8 1818.7,681.8 1821.0,683.2 C1823.3,684.6 1826.3,686.4 1828.8,687.0 C1831.3,687.6 1833.6,687.7 1836.1,686.8 C1838.7,685.9 1841.6,683.6 1844.0,681.3 C1846.4,679.0 1848.9,675.9 1850.8,673.0 C1852.7,670.1 1854.7,665.8 1855.3,663.9 C1855.9,662.0 1856.2,662.6 1854.5,661.6 Z" fill="#e6e39e" stroke="#8d6c5e" stroke-width="0.9"/>
<ellipse cx="1828.0" cy="672.7" rx="6.0" ry="4.4" transform="rotate(160 1828.0 672.7)" fill="#6f9270"/>
<path d="M1850.0,560.0 Q1829.3,583.1 1811.0,605.0" stroke="#a26a82" stroke-width="1" fill="none"/>
<path d="M1851.8,589.2 Q1832.0,608.9 1811.3,625.9" stroke="#a26a82" stroke-width="1" fill="none"/>
<path d="M1853.6,618.4 Q1832.0,631.9 1811.6,646.8" stroke="#a26a82" stroke-width="1" fill="none"/>
<path d="M1855.6,647.5 Q1834.5,658.1 1812.0,667.8" stroke="#a26a82" stroke-width="1" fill="none"/>
<path d="M1857.7,676.7 Q1835.5,683.2 1814.5,688.5" stroke="#a26a82" stroke-width="1" fill="none"/>
<path d="M1859.9,705.8 Q1838.2,708.4 1817.2,709.3" stroke="#a26a82" stroke-width="1" fill="none"/>
<path d="M1862.0,735.0 Q1839.9,731.7 1820.0,730.0" stroke="#a26a82" stroke-width="1" fill="none"/>
<ellipse cx="1819.7" cy="606.6" rx="6.0" ry="4.4" transform="rotate(134 1819.7 606.6)" fill="#857592"/>
<ellipse cx="1824.8" cy="649.9" rx="6.0" ry="4.4" transform="rotate(150 1824.8 649.9)" fill="#857592"/>
<ellipse cx="1829.5" cy="696.5" rx="6.0" ry="4.4" transform="rotate(170 1829.5 696.5)" fill="#857592"/>
<ellipse cx="1828.4" cy="719.8" rx="6.0" ry="4.4" transform="rotate(-179 1828.4 719.8)" fill="#857592"/>
<path d="M1861.3,568.0 C1863.7,568.3 1869.7,568.3 1874.5,568.0 C1879.3,567.7 1885.0,567.2 1890.0,566.3 C1895.0,565.4 1900.6,564.5 1904.4,562.8 C1908.2,561.1 1910.6,559.0 1912.7,556.0 C1914.8,553.1 1916.0,548.7 1916.8,545.1 C1917.7,541.5 1917.9,536.7 1917.8,534.4 C1917.7,532.2 1918.1,532.9 1916.2,531.8 C1914.3,530.7 1909.9,528.6 1906.3,527.7 C1902.7,526.8 1898.3,525.8 1894.7,526.3 C1891.1,526.7 1888.2,528.0 1884.9,530.5 C1881.6,533.1 1878.2,537.6 1875.1,541.6 C1872.0,545.6 1868.9,550.4 1866.4,554.5 C1863.9,558.6 1861.0,563.9 1860.2,566.2 C1859.4,568.4 1859.0,567.7 1861.3,568.0 Z" fill="#e6e39e" stroke="#8d6c5e" stroke-width="0.9"/>
<ellipse cx="1898.3" cy="544.4" rx="6.0" ry="4.4" transform="rotate(-31 1898.3 544.4)" fill="#6f9270"/>
<path d="M1866.0,645.5 C1868.1,646.3 1873.5,647.6 1877.9,648.4 C1882.2,649.2 1887.5,650.0 1892.1,650.2 C1896.7,650.5 1901.9,650.8 1905.5,650.0 C1909.1,649.2 1911.6,647.7 1913.9,645.3 C1916.1,642.9 1917.8,638.9 1919.1,635.6 C1920.3,632.3 1921.2,627.7 1921.4,625.5 C1921.6,623.3 1921.9,624.1 1920.3,622.6 C1918.7,621.0 1915.1,618.1 1912.0,616.4 C1908.9,614.7 1905.0,612.8 1901.7,612.4 C1898.4,612.1 1895.6,612.6 1892.3,614.3 C1889.0,616.1 1885.3,619.7 1881.9,622.9 C1878.6,626.1 1875.2,630.1 1872.4,633.5 C1869.6,636.9 1866.3,641.4 1865.2,643.4 C1864.2,645.4 1863.9,644.7 1866.0,645.5 Z" fill="#e6e39e" stroke="#8d6c5e" stroke-width="0.9"/>
<ellipse cx="1902.4" cy="630.8" rx="6.0" ry="4.4" transform="rotate(-20 1902.4 630.8)" fill="#6f9270"/>
<path d="M1850.0,505.0 Q1872.4,481.0 1892.0,460.0" stroke="#a26a82" stroke-width="1" fill="none"/>
<path d="M1853.7,530.4 Q1879.0,508.6 1902.8,488.8" stroke="#a26a82" stroke-width="1" fill="none"/>
<path d="M1857.4,555.8 Q1887.0,535.2 1913.7,517.6" stroke="#a26a82" stroke-width="1" fill="none"/>
<path d="M1859.3,581.3 Q1892.8,564.4 1924.0,546.5" stroke="#a26a82" stroke-width="1" fill="none"/>
<path d="M1860.9,606.9 Q1893.3,593.6 1923.4,577.2" stroke="#a26a82" stroke-width="1" fill="none"/>
<path d="M1862.5,632.5 Q1891.9,619.8 1922.9,608.0" stroke="#a26a82" stroke-width="1" fill="none"/>
<path d="M1864.0,658.2 Q1893.8,647.8 1922.4,638.7" stroke="#a26a82" stroke-width="1" fill="none"/>
<path d="M1865.3,683.8 Q1892.1,675.7 1920.4,669.4" stroke="#a26a82" stroke-width="1" fill="none"/>
<path d="M1866.7,709.4 Q1892.0,705.7 1915.2,699.7" stroke="#a26a82" stroke-width="1" fill="none"/>
<path d="M1868.0,735.0 Q1889.9,731.7 1910.0,730.0" stroke="#a26a82" stroke-width="1" fill="none"/>
<ellipse cx="1887.8" cy="483.6" rx="6.0" ry="4.4" transform="rotate(-44 1887.8 483.6)" fill="#857592"/>
<ellipse cx="1893.6" cy="514.3" rx="6.0" ry="4.4" transform="rotate(-37 1893.6 514.3)" fill="#857592"/>
<ellipse cx="1903.2" cy="572.3" rx="6.0" ry="4.4" transform="rotate(-27 1903.2 572.3)" fill="#857592"/>
<ellipse cx="1905.5" cy="600.4" rx="6.0" ry="4.4" transform="rotate(-24 1905.5 600.4)" fill="#857592"/>
<ellipse cx="1904.8" cy="659.0" rx="6.0" ry="4.4" transform="rotate(-17 1904.8 659.0)" fill="#857592"/>
<ellipse cx="1899.8" cy="688.7" rx="6.0" ry="4.4" transform="rotate(-13 1899.8 688.7)" fill="#857592"/>
<ellipse cx="1900.4" cy="716.8" rx="6.0" ry="4.4" transform="rotate(-9 1900.4 716.8)" fill="#857592"/>
<path d="M1916.9,445.7 C1916.5,448.1 1915.7,454.6 1915.5,459.7 C1915.3,464.9 1915.4,471.2 1915.8,476.8 C1916.2,482.5 1916.9,488.8 1917.9,493.6 C1918.9,498.4 1920.2,502.0 1921.7,505.7 C1923.2,509.5 1925.3,513.1 1926.9,515.9 C1928.6,518.7 1930.6,521.6 1931.6,522.7 C1932.5,523.8 1932.2,523.9 1932.7,522.5 C1933.2,521.2 1934.0,517.7 1934.5,514.5 C1935.0,511.2 1935.7,507.1 1935.8,503.1 C1935.8,499.1 1935.7,495.2 1934.8,490.4 C1934.0,485.6 1932.4,479.4 1930.7,474.0 C1929.0,468.6 1926.9,462.7 1924.8,458.0 C1922.7,453.2 1919.7,447.5 1918.4,445.5 C1917.1,443.4 1917.4,443.4 1916.9,445.7 Z" fill="#e6e39e" stroke="#8d6c5e" stroke-width="0.9"/>
<ellipse cx="1927.3" cy="497.0" rx="6.0" ry="4.4" transform="rotate(79 1927.3 497.0)" fill="#6f9270"/>
<path d="M1892.0,450.0 Q1907.6,494.9 1924.0,540.0" stroke="#a26a82" stroke-width="1" fill="none"/>
<path d="M1908.7,444.9 Q1918.5,486.8 1928.9,529.0" stroke="#a26a82" stroke-width="1" fill="none"/>
<path d="M1925.4,439.7 Q1930.6,481.0 1936.3,521.2" stroke="#a26a82" stroke-width="1" fill="none"/>
<path d="M1942.6,437.2 Q1944.6,478.6 1948.2,519.1" stroke="#a26a82" stroke-width="1" fill="none"/>
<path d="M1960.0,436.0 Q1958.5,475.9 1960.0,517.0" stroke="#a26a82" stroke-width="1" fill="none"/>
<ellipse cx="1918.4" cy="507.8" rx="6.0" ry="4.4" transform="rotate(73 1918.4 507.8)" fill="#857592"/>
<ellipse cx="1939.4" cy="492.6" rx="6.0" ry="4.4" transform="rotate(84 1939.4 492.6)" fill="#857592"/>
<ellipse cx="1953.4" cy="498.4" rx="6.0" ry="4.4" transform="rotate(88 1953.4 498.4)" fill="#857592"/>
<path d="M1675,490 C1662,520 1652,560 1650,640 L1648,765 L1654,765 L1656,640 C1658,560 1668,520 1688,492 Z" fill="#a9738f" stroke="#8e5676" stroke-width="1"/>
<path d="M1834,498 C1850,540 1856,600 1860,740 L1866,740 C1863,600 1858,540 1848,494 Z" fill="#a9738f" stroke="#8e5676" stroke-width="1"/>
<path d="M1565.0,565.0 L1580.0,566.0 L1587.0,580.0 L1588.0,700.0 L1600.0,750.0 L1630.0,770.0 L1660.0,774.0 L1695.0,765.0 L1714.0,740.0 L1718.0,700.0 L1718.0,585.0 L1725.0,567.0 L1745.0,563.0 L1790.0,563.0 L1806.0,568.0 L1811.0,585.0 L1812.0,690.0 L1822.0,730.0 L1845.0,748.0 L1870.0,750.0 L1895.0,743.0 L1915.0,720.0 L1922.0,690.0 L1925.0,540.0 L1930.0,522.0 L1944.0,517.0 L1960.0,517.0 L1960.0,940.0 L1565.0,940.0 Z" fill="url(#lpgrad)" stroke="#e1ae8e" stroke-width="4.5" stroke-linejoin="round"/>
<clipPath id="lpRclip"><path d="M1565.0,565.0 L1580.0,566.0 L1587.0,580.0 L1588.0,700.0 L1600.0,750.0 L1630.0,770.0 L1660.0,774.0 L1695.0,765.0 L1714.0,740.0 L1718.0,700.0 L1718.0,585.0 L1725.0,567.0 L1745.0,563.0 L1790.0,563.0 L1806.0,568.0 L1811.0,585.0 L1812.0,690.0 L1822.0,730.0 L1845.0,748.0 L1870.0,750.0 L1895.0,743.0 L1915.0,720.0 L1922.0,690.0 L1925.0,540.0 L1930.0,522.0 L1944.0,517.0 L1960.0,517.0 L1960.0,940.0 L1565.0,940.0 Z"/></clipPath>
<g clip-path="url(#lpRclip)">
<path d="M1731.5,583.6 C1725.6,670.0 1721.2,730.0 1710.8,765.4" stroke="#fbf4f1" stroke-width="1.4" fill="none" opacity="0.9"/>
<path d="M1743.6,586.9 C1746.0,670.0 1733.9,730.0 1720.9,782.7" stroke="#fbf4f1" stroke-width="1.4" fill="none" opacity="0.9"/>
<path d="M1757.7,595.8 C1762.6,670.0 1742.7,730.0 1741.3,781.7" stroke="#fbf4f1" stroke-width="1.4" fill="none" opacity="0.9"/>
<path d="M1769.4,589.1 C1771.0,670.0 1764.4,730.0 1742.0,777.1" stroke="#fbf4f1" stroke-width="1.4" fill="none" opacity="0.9"/>
<path d="M1787.3,595.9 C1792.6,670.0 1776.8,730.0 1765.3,766.1" stroke="#fbf4f1" stroke-width="1.4" fill="none" opacity="0.9"/>
<path d="M1799.7,596.4 C1801.4,670.0 1792.3,730.0 1768.9,787.0" stroke="#fbf4f1" stroke-width="1.4" fill="none" opacity="0.9"/>
<path d="M1678.2,781.7 A20.0,16.0 0 0 1 1667.1,789.9" stroke="#fbf4f1" stroke-width="1.3" fill="none" opacity="0.85"/>
<path d="M1662.6,790.9 A20.0,16.0 0 0 1 1649.4,788.6" stroke="#fbf4f1" stroke-width="1.3" fill="none" opacity="0.85"/>
<path d="M1646.5,786.8 A20.0,16.0 0 0 1 1640.3,777.8" stroke="#fbf4f1" stroke-width="1.3" fill="none" opacity="0.85"/>
<path d="M1694.1,780.4 A34.8,27.8 0 0 1 1686.2,793.3" stroke="#fbf4f1" stroke-width="1.3" fill="none" opacity="0.85"/>
<path d="M1680.0,797.8 A34.8,27.8 0 0 1 1657.8,802.8" stroke="#fbf4f1" stroke-width="1.3" fill="none" opacity="0.85"/>
<path d="M1650.2,801.7 A34.8,27.8 0 0 1 1640.0,797.7" stroke="#fbf4f1" stroke-width="1.3" fill="none" opacity="0.85"/>
<path d="M1632.4,791.9 A34.8,27.8 0 0 1 1626.9,783.5" stroke="#fbf4f1" stroke-width="1.3" fill="none" opacity="0.85"/>
<path d="M1706.5,785.0 A48.2,38.5 0 0 1 1688.1,806.3" stroke="#fbf4f1" stroke-width="1.3" fill="none" opacity="0.85"/>
<path d="M1682.4,809.1 A48.2,38.5 0 0 1 1664.8,813.3" stroke="#fbf4f1" stroke-width="1.3" fill="none" opacity="0.85"/>
<path d="M1653.7,813.2 A48.2,38.5 0 0 1 1625.9,802.2" stroke="#fbf4f1" stroke-width="1.3" fill="none" opacity="0.85"/>
<path d="M1617.2,792.6 A48.2,38.5 0 0 1 1612.6,781.7" stroke="#fbf4f1" stroke-width="1.3" fill="none" opacity="0.85"/>
<path d="M1718.5,796.1 A64.1,51.3 0 0 1 1705.7,811.0" stroke="#fbf4f1" stroke-width="1.3" fill="none" opacity="0.85"/>
<path d="M1698.0,816.3 A64.1,51.3 0 0 1 1664.6,826.2" stroke="#fbf4f1" stroke-width="1.3" fill="none" opacity="0.85"/>
<path d="M1653.4,826.0 A64.1,51.3 0 0 1 1615.8,812.1" stroke="#fbf4f1" stroke-width="1.3" fill="none" opacity="0.85"/>
<path d="M1605.3,801.7 A64.1,51.3 0 0 1 1596.9,783.9" stroke="#fbf4f1" stroke-width="1.3" fill="none" opacity="0.85"/>
<path d="M1738.0,791.3 A80.6,64.5 0 0 1 1719.0,818.9" stroke="#fbf4f1" stroke-width="1.3" fill="none" opacity="0.85"/>
<path d="M1699.3,831.3 A80.6,64.5 0 0 1 1641.7,837.8" stroke="#fbf4f1" stroke-width="1.3" fill="none" opacity="0.85"/>
<path d="M1629.8,834.8 A80.6,64.5 0 0 1 1588.2,804.3" stroke="#fbf4f1" stroke-width="1.3" fill="none" opacity="0.85"/>
<path d="M1751.7,799.7 A96.8,77.4 0 0 1 1731.9,826.8" stroke="#fbf4f1" stroke-width="1.3" fill="none" opacity="0.85"/>
<path d="M1714.8,838.8 A96.8,77.4 0 0 1 1664.9,852.3" stroke="#fbf4f1" stroke-width="1.3" fill="none" opacity="0.85"/>
<path d="M1640.6,850.9 A96.8,77.4 0 0 1 1611.1,841.8" stroke="#fbf4f1" stroke-width="1.3" fill="none" opacity="0.85"/>
<path d="M1586.0,824.9 A96.8,77.4 0 0 1 1564.7,788.4" stroke="#fbf4f1" stroke-width="1.3" fill="none" opacity="0.85"/>
<path d="M1769.3,804.2 A115.2,92.2 0 0 1 1734.5,845.3" stroke="#fbf4f1" stroke-width="1.3" fill="none" opacity="0.85"/>
<path d="M1708.0,858.8 A115.2,92.2 0 0 1 1669.7,866.8" stroke="#fbf4f1" stroke-width="1.3" fill="none" opacity="0.85"/>
<path d="M1642.6,866.1 A115.2,92.2 0 0 1 1589.3,847.7" stroke="#fbf4f1" stroke-width="1.3" fill="none" opacity="0.85"/>
<path d="M1563.1,824.8 A115.2,92.2 0 0 1 1546.6,791.0" stroke="#fbf4f1" stroke-width="1.3" fill="none" opacity="0.85"/>
<path d="M1788.2,796.6 A131.0,104.8 0 0 1 1757.9,844.6" stroke="#fbf4f1" stroke-width="1.3" fill="none" opacity="0.85"/>
<path d="M1727.4,864.8 A131.0,104.8 0 0 1 1634.2,877.7" stroke="#fbf4f1" stroke-width="1.3" fill="none" opacity="0.85"/>
<path d="M1606.7,870.7 A131.0,104.8 0 0 1 1558.8,841.5" stroke="#fbf4f1" stroke-width="1.3" fill="none" opacity="0.85"/>
<path d="M1547.4,828.6 A131.0,104.8 0 0 1 1531.0,793.2" stroke="#fbf4f1" stroke-width="1.3" fill="none" opacity="0.85"/>
<path d="M1793.8,817.6 A144.0,115.2 0 0 1 1769.8,849.5" stroke="#fbf4f1" stroke-width="1.3" fill="none" opacity="0.85"/>
<path d="M1754.4,862.0 A144.0,115.2 0 0 1 1701.7,885.3" stroke="#fbf4f1" stroke-width="1.3" fill="none" opacity="0.85"/>
<path d="M1663.1,890.2 A144.0,115.2 0 0 1 1598.1,879.0" stroke="#fbf4f1" stroke-width="1.3" fill="none" opacity="0.85"/>
<path d="M1574.4,867.7 A144.0,115.2 0 0 1 1523.7,812.2" stroke="#fbf4f1" stroke-width="1.3" fill="none" opacity="0.85"/>
<path d="M1518.8,797.7 A144.0,115.2 0 0 1 1518.2,795.0" stroke="#fbf4f1" stroke-width="1.3" fill="none" opacity="0.85"/>
<path d="M1815.5,805.5 A160.1,128.1 0 0 1 1787.7,852.3" stroke="#fbf4f1" stroke-width="1.3" fill="none" opacity="0.85"/>
<path d="M1761.8,873.9 A160.1,128.1 0 0 1 1686.9,901.3" stroke="#fbf4f1" stroke-width="1.3" fill="none" opacity="0.85"/>
<path d="M1655.6,903.0 A160.1,128.1 0 0 1 1578.2,885.1" stroke="#fbf4f1" stroke-width="1.3" fill="none" opacity="0.85"/>
<path d="M1548.5,866.9 A160.1,128.1 0 0 1 1513.2,826.2" stroke="#fbf4f1" stroke-width="1.3" fill="none" opacity="0.85"/>
<path d="M1505.1,807.5 A160.1,128.1 0 0 1 1502.3,797.2" stroke="#fbf4f1" stroke-width="1.3" fill="none" opacity="0.85"/>
<path d="M1822.6,829.6 A176.3,141.1 0 0 1 1755.3,893.7" stroke="#fbf4f1" stroke-width="1.3" fill="none" opacity="0.85"/>
<path d="M1704.8,911.4 A176.3,141.1 0 0 1 1630.7,914.1" stroke="#fbf4f1" stroke-width="1.3" fill="none" opacity="0.85"/>
<path d="M1582.9,901.9 A176.3,141.1 0 0 1 1499.1,832.8" stroke="#fbf4f1" stroke-width="1.3" fill="none" opacity="0.85"/>
<path d="M1844.6,813.8 A190.9,152.7 0 0 1 1762.2,904.0" stroke="#fbf4f1" stroke-width="1.3" fill="none" opacity="0.85"/>
<path d="M1735.5,915.2 A190.9,152.7 0 0 1 1589.6,916.9" stroke="#fbf4f1" stroke-width="1.3" fill="none" opacity="0.85"/>
<path d="M1537.1,891.8 A190.9,152.7 0 0 1 1492.0,847.4" stroke="#fbf4f1" stroke-width="1.3" fill="none" opacity="0.85"/>
<path d="M1479.5,824.6 A190.9,152.7 0 0 1 1472.0,801.5" stroke="#fbf4f1" stroke-width="1.3" fill="none" opacity="0.85"/>
<path d="M1886.5,758.1 A20.0,16.0 0 0 1 1880.3,764.6" stroke="#fbf4f1" stroke-width="1.3" fill="none" opacity="0.85"/>
<path d="M1875.2,766.9 A20.0,16.0 0 0 1 1867.9,768.0" stroke="#fbf4f1" stroke-width="1.3" fill="none" opacity="0.85"/>
<path d="M1863.9,767.7 A20.0,16.0 0 0 1 1853.0,762.6" stroke="#fbf4f1" stroke-width="1.3" fill="none" opacity="0.85"/>
<path d="M1851.7,761.2 A20.0,16.0 0 0 1 1848.4,755.3" stroke="#fbf4f1" stroke-width="1.3" fill="none" opacity="0.85"/>
<path d="M1903.7,765.0 A39.3,31.4 0 0 1 1895.5,774.5" stroke="#fbf4f1" stroke-width="1.3" fill="none" opacity="0.85"/>
<path d="M1888.4,778.9 A39.3,31.4 0 0 1 1863.1,783.2" stroke="#fbf4f1" stroke-width="1.3" fill="none" opacity="0.85"/>
<path d="M1854.4,781.5 A39.3,31.4 0 0 1 1835.1,769.2" stroke="#fbf4f1" stroke-width="1.3" fill="none" opacity="0.85"/>
<path d="M1832.3,765.1 A39.3,31.4 0 0 1 1829.3,757.5" stroke="#fbf4f1" stroke-width="1.3" fill="none" opacity="0.85"/>
<path d="M1917.0,764.9 A51.6,41.3 0 0 1 1901.0,783.7" stroke="#fbf4f1" stroke-width="1.3" fill="none" opacity="0.85"/>
<path d="M1890.5,789.1 A51.6,41.3 0 0 1 1871.5,793.2" stroke="#fbf4f1" stroke-width="1.3" fill="none" opacity="0.85"/>
<path d="M1863.8,793.1 A51.6,41.3 0 0 1 1843.6,788.4" stroke="#fbf4f1" stroke-width="1.3" fill="none" opacity="0.85"/>
<path d="M1830.9,780.7 A51.6,41.3 0 0 1 1817.2,759.2" stroke="#fbf4f1" stroke-width="1.3" fill="none" opacity="0.85"/>
<path d="M1931.2,761.8 A64.4,51.5 0 0 1 1905.3,794.0" stroke="#fbf4f1" stroke-width="1.3" fill="none" opacity="0.85"/>
<path d="M1893.1,799.4 A64.4,51.5 0 0 1 1850.5,801.6" stroke="#fbf4f1" stroke-width="1.3" fill="none" opacity="0.85"/>
<path d="M1839.5,798.1 A64.4,51.5 0 0 1 1814.1,780.1" stroke="#fbf4f1" stroke-width="1.3" fill="none" opacity="0.85"/>
<path d="M1807.5,769.5 A64.4,51.5 0 0 1 1804.6,760.9" stroke="#fbf4f1" stroke-width="1.3" fill="none" opacity="0.85"/>
<path d="M1939.6,773.4 A76.5,61.2 0 0 1 1904.7,805.7" stroke="#fbf4f1" stroke-width="1.3" fill="none" opacity="0.85"/>
<path d="M1894.3,809.4 A76.5,61.2 0 0 1 1854.6,812.2" stroke="#fbf4f1" stroke-width="1.3" fill="none" opacity="0.85"/>
<path d="M1833.9,806.8 A76.5,61.2 0 0 1 1805.1,786.7" stroke="#fbf4f1" stroke-width="1.3" fill="none" opacity="0.85"/>
<path d="M1799.2,778.7 A76.5,61.2 0 0 1 1792.7,762.6" stroke="#fbf4f1" stroke-width="1.3" fill="none" opacity="0.85"/>
<path d="M1949.3,780.1 A88.6,70.9 0 0 1 1908.2,815.2" stroke="#fbf4f1" stroke-width="1.3" fill="none" opacity="0.85"/>
<path d="M1885.0,821.5 A88.6,70.9 0 0 1 1823.5,813.3" stroke="#fbf4f1" stroke-width="1.3" fill="none" opacity="0.85"/>
<path d="M1805.4,802.1 A88.6,70.9 0 0 1 1782.9,771.7" stroke="#fbf4f1" stroke-width="1.3" fill="none" opacity="0.85"/>
<path d="M1963.0,787.0 A104.6,83.7 0 0 1 1913.1,827.5" stroke="#fbf4f1" stroke-width="1.3" fill="none" opacity="0.85"/>
<path d="M1896.7,832.5 A104.6,83.7 0 0 1 1821.0,826.8" stroke="#fbf4f1" stroke-width="1.3" fill="none" opacity="0.85"/>
<path d="M1796.5,813.1 A104.6,83.7 0 0 1 1765.0,766.5" stroke="#fbf4f1" stroke-width="1.3" fill="none" opacity="0.85"/>
<path d="M1978.0,790.2 A119.9,95.9 0 0 1 1918.3,839.0" stroke="#fbf4f1" stroke-width="1.3" fill="none" opacity="0.85"/>
<path d="M1886.9,846.7 A119.9,95.9 0 0 1 1808.7,835.3" stroke="#fbf4f1" stroke-width="1.3" fill="none" opacity="0.85"/>
<path d="M1781.3,818.2 A119.9,95.9 0 0 1 1752.1,776.3" stroke="#fbf4f1" stroke-width="1.3" fill="none" opacity="0.85"/>
<path d="M1995.8,779.6 A132.4,105.9 0 0 1 1960.3,827.9" stroke="#fbf4f1" stroke-width="1.3" fill="none" opacity="0.85"/>
<path d="M1949.7,835.4 A132.4,105.9 0 0 1 1892.1,856.2" stroke="#fbf4f1" stroke-width="1.3" fill="none" opacity="0.85"/>
<path d="M1857.7,857.6 A132.4,105.9 0 0 1 1784.1,834.0" stroke="#fbf4f1" stroke-width="1.3" fill="none" opacity="0.85"/>
<path d="M1768.7,822.1 A132.4,105.9 0 0 1 1737.6,770.4" stroke="#fbf4f1" stroke-width="1.3" fill="none" opacity="0.85"/>
<path d="M2006.3,792.1 A147.1,117.7 0 0 1 1956.0,846.3" stroke="#fbf4f1" stroke-width="1.3" fill="none" opacity="0.85"/>
<path d="M1926.1,860.1 A147.1,117.7 0 0 1 1854.5,869.2" stroke="#fbf4f1" stroke-width="1.3" fill="none" opacity="0.85"/>
<path d="M1805.2,858.5 A147.1,117.7 0 0 1 1739.8,809.8" stroke="#fbf4f1" stroke-width="1.3" fill="none" opacity="0.85"/>
<path d="M1725.0,779.6 A147.1,117.7 0 0 1 1723.1,772.4" stroke="#fbf4f1" stroke-width="1.3" fill="none" opacity="0.85"/>
<path d="M2018.4,794.0 A159.3,127.4 0 0 1 1954.4,859.1" stroke="#fbf4f1" stroke-width="1.3" fill="none" opacity="0.85"/>
<path d="M1930.8,869.1 A159.3,127.4 0 0 1 1852.4,878.8" stroke="#fbf4f1" stroke-width="1.3" fill="none" opacity="0.85"/>
<path d="M1834.0,876.5 A159.3,127.4 0 0 1 1775.3,855.6" stroke="#fbf4f1" stroke-width="1.3" fill="none" opacity="0.85"/>
<path d="M1751.8,839.2 A159.3,127.4 0 0 1 1720.8,800.7" stroke="#fbf4f1" stroke-width="1.3" fill="none" opacity="0.85"/>
<path d="M1712.8,780.6 A159.3,127.4 0 0 1 1711.1,774.1" stroke="#fbf4f1" stroke-width="1.3" fill="none" opacity="0.85"/>
<path d="M2027.6,810.2 A175.4,140.3 0 0 1 1961.3,870.8" stroke="#fbf4f1" stroke-width="1.3" fill="none" opacity="0.85"/>
<path d="M1905.1,889.1 A175.4,140.3 0 0 1 1799.5,881.1" stroke="#fbf4f1" stroke-width="1.3" fill="none" opacity="0.85"/>
<path d="M1754.5,858.9 A175.4,140.3 0 0 1 1715.5,821.3" stroke="#fbf4f1" stroke-width="1.3" fill="none" opacity="0.85"/>
<path d="M1698.8,788.9 A175.4,140.3 0 0 1 1695.3,776.4" stroke="#fbf4f1" stroke-width="1.3" fill="none" opacity="0.85"/>
</g>
<ellipse cx="1633.4" cy="755.7" rx="2.6" ry="3.6" transform="rotate(-26 1633.4 755.7)" fill="#b4a2a6" opacity="0.85"/>
<ellipse cx="1755.9" cy="801.7" rx="2.6" ry="3.6" transform="rotate(-35 1755.9 801.7)" fill="#b4a2a6" opacity="0.85"/>
<ellipse cx="1920.0" cy="738.8" rx="2.6" ry="3.6" transform="rotate(2 1920.0 738.8)" fill="#b4a2a6" opacity="0.85"/>
<ellipse cx="1793.2" cy="720.6" rx="2.6" ry="3.6" transform="rotate(-17 1793.2 720.6)" fill="#b4a2a6" opacity="0.85"/>
<ellipse cx="1814.1" cy="785.0" rx="2.6" ry="3.6" transform="rotate(-17 1814.1 785.0)" fill="#b4a2a6" opacity="0.85"/>
<ellipse cx="1836.6" cy="697.7" rx="2.6" ry="3.6" transform="rotate(-39 1836.6 697.7)" fill="#b4a2a6" opacity="0.85"/>
<ellipse cx="1664.4" cy="614.1" rx="2.6" ry="3.6" transform="rotate(-27 1664.4 614.1)" fill="#b4a2a6" opacity="0.85"/>
<ellipse cx="1850.4" cy="728.7" rx="2.6" ry="3.6" transform="rotate(32 1850.4 728.7)" fill="#b4a2a6" opacity="0.85"/>
<ellipse cx="1848.2" cy="616.6" rx="2.6" ry="3.6" transform="rotate(39 1848.2 616.6)" fill="#b4a2a6" opacity="0.85"/>
<ellipse cx="1919.7" cy="624.3" rx="2.6" ry="3.6" transform="rotate(32 1919.7 624.3)" fill="#b4a2a6" opacity="0.85"/>
<ellipse cx="1731.8" cy="757.6" rx="2.6" ry="3.6" transform="rotate(38 1731.8 757.6)" fill="#b4a2a6" opacity="0.85"/>
<ellipse cx="1664.0" cy="772.7" rx="2.6" ry="3.6" transform="rotate(35 1664.0 772.7)" fill="#b4a2a6" opacity="0.85"/>
<g transform="rotate(10 1805 583)"><rect x="1799.5" y="574.5" width="11" height="17" rx="5.5" fill="#ffffff"/><rect x="1802.0" y="577.0" width="6" height="12" rx="3.0" fill="#b3181c"/></g>
<g transform="rotate(0 1748 665)"><rect x="1743.0" y="649.5" width="10" height="31" rx="5.0" fill="#ffffff"/><rect x="1745.5" y="652.0" width="5" height="26" rx="2.5" fill="#b3181c"/></g>
<ellipse cx="1750" cy="810" rx="150" ry="95" transform="rotate(-25 1750 810)" fill="url(#dmg)"/>
<ellipse cx="1670" cy="885" rx="85" ry="55" fill="url(#dmg)"/>
<ellipse cx="1860" cy="760" rx="70" ry="50" fill="url(#dmg)"/>
<path d="M1822.4,837.3 l12.1,6.7" stroke="#9a4038" stroke-width="1.6" opacity="0.55" stroke-linecap="round"/>
<path d="M1789.0,779.0 l10.6,-0.8" stroke="#9a4038" stroke-width="1.6" opacity="0.55" stroke-linecap="round"/>
<path d="M1677.0,768.6 l8.0,-5.5" stroke="#9a4038" stroke-width="1.6" opacity="0.55" stroke-linecap="round"/>
<path d="M1744.0,870.2 l8.4,-3.4" stroke="#9a4038" stroke-width="1.6" opacity="0.55" stroke-linecap="round"/>
<path d="M1783.0,829.2 l12.0,0.6" stroke="#9a4038" stroke-width="1.6" opacity="0.55" stroke-linecap="round"/>
<path d="M1899.3,917.2 l10.6,-4.7" stroke="#9a4038" stroke-width="1.6" opacity="0.55" stroke-linecap="round"/>
<path d="M1651.9,907.3 l11.8,2.4" stroke="#9a4038" stroke-width="1.6" opacity="0.55" stroke-linecap="round"/>
<path d="M1720.6,804.8 l11.1,1.2" stroke="#9a4038" stroke-width="1.6" opacity="0.55" stroke-linecap="round"/>
<path d="M1785.7,864.5 l10.4,-5.6" stroke="#9a4038" stroke-width="1.6" opacity="0.55" stroke-linecap="round"/>
<path d="M1689.7,921.7 l10.9,7.5" stroke="#9a4038" stroke-width="1.6" opacity="0.55" stroke-linecap="round"/>
<path d="M1631.1,770.0 l7.4,-0.9" stroke="#9a4038" stroke-width="1.6" opacity="0.55" stroke-linecap="round"/>
<path d="M1794.5,776.9 l7.7,-6.2" stroke="#9a4038" stroke-width="1.6" opacity="0.55" stroke-linecap="round"/>
<path d="M1644.2,871.6 l9.7,2.1" stroke="#9a4038" stroke-width="1.6" opacity="0.55" stroke-linecap="round"/>
<path d="M1724.5,839.0 l6.7,-1.7" stroke="#9a4038" stroke-width="1.6" opacity="0.55" stroke-linecap="round"/>
<path d="M1828.6,898.4 l4.7,-3.2" stroke="#9a4038" stroke-width="1.6" opacity="0.55" stroke-linecap="round"/>
<path d="M1846.6,862.9 l10.7,-5.3" stroke="#9a4038" stroke-width="1.6" opacity="0.55" stroke-linecap="round"/>
<path d="M1738.8,802.6 l12.0,-2.6" stroke="#9a4038" stroke-width="1.6" opacity="0.55" stroke-linecap="round"/>
<path d="M1803.0,923.2 l7.9,0.6" stroke="#9a4038" stroke-width="1.6" opacity="0.55" stroke-linecap="round"/>
<path d="M1828.9,911.9 l8.7,-1.8" stroke="#9a4038" stroke-width="1.6" opacity="0.55" stroke-linecap="round"/>
<path d="M1647.2,904.4 l4.5,-3.5" stroke="#9a4038" stroke-width="1.6" opacity="0.55" stroke-linecap="round"/>
<path d="M1778.0,840.0 l10.6,-3.5" stroke="#9a4038" stroke-width="1.6" opacity="0.55" stroke-linecap="round"/>
<path d="M1837.1,772.6 l6.7,1.8" stroke="#9a4038" stroke-width="1.6" opacity="0.55" stroke-linecap="round"/>
<path d="M1642.9,810.1 l11.0,3.5" stroke="#9a4038" stroke-width="1.6" opacity="0.55" stroke-linecap="round"/>
<path d="M1699.2,783.6 l7.7,2.9" stroke="#9a4038" stroke-width="1.6" opacity="0.55" stroke-linecap="round"/>
<path d="M1722.6,779.4 l11.3,1.3" stroke="#9a4038" stroke-width="1.6" opacity="0.55" stroke-linecap="round"/>
<path d="M1877.2,915.1 l13.2,-1.3" stroke="#9a4038" stroke-width="1.6" opacity="0.55" stroke-linecap="round"/>
<path d="M1844.9,810.3 l7.8,-1.3" stroke="#9a4038" stroke-width="1.6" opacity="0.55" stroke-linecap="round"/>
<path d="M1881.7,907.6 l7.1,-1.6" stroke="#9a4038" stroke-width="1.6" opacity="0.55" stroke-linecap="round"/>
<path d="M1722.4,819.9 l8.4,-1.5" stroke="#9a4038" stroke-width="1.6" opacity="0.55" stroke-linecap="round"/>
<path d="M1674.6,853.0 l12.1,0.8" stroke="#9a4038" stroke-width="1.6" opacity="0.55" stroke-linecap="round"/>
<path d="M1854.2,852.9 l6.0,2.7" stroke="#9a4038" stroke-width="1.6" opacity="0.55" stroke-linecap="round"/>
<path d="M1866.7,806.4 l5.2,0.1" stroke="#9a4038" stroke-width="1.6" opacity="0.55" stroke-linecap="round"/>
<path d="M1772.4,853.6 l13.3,3.3" stroke="#9a4038" stroke-width="1.6" opacity="0.55" stroke-linecap="round"/>
<path d="M1845.2,770.6 l8.9,4.4" stroke="#9a4038" stroke-width="1.6" opacity="0.55" stroke-linecap="round"/>
<path d="M1643.5,773.5 l9.3,6.9" stroke="#9a4038" stroke-width="1.6" opacity="0.55" stroke-linecap="round"/>
<path d="M1643.7,864.6 l5.8,2.4" stroke="#9a4038" stroke-width="1.6" opacity="0.55" stroke-linecap="round"/>
<path d="M1801.7,800.5 l6.4,2.9" stroke="#9a4038" stroke-width="1.6" opacity="0.55" stroke-linecap="round"/>
<path d="M1766.0,886.2 l8.3,-2.2" stroke="#9a4038" stroke-width="1.6" opacity="0.55" stroke-linecap="round"/>
<path d="M1891.1,870.9 l9.4,0.6" stroke="#9a4038" stroke-width="1.6" opacity="0.55" stroke-linecap="round"/>
<path d="M1821.9,876.8 l13.1,-1.9" stroke="#9a4038" stroke-width="1.6" opacity="0.55" stroke-linecap="round"/>
<path d="M1851.3,870.0 l11.2,6.0" stroke="#9a4038" stroke-width="1.6" opacity="0.55" stroke-linecap="round"/>
<path d="M1853.5,906.6 l13.3,3.0" stroke="#9a4038" stroke-width="1.6" opacity="0.55" stroke-linecap="round"/>
<path d="M1766.7,877.2 l12.1,-1.5" stroke="#9a4038" stroke-width="1.6" opacity="0.55" stroke-linecap="round"/>
<path d="M1737.7,784.1 l8.3,8.3" stroke="#9a4038" stroke-width="1.6" opacity="0.55" stroke-linecap="round"/>
<path d="M1725.1,787.7 l6.8,-0.8" stroke="#9a4038" stroke-width="1.6" opacity="0.55" stroke-linecap="round"/>
<path d="M1701.8,920.0 l5.3,-1.7" stroke="#9a4038" stroke-width="1.6" opacity="0.55" stroke-linecap="round"/>
<path d="M1652.1,866.9 l10.4,-5.9" stroke="#9a4038" stroke-width="1.6" opacity="0.55" stroke-linecap="round"/>
<path d="M1637.5,835.7 l8.1,6.2" stroke="#9a4038" stroke-width="1.6" opacity="0.55" stroke-linecap="round"/>
<path d="M1630.2,777.9 l6.0,-2.9" stroke="#9a4038" stroke-width="1.6" opacity="0.55" stroke-linecap="round"/>
<path d="M1685.9,878.3 l9.4,-4.4" stroke="#9a4038" stroke-width="1.6" opacity="0.55" stroke-linecap="round"/>
<path d="M1671.8,806.4 l6.0,2.6" stroke="#9a4038" stroke-width="1.6" opacity="0.55" stroke-linecap="round"/>
<path d="M1707.3,850.5 l12.3,-0.4" stroke="#9a4038" stroke-width="1.6" opacity="0.55" stroke-linecap="round"/>
<path d="M1692.9,906.4 l12.8,-3.3" stroke="#9a4038" stroke-width="1.6" opacity="0.55" stroke-linecap="round"/>
<path d="M1773.3,917.9 l8.4,-4.0" stroke="#9a4038" stroke-width="1.6" opacity="0.55" stroke-linecap="round"/>
<path d="M1633.9,916.3 l12.0,-2.2" stroke="#9a4038" stroke-width="1.6" opacity="0.55" stroke-linecap="round"/>
<path d="M1767.7,845.1 l5.3,5.3" stroke="#9a4038" stroke-width="1.6" opacity="0.55" stroke-linecap="round"/>
<path d="M1804.1,799.2 l5.1,-0.2" stroke="#9a4038" stroke-width="1.6" opacity="0.55" stroke-linecap="round"/>
<path d="M1724.0,891.5 l11.3,1.9" stroke="#9a4038" stroke-width="1.6" opacity="0.55" stroke-linecap="round"/>
<path d="M1664.0,785.9 l7.3,-3.0" stroke="#9a4038" stroke-width="1.6" opacity="0.55" stroke-linecap="round"/>
<path d="M1863.4,845.2 l7.6,7.6" stroke="#9a4038" stroke-width="1.6" opacity="0.55" stroke-linecap="round"/>
<path d="M1694.6,848.2 l5.8,2.7" stroke="#9a4038" stroke-width="1.6" opacity="0.55" stroke-linecap="round"/>
<path d="M1620.4,895.5 l11.0,6.2" stroke="#9a4038" stroke-width="1.6" opacity="0.55" stroke-linecap="round"/>
<path d="M1643.1,804.5 l9.2,-6.9" stroke="#9a4038" stroke-width="1.6" opacity="0.55" stroke-linecap="round"/>
<path d="M1754.4,837.3 l13.5,1.9" stroke="#9a4038" stroke-width="1.6" opacity="0.55" stroke-linecap="round"/>
<path d="M1860.1,810.1 l12.0,-1.6" stroke="#9a4038" stroke-width="1.6" opacity="0.55" stroke-linecap="round"/>
<path d="M1876.7,775.0 l11.1,-5.6" stroke="#9a4038" stroke-width="1.6" opacity="0.55" stroke-linecap="round"/>
<path d="M1772.1,846.7 l5.5,3.3" stroke="#9a4038" stroke-width="1.6" opacity="0.55" stroke-linecap="round"/>
<path d="M1707.2,811.3 l5.4,-1.7" stroke="#9a4038" stroke-width="1.6" opacity="0.55" stroke-linecap="round"/>
<path d="M1750.8,878.0 l7.9,2.4" stroke="#9a4038" stroke-width="1.6" opacity="0.55" stroke-linecap="round"/>
<path d="M1649.6,825.0 l6.7,6.2" stroke="#9a4038" stroke-width="1.6" opacity="0.55" stroke-linecap="round"/>
<path d="M1852.3,867.9 l5.0,-1.0" stroke="#9a4038" stroke-width="1.6" opacity="0.55" stroke-linecap="round"/>
<path d="M1818.8,799.2 l10.1,-0.7" stroke="#9a4038" stroke-width="1.6" opacity="0.55" stroke-linecap="round"/>
<path d="M1622.9,923.6 l10.9,-5.5" stroke="#9a4038" stroke-width="1.6" opacity="0.55" stroke-linecap="round"/>
<path d="M1792.5,807.9 l8.4,0.5" stroke="#9a4038" stroke-width="1.6" opacity="0.55" stroke-linecap="round"/>
<path d="M1703.5,815.7 l8.2,2.2" stroke="#9a4038" stroke-width="1.6" opacity="0.55" stroke-linecap="round"/>
<path d="M1691.8,793.0 l11.2,-3.1" stroke="#9a4038" stroke-width="1.6" opacity="0.55" stroke-linecap="round"/>
<path d="M1884.6,852.9 l11.1,-3.1" stroke="#9a4038" stroke-width="1.6" opacity="0.55" stroke-linecap="round"/>
<path d="M1851.5,775.2 l5.0,-3.8" stroke="#9a4038" stroke-width="1.6" opacity="0.55" stroke-linecap="round"/>
<path d="M1809.8,876.9 l6.5,-1.0" stroke="#9a4038" stroke-width="1.6" opacity="0.55" stroke-linecap="round"/>
<path d="M1854.3,857.8 l5.3,-2.5" stroke="#9a4038" stroke-width="1.6" opacity="0.55" stroke-linecap="round"/>
<path d="M1664.0,780.5 l6.7,-5.5" stroke="#9a4038" stroke-width="1.6" opacity="0.55" stroke-linecap="round"/>
<path d="M1877.8,830.5 l9.3,2.2" stroke="#9a4038" stroke-width="1.6" opacity="0.55" stroke-linecap="round"/>
<path d="M1834.7,895.5 l8.2,-2.3" stroke="#9a4038" stroke-width="1.6" opacity="0.55" stroke-linecap="round"/>
<path d="M1735.4,762.5 l8.2,2.7" stroke="#9a4038" stroke-width="1.6" opacity="0.55" stroke-linecap="round"/>
<path d="M1894.9,890.3 l10.8,1.9" stroke="#9a4038" stroke-width="1.6" opacity="0.55" stroke-linecap="round"/>
<path d="M1625.2,814.6 l7.8,1.9" stroke="#9a4038" stroke-width="1.6" opacity="0.55" stroke-linecap="round"/>
<path d="M1649.8,822.3 l8.6,4.3" stroke="#9a4038" stroke-width="1.6" opacity="0.55" stroke-linecap="round"/>
<path d="M1851.1,860.9 l5.8,2.7" stroke="#9a4038" stroke-width="1.6" opacity="0.55" stroke-linecap="round"/>
<path d="M1872.8,850.5 l8.2,0.0" stroke="#9a4038" stroke-width="1.6" opacity="0.55" stroke-linecap="round"/>
<path d="M1659.7,877.7 l13.9,0.4" stroke="#9a4038" stroke-width="1.6" opacity="0.55" stroke-linecap="round"/>
<path d="M1843.1,853.7 l1.2,4.8" stroke="#ffffff" stroke-width="1.8" opacity="0.8" stroke-linecap="round"/>
<path d="M1825.4,751.7 l3.2,-3.1" stroke="#ffffff" stroke-width="1.8" opacity="0.8" stroke-linecap="round"/>
<path d="M1815.3,831.5 l1.6,5.4" stroke="#ffffff" stroke-width="1.8" opacity="0.8" stroke-linecap="round"/>
<path d="M1772.2,794.1 l0.7,4.6" stroke="#ffffff" stroke-width="1.8" opacity="0.8" stroke-linecap="round"/>
<path d="M1727.1,864.6 l6.6,1.2" stroke="#ffffff" stroke-width="1.8" opacity="0.8" stroke-linecap="round"/>
<path d="M1812.1,762.3 l0.8,8.5" stroke="#ffffff" stroke-width="1.8" opacity="0.8" stroke-linecap="round"/>
<path d="M1863.5,816.2 l2.6,3.8" stroke="#ffffff" stroke-width="1.8" opacity="0.8" stroke-linecap="round"/>
<path d="M1757.7,863.5 l5.1,1.1" stroke="#ffffff" stroke-width="1.8" opacity="0.8" stroke-linecap="round"/>
<path d="M1866.2,749.7 l2.0,-6.4" stroke="#ffffff" stroke-width="1.8" opacity="0.8" stroke-linecap="round"/>
<path d="M1706.4,748.8 l2.2,8.7" stroke="#ffffff" stroke-width="1.8" opacity="0.8" stroke-linecap="round"/>
<path d="M1831.7,769.2 l5.6,4.8" stroke="#ffffff" stroke-width="1.8" opacity="0.8" stroke-linecap="round"/>
<path d="M1776.3,814.7 l1.0,-8.0" stroke="#ffffff" stroke-width="1.8" opacity="0.8" stroke-linecap="round"/>
<path d="M1739.9,794.9 l4.4,-1.6" stroke="#ffffff" stroke-width="1.8" opacity="0.8" stroke-linecap="round"/>
<path d="M1813.9,747.8 l5.0,-4.3" stroke="#ffffff" stroke-width="1.8" opacity="0.8" stroke-linecap="round"/>
<path d="M1813.6,773.1 l1.3,-7.1" stroke="#ffffff" stroke-width="1.8" opacity="0.8" stroke-linecap="round"/>
<path d="M1834.2,743.2 l8.4,2.6" stroke="#ffffff" stroke-width="1.8" opacity="0.8" stroke-linecap="round"/>
<path d="M1794.0,785.8 l6.0,3.8" stroke="#ffffff" stroke-width="1.8" opacity="0.8" stroke-linecap="round"/>
<path d="M1851.6,840.3 l0.6,6.4" stroke="#ffffff" stroke-width="1.8" opacity="0.8" stroke-linecap="round"/>
<path d="M1867.6,856.8 l5.9,-1.2" stroke="#ffffff" stroke-width="1.8" opacity="0.8" stroke-linecap="round"/>
<path d="M1813.2,864.8 l6.6,0.5" stroke="#ffffff" stroke-width="1.8" opacity="0.8" stroke-linecap="round"/>
<path d="M1786.4,864.7 l1.3,-5.4" stroke="#ffffff" stroke-width="1.8" opacity="0.8" stroke-linecap="round"/>
<path d="M1845.1,864.0 l7.3,2.2" stroke="#ffffff" stroke-width="1.8" opacity="0.8" stroke-linecap="round"/>
<path d="M1850.4,768.8 l1.9,-6.7" stroke="#ffffff" stroke-width="1.8" opacity="0.8" stroke-linecap="round"/>
<path d="M1724.9,791.5 l6.2,-2.0" stroke="#ffffff" stroke-width="1.8" opacity="0.8" stroke-linecap="round"/>
<path d="M1710.4,831.2 l4.7,-4.7" stroke="#ffffff" stroke-width="1.8" opacity="0.8" stroke-linecap="round"/>
<path d="M1761.3,783.3 l1.4,-5.0" stroke="#ffffff" stroke-width="1.8" opacity="0.8" stroke-linecap="round"/>
<path d="M1882.3,874.6 l3.3,6.5" stroke="#ffffff" stroke-width="1.8" opacity="0.8" stroke-linecap="round"/>
<path d="M1784.3,848.8 l3.8,3.4" stroke="#ffffff" stroke-width="1.8" opacity="0.8" stroke-linecap="round"/>
<path d="M1813.4,864.5 l2.9,3.5" stroke="#ffffff" stroke-width="1.8" opacity="0.8" stroke-linecap="round"/>
<path d="M1724.8,806.0 l0.6,-8.7" stroke="#ffffff" stroke-width="1.8" opacity="0.8" stroke-linecap="round"/>
<path d="M1748.8,767.9 l1.4,-5.4" stroke="#ffffff" stroke-width="1.8" opacity="0.8" stroke-linecap="round"/>
<path d="M1879.0,850.5 l5.4,-2.5" stroke="#ffffff" stroke-width="1.8" opacity="0.8" stroke-linecap="round"/>
<path d="M1817.1,727.3 l1.5,3.9" stroke="#ffffff" stroke-width="1.8" opacity="0.8" stroke-linecap="round"/>
<path d="M1761.6,799.7 l1.2,8.6" stroke="#ffffff" stroke-width="1.8" opacity="0.8" stroke-linecap="round"/>
<path d="M1794.5,753.0 l1.6,5.2" stroke="#ffffff" stroke-width="1.8" opacity="0.8" stroke-linecap="round"/>
<path d="M1879.4,751.3 l7.4,-3.5" stroke="#ffffff" stroke-width="1.8" opacity="0.8" stroke-linecap="round"/>
<path d="M1794.5,747.5 l0.7,8.4" stroke="#ffffff" stroke-width="1.8" opacity="0.8" stroke-linecap="round"/>
<path d="M1740.4,821.2 l2.1,4.5" stroke="#ffffff" stroke-width="1.8" opacity="0.8" stroke-linecap="round"/>
<path d="M1710.0,737.0 l6.5,-4.1" stroke="#ffffff" stroke-width="1.8" opacity="0.8" stroke-linecap="round"/>
<path d="M1880.1,859.1 l3.5,-6.7" stroke="#ffffff" stroke-width="1.8" opacity="0.8" stroke-linecap="round"/>
<g transform="rotate(-20 1718 812)"><rect x="1709.5" y="806.5" width="17" height="11" rx="8.5" fill="#ffffff"/><rect x="1712.0" y="809.0" width="12" height="6" rx="6.0" fill="#b3181c"/></g>
<g transform="rotate(0 1800 840)"><rect x="1795.0" y="832.5" width="10" height="15" rx="5.0" fill="#ffffff"/><rect x="1797.5" y="835.0" width="5" height="10" rx="2.5" fill="#b3181c"/></g>
</g>
<ellipse cx="1440" cy="425" rx="38" ry="24" fill="url(#shadow)"/>
<g opacity="0.85">
<defs><linearGradient id="tg6" x1="1300" y1="228" x2="1387" y2="290" gradientUnits="userSpaceOnUse"><stop offset="0" stop-color="#6f7fa8"/><stop offset="0.5" stop-color="#8aa0b0"/><stop offset="1" stop-color="#6f7fa8"/></linearGradient><clipPath id="ctg6"><path d="M1312.0,280.0 C1317.3,274.8 1325.2,265.3 1332.0,259.0 C1338.8,252.7 1346.0,246.7 1353.0,242.0 C1360.0,237.3 1368.7,233.3 1374.0,231.0 C1379.3,228.7 1382.8,226.2 1385.0,228.0 C1387.2,229.8 1387.7,236.2 1387.0,242.0 C1386.3,247.8 1384.3,257.0 1381.0,263.0 C1377.7,269.0 1371.7,275.0 1367.0,278.0 C1362.3,281.0 1358.8,280.2 1353.0,281.0 C1347.2,281.8 1340.8,281.5 1332.0,283.0 C1323.2,284.5 1303.3,290.5 1300.0,290.0 C1296.7,289.5 1306.7,285.2 1312.0,280.0 Z"/></clipPath></defs>
<path d="M1312.0,280.0 C1317.3,274.8 1325.2,265.3 1332.0,259.0 C1338.8,252.7 1346.0,246.7 1353.0,242.0 C1360.0,237.3 1368.7,233.3 1374.0,231.0 C1379.3,228.7 1382.8,226.2 1385.0,228.0 C1387.2,229.8 1387.7,236.2 1387.0,242.0 C1386.3,247.8 1384.3,257.0 1381.0,263.0 C1377.7,269.0 1371.7,275.0 1367.0,278.0 C1362.3,281.0 1358.8,280.2 1353.0,281.0 C1347.2,281.8 1340.8,281.5 1332.0,283.0 C1323.2,284.5 1303.3,290.5 1300.0,290.0 C1296.7,289.5 1306.7,285.2 1312.0,280.0 Z" fill="url(#tg6)" stroke="#5a6090" stroke-width="1.4"/>
<g clip-path="url(#ctg6)">
<ellipse cx="1307.9" cy="238.8" rx="6.3" ry="4.4" transform="rotate(-55 1307.9 238.8)" fill="#72c8d0" opacity="0.5"/>
<ellipse cx="1376.4" cy="260.8" rx="7.9" ry="5.5" transform="rotate(-42 1376.4 260.8)" fill="#5a9ee0" opacity="0.5"/>
<ellipse cx="1361.1" cy="267.4" rx="5.0" ry="3.5" transform="rotate(28 1361.1 267.4)" fill="#4478cc" opacity="0.5"/>
<ellipse cx="1345.4" cy="243.6" rx="7.3" ry="5.1" transform="rotate(-58 1345.4 243.6)" fill="#4a86d8" opacity="0.5"/>
<ellipse cx="1375.6" cy="253.9" rx="5.3" ry="3.7" transform="rotate(-13 1375.6 253.9)" fill="#9ae4e4" opacity="0.5"/>
<ellipse cx="1350.6" cy="245.8" rx="7.9" ry="5.6" transform="rotate(10 1350.6 245.8)" fill="#a8dcf0" opacity="0.5"/>
<ellipse cx="1347.0" cy="282.6" rx="8.5" ry="5.9" transform="rotate(-44 1347.0 282.6)" fill="#9ae4e4" opacity="0.5"/>
<ellipse cx="1317.7" cy="274.4" rx="6.2" ry="4.3" transform="rotate(28 1317.7 274.4)" fill="#4a86d8" opacity="0.5"/>
<ellipse cx="1370.4" cy="266.9" rx="5.4" ry="3.8" transform="rotate(28 1370.4 266.9)" fill="#a8dcf0" opacity="0.5"/>
<path d="M1312.0,280.0 C1317.3,274.8 1325.2,265.3 1332.0,259.0 C1338.8,252.7 1346.0,246.7 1353.0,242.0 C1360.0,237.3 1368.7,233.3 1374.0,231.0 C1379.3,228.7 1382.8,226.2 1385.0,228.0 C1387.2,229.8 1387.7,236.2 1387.0,242.0 C1386.3,247.8 1384.3,257.0 1381.0,263.0 C1377.7,269.0 1371.7,275.0 1367.0,278.0 C1362.3,281.0 1358.8,280.2 1353.0,281.0 C1347.2,281.8 1340.8,281.5 1332.0,283.0 C1323.2,284.5 1303.3,290.5 1300.0,290.0 C1296.7,289.5 1306.7,285.2 1312.0,280.0 Z" fill="none" stroke="#e8ffff" stroke-width="1.9" opacity="0.55"/>
</g>
<g transform="rotate(0 1340 262)"><ellipse cx="1340" cy="262" rx="6" ry="7" fill="#3346c4" stroke="#1a1c8c" stroke-width="1.4"/><ellipse cx="1340.3" cy="262.4" rx="3.3" ry="3.9" fill="#2a30b0" opacity="0.7"/><circle cx="1338.8" cy="260.2" r="1.1" fill="#c8d8ff"/></g>
<path d="M1312.0,280.0 C1317.3,274.8 1325.2,265.3 1332.0,259.0 C1338.8,252.7 1346.0,246.7 1353.0,242.0 C1360.0,237.3 1368.7,233.3 1374.0,231.0 C1379.3,228.7 1382.8,226.2 1385.0,228.0 C1387.2,229.8 1387.7,236.2 1387.0,242.0 C1386.3,247.8 1384.3,257.0 1381.0,263.0 C1377.7,269.0 1371.7,275.0 1367.0,278.0 C1362.3,281.0 1358.8,280.2 1353.0,281.0 C1347.2,281.8 1340.8,281.5 1332.0,283.0 C1323.2,284.5 1303.3,290.5 1300.0,290.0 C1296.7,289.5 1306.7,285.2 1312.0,280.0 Z" fill="none" stroke="#ffffff" stroke-width="1.0" stroke-dasharray="7.2 4.8 2.4 11.2" opacity="0.8" transform="translate(-0.6,-0.6)"/>
</g>
<g opacity="0.85">
<defs><linearGradient id="tg7" x1="1472" y1="215" x2="1548" y2="298" gradientUnits="userSpaceOnUse"><stop offset="0" stop-color="#6f7fa8"/><stop offset="0.5" stop-color="#90a6b4"/><stop offset="1" stop-color="#6f7fa8"/></linearGradient><clipPath id="ctg7"><path d="M1472.0,228.0 C1475.3,222.5 1487.2,217.2 1493.0,215.0 C1498.8,212.8 1501.2,212.8 1507.0,215.0 C1512.8,217.2 1521.5,223.7 1528.0,228.0 C1534.5,232.3 1542.7,235.2 1546.0,241.0 C1549.3,246.8 1548.2,255.8 1548.0,263.0 C1547.8,270.2 1547.8,278.2 1545.0,284.0 C1542.2,289.8 1537.3,296.2 1531.0,298.0 C1524.7,299.8 1514.0,298.3 1507.0,295.0 C1500.0,291.7 1494.7,285.8 1489.0,278.0 C1483.3,270.2 1475.8,256.3 1473.0,248.0 C1470.2,239.7 1468.7,233.5 1472.0,228.0 Z"/></clipPath></defs>
<path d="M1472.0,228.0 C1475.3,222.5 1487.2,217.2 1493.0,215.0 C1498.8,212.8 1501.2,212.8 1507.0,215.0 C1512.8,217.2 1521.5,223.7 1528.0,228.0 C1534.5,232.3 1542.7,235.2 1546.0,241.0 C1549.3,246.8 1548.2,255.8 1548.0,263.0 C1547.8,270.2 1547.8,278.2 1545.0,284.0 C1542.2,289.8 1537.3,296.2 1531.0,298.0 C1524.7,299.8 1514.0,298.3 1507.0,295.0 C1500.0,291.7 1494.7,285.8 1489.0,278.0 C1483.3,270.2 1475.8,256.3 1473.0,248.0 C1470.2,239.7 1468.7,233.5 1472.0,228.0 Z" fill="url(#tg7)" stroke="#5a6090" stroke-width="1.4"/>
<g clip-path="url(#ctg7)">
<ellipse cx="1483.0" cy="236.5" rx="7.2" ry="5.0" transform="rotate(-0 1483.0 236.5)" fill="#5a9ee0" opacity="0.5"/>
<ellipse cx="1524.1" cy="228.6" rx="8.4" ry="5.9" transform="rotate(3 1524.1 228.6)" fill="#4a86d8" opacity="0.5"/>
<ellipse cx="1538.4" cy="283.1" rx="7.6" ry="5.3" transform="rotate(5 1538.4 283.1)" fill="#4a86d8" opacity="0.5"/>
<ellipse cx="1528.0" cy="258.2" rx="8.3" ry="5.8" transform="rotate(40 1528.0 258.2)" fill="#5a9ee0" opacity="0.5"/>
<ellipse cx="1538.9" cy="235.7" rx="5.8" ry="4.1" transform="rotate(-56 1538.9 235.7)" fill="#4a86d8" opacity="0.5"/>
<ellipse cx="1511.6" cy="272.4" rx="8.0" ry="5.6" transform="rotate(-54 1511.6 272.4)" fill="#a8dcf0" opacity="0.5"/>
<ellipse cx="1480.5" cy="246.3" rx="6.3" ry="4.4" transform="rotate(27 1480.5 246.3)" fill="#9ae4e4" opacity="0.5"/>
<ellipse cx="1509.5" cy="258.9" rx="10.3" ry="7.2" transform="rotate(8 1509.5 258.9)" fill="#9ae4e4" opacity="0.5"/>
<ellipse cx="1514.8" cy="275.3" rx="8.9" ry="6.2" transform="rotate(-25 1514.8 275.3)" fill="#5a9ee0" opacity="0.5"/>
<path d="M1483.1,267.9 q5.5,-2.2 10.5,-3.7" stroke="#f0ffff" stroke-width="1.0" fill="none" opacity="0.85" stroke-linecap="round"/>
<path d="M1522.6,276.9 q2.7,-1.1 4.7,-2.6" stroke="#f0ffff" stroke-width="1.0" fill="none" opacity="0.85" stroke-linecap="round"/>
<path d="M1488.5,290.8 q5.6,-2.2 9.3,-6.2" stroke="#f0ffff" stroke-width="1.0" fill="none" opacity="0.85" stroke-linecap="round"/>
<path d="M1494.7,260.1 q3.2,-1.3 4.8,-4.1" stroke="#f0ffff" stroke-width="1.0" fill="none" opacity="0.85" stroke-linecap="round"/>
<path d="M1515.7,255.8 q4.4,-1.8 8.8,0.3" stroke="#f0ffff" stroke-width="1.0" fill="none" opacity="0.85" stroke-linecap="round"/>
<path d="M1499.0,246.8 q4.3,-1.7 6.6,5.5" stroke="#f0ffff" stroke-width="1.0" fill="none" opacity="0.85" stroke-linecap="round"/>
<path d="M1494.0,244.1 q4.6,-1.8 8.4,-3.8" stroke="#f0ffff" stroke-width="1.0" fill="none" opacity="0.85" stroke-linecap="round"/>
<path d="M1472.0,228.0 C1475.3,222.5 1487.2,217.2 1493.0,215.0 C1498.8,212.8 1501.2,212.8 1507.0,215.0 C1512.8,217.2 1521.5,223.7 1528.0,228.0 C1534.5,232.3 1542.7,235.2 1546.0,241.0 C1549.3,246.8 1548.2,255.8 1548.0,263.0 C1547.8,270.2 1547.8,278.2 1545.0,284.0 C1542.2,289.8 1537.3,296.2 1531.0,298.0 C1524.7,299.8 1514.0,298.3 1507.0,295.0 C1500.0,291.7 1494.7,285.8 1489.0,278.0 C1483.3,270.2 1475.8,256.3 1473.0,248.0 C1470.2,239.7 1468.7,233.5 1472.0,228.0 Z" fill="none" stroke="#e8ffff" stroke-width="1.9" opacity="0.55"/>
</g>
<g transform="rotate(-10 1504 252)"><ellipse cx="1504" cy="252" rx="8.5" ry="11" fill="#3346c4" stroke="#1a1c8c" stroke-width="1.4"/><ellipse cx="1504.4" cy="252.6" rx="4.7" ry="6.1" fill="#2a30b0" opacity="0.7"/><circle cx="1502.3" cy="249.2" r="1.5" fill="#c8d8ff"/></g>
<path d="M1472.0,228.0 C1475.3,222.5 1487.2,217.2 1493.0,215.0 C1498.8,212.8 1501.2,212.8 1507.0,215.0 C1512.8,217.2 1521.5,223.7 1528.0,228.0 C1534.5,232.3 1542.7,235.2 1546.0,241.0 C1549.3,246.8 1548.2,255.8 1548.0,263.0 C1547.8,270.2 1547.8,278.2 1545.0,284.0 C1542.2,289.8 1537.3,296.2 1531.0,298.0 C1524.7,299.8 1514.0,298.3 1507.0,295.0 C1500.0,291.7 1494.7,285.8 1489.0,278.0 C1483.3,270.2 1475.8,256.3 1473.0,248.0 C1470.2,239.7 1468.7,233.5 1472.0,228.0 Z" fill="none" stroke="#ffffff" stroke-width="1.0" stroke-dasharray="7.2 4.8 2.4 11.2" opacity="0.8" transform="translate(-0.6,-0.6)"/>
</g>
<g opacity="0.75">
<defs><linearGradient id="tg8" x1="1652" y1="250" x2="1728" y2="320" gradientUnits="userSpaceOnUse"><stop offset="0" stop-color="#7a88b0"/><stop offset="0.5" stop-color="#98a8c0"/><stop offset="1" stop-color="#7a88b0"/></linearGradient><clipPath id="ctg8"><path d="M1656.0,258.0 C1659.0,252.2 1664.3,251.0 1670.0,250.0 C1675.7,249.0 1683.7,250.7 1690.0,252.0 C1696.3,253.3 1702.7,255.3 1708.0,258.0 C1713.3,260.7 1718.7,262.7 1722.0,268.0 C1725.3,273.3 1728.3,283.0 1728.0,290.0 C1727.7,297.0 1724.7,305.0 1720.0,310.0 C1715.3,315.0 1706.7,319.0 1700.0,320.0 C1693.3,321.0 1686.3,318.5 1680.0,316.0 C1673.7,313.5 1666.7,310.2 1662.0,305.0 C1657.3,299.8 1653.0,292.8 1652.0,285.0 C1651.0,277.2 1653.0,263.8 1656.0,258.0 Z"/></clipPath></defs>
<path d="M1656.0,258.0 C1659.0,252.2 1664.3,251.0 1670.0,250.0 C1675.7,249.0 1683.7,250.7 1690.0,252.0 C1696.3,253.3 1702.7,255.3 1708.0,258.0 C1713.3,260.7 1718.7,262.7 1722.0,268.0 C1725.3,273.3 1728.3,283.0 1728.0,290.0 C1727.7,297.0 1724.7,305.0 1720.0,310.0 C1715.3,315.0 1706.7,319.0 1700.0,320.0 C1693.3,321.0 1686.3,318.5 1680.0,316.0 C1673.7,313.5 1666.7,310.2 1662.0,305.0 C1657.3,299.8 1653.0,292.8 1652.0,285.0 C1651.0,277.2 1653.0,263.8 1656.0,258.0 Z" fill="url(#tg8)" stroke="#6a70a0" stroke-width="1.3"/>
<g clip-path="url(#ctg8)">
<ellipse cx="1694.5" cy="292.8" rx="9.5" ry="6.6" transform="rotate(-3 1694.5 292.8)" fill="#9ae4e4" opacity="0.5"/>
<ellipse cx="1714.3" cy="286.9" rx="7.9" ry="5.5" transform="rotate(49 1714.3 286.9)" fill="#72c8d0" opacity="0.5"/>
<ellipse cx="1718.3" cy="274.5" rx="8.7" ry="6.1" transform="rotate(-7 1718.3 274.5)" fill="#a8dcf0" opacity="0.5"/>
<ellipse cx="1718.3" cy="293.0" rx="6.6" ry="4.6" transform="rotate(2 1718.3 293.0)" fill="#9ae4e4" opacity="0.5"/>
<ellipse cx="1715.5" cy="299.3" rx="9.7" ry="6.8" transform="rotate(-9 1715.5 299.3)" fill="#72c8d0" opacity="0.5"/>
<ellipse cx="1712.1" cy="310.2" rx="8.0" ry="5.6" transform="rotate(-31 1712.1 310.2)" fill="#72c8d0" opacity="0.5"/>
<ellipse cx="1713.3" cy="274.4" rx="9.9" ry="6.9" transform="rotate(59 1713.3 274.4)" fill="#5a9ee0" opacity="0.5"/>
<ellipse cx="1662.3" cy="277.1" rx="8.6" ry="6.0" transform="rotate(2 1662.3 277.1)" fill="#5a9ee0" opacity="0.5"/>
<path d="M1656.0,258.0 C1659.0,252.2 1664.3,251.0 1670.0,250.0 C1675.7,249.0 1683.7,250.7 1690.0,252.0 C1696.3,253.3 1702.7,255.3 1708.0,258.0 C1713.3,260.7 1718.7,262.7 1722.0,268.0 C1725.3,273.3 1728.3,283.0 1728.0,290.0 C1727.7,297.0 1724.7,305.0 1720.0,310.0 C1715.3,315.0 1706.7,319.0 1700.0,320.0 C1693.3,321.0 1686.3,318.5 1680.0,316.0 C1673.7,313.5 1666.7,310.2 1662.0,305.0 C1657.3,299.8 1653.0,292.8 1652.0,285.0 C1651.0,277.2 1653.0,263.8 1656.0,258.0 Z" fill="none" stroke="#e8ffff" stroke-width="1.7" opacity="0.55"/>
</g>
<g transform="rotate(0 1693 288)"><ellipse cx="1693" cy="288" rx="5" ry="5" fill="#3346c4" stroke="#1a1c8c" stroke-width="1.3"/><ellipse cx="1693.2" cy="288.2" rx="2.8" ry="2.8" fill="#2a30b0" opacity="0.7"/><circle cx="1692.0" cy="286.8" r="0.9" fill="#c8d8ff"/></g>
<path d="M1656.0,258.0 C1659.0,252.2 1664.3,251.0 1670.0,250.0 C1675.7,249.0 1683.7,250.7 1690.0,252.0 C1696.3,253.3 1702.7,255.3 1708.0,258.0 C1713.3,260.7 1718.7,262.7 1722.0,268.0 C1725.3,273.3 1728.3,283.0 1728.0,290.0 C1727.7,297.0 1724.7,305.0 1720.0,310.0 C1715.3,315.0 1706.7,319.0 1700.0,320.0 C1693.3,321.0 1686.3,318.5 1680.0,316.0 C1673.7,313.5 1666.7,310.2 1662.0,305.0 C1657.3,299.8 1653.0,292.8 1652.0,285.0 C1651.0,277.2 1653.0,263.8 1656.0,258.0 Z" fill="none" stroke="#ffffff" stroke-width="0.8" stroke-dasharray="6.3 4.2 2.1 9.8" opacity="0.8" transform="translate(-0.6,-0.6)"/>
</g>
<g opacity="1.0">
<defs><linearGradient id="tg9" x1="1332" y1="345" x2="1446" y2="446" gradientUnits="userSpaceOnUse"><stop offset="0" stop-color="#6cbfe0"/><stop offset="0.5" stop-color="#8ad8da"/><stop offset="1" stop-color="#6cbfe0"/></linearGradient><clipPath id="ctg9"><path d="M1337.4,382.0 C1341.2,375.8 1348.9,373.0 1354.7,368.2 C1360.5,363.4 1365.8,356.9 1372.0,353.0 C1378.2,349.1 1384.9,345.9 1391.7,345.0 C1398.5,344.1 1406.2,345.6 1412.6,347.4 C1419.0,349.1 1425.0,352.2 1430.0,355.5 C1435.0,358.8 1439.9,361.6 1442.6,367.0 C1445.3,372.4 1446.0,380.6 1446.0,387.9 C1446.0,395.2 1444.7,404.3 1442.6,411.0 C1440.5,417.7 1437.5,423.5 1433.4,428.3 C1429.4,433.1 1423.7,437.1 1418.3,440.0 C1412.9,442.9 1407.7,444.9 1401.0,445.7 C1394.3,446.4 1385.6,446.1 1377.9,444.5 C1370.2,442.9 1361.5,439.7 1354.7,436.4 C1348.0,433.1 1341.2,430.1 1337.4,424.9 C1333.6,419.7 1331.6,412.3 1331.6,405.2 C1331.6,398.1 1333.6,388.2 1337.4,382.0 Z"/></clipPath></defs>
<path d="M1337.4,382.0 C1341.2,375.8 1348.9,373.0 1354.7,368.2 C1360.5,363.4 1365.8,356.9 1372.0,353.0 C1378.2,349.1 1384.9,345.9 1391.7,345.0 C1398.5,344.1 1406.2,345.6 1412.6,347.4 C1419.0,349.1 1425.0,352.2 1430.0,355.5 C1435.0,358.8 1439.9,361.6 1442.6,367.0 C1445.3,372.4 1446.0,380.6 1446.0,387.9 C1446.0,395.2 1444.7,404.3 1442.6,411.0 C1440.5,417.7 1437.5,423.5 1433.4,428.3 C1429.4,433.1 1423.7,437.1 1418.3,440.0 C1412.9,442.9 1407.7,444.9 1401.0,445.7 C1394.3,446.4 1385.6,446.1 1377.9,444.5 C1370.2,442.9 1361.5,439.7 1354.7,436.4 C1348.0,433.1 1341.2,430.1 1337.4,424.9 C1333.6,419.7 1331.6,412.3 1331.6,405.2 C1331.6,398.1 1333.6,388.2 1337.4,382.0 Z" fill="url(#tg9)" stroke="#1c3a9c" stroke-width="1.8"/>
<g clip-path="url(#ctg9)">
<ellipse cx="1391.6" cy="402.6" rx="13.8" ry="9.7" transform="rotate(46 1391.6 402.6)" fill="#4a86d8" opacity="0.5"/>
<ellipse cx="1375.8" cy="433.3" rx="10.5" ry="7.3" transform="rotate(-19 1375.8 433.3)" fill="#9ae4e4" opacity="0.5"/>
<ellipse cx="1396.9" cy="422.6" rx="7.8" ry="5.5" transform="rotate(13 1396.9 422.6)" fill="#9ae4e4" opacity="0.5"/>
<ellipse cx="1415.4" cy="416.7" rx="7.7" ry="5.4" transform="rotate(-16 1415.4 416.7)" fill="#4a86d8" opacity="0.5"/>
<ellipse cx="1411.8" cy="412.7" rx="7.5" ry="5.3" transform="rotate(52 1411.8 412.7)" fill="#a8dcf0" opacity="0.5"/>
<ellipse cx="1397.3" cy="406.9" rx="9.4" ry="6.6" transform="rotate(-34 1397.3 406.9)" fill="#9ae4e4" opacity="0.5"/>
<ellipse cx="1384.3" cy="368.2" rx="8.1" ry="5.7" transform="rotate(-13 1384.3 368.2)" fill="#72c8d0" opacity="0.5"/>
<ellipse cx="1381.5" cy="374.1" rx="13.6" ry="9.5" transform="rotate(21 1381.5 374.1)" fill="#4478cc" opacity="0.5"/>
<ellipse cx="1347.9" cy="390.7" rx="10.4" ry="7.3" transform="rotate(-26 1347.9 390.7)" fill="#4478cc" opacity="0.5"/>
<ellipse cx="1427.9" cy="420.0" rx="10.3" ry="7.2" transform="rotate(-6 1427.9 420.0)" fill="#9ae4e4" opacity="0.5"/>
<ellipse cx="1428.0" cy="397.1" rx="13.7" ry="9.6" transform="rotate(-10 1428.0 397.1)" fill="#a8dcf0" opacity="0.5"/>
<ellipse cx="1405" cy="388" rx="6" ry="5.1" fill="#3a60c8" opacity="0.75"/>
<ellipse cx="1380" cy="425" rx="6" ry="5.1" fill="#3a60c8" opacity="0.75"/>
<ellipse cx="1357" cy="405" rx="5" ry="4.2" fill="#3a60c8" opacity="0.75"/>
<path d="M1385.1,364.1 q5.4,-2.2 9.9,-4.5" stroke="#f0ffff" stroke-width="1.2" fill="none" opacity="0.85" stroke-linecap="round"/>
<path d="M1369.2,358.8 q5.5,-2.2 8.9,-6.6" stroke="#f0ffff" stroke-width="1.2" fill="none" opacity="0.85" stroke-linecap="round"/>
<path d="M1391.2,387.4 q5.2,-2.1 7.9,6.7" stroke="#f0ffff" stroke-width="1.2" fill="none" opacity="0.85" stroke-linecap="round"/>
<path d="M1370.5,398.0 q8.6,-3.4 15.8,6.9" stroke="#f0ffff" stroke-width="1.2" fill="none" opacity="0.85" stroke-linecap="round"/>
<path d="M1433.5,404.6 q8.5,-3.4 13.0,-10.9" stroke="#f0ffff" stroke-width="1.2" fill="none" opacity="0.85" stroke-linecap="round"/>
<path d="M1411.3,381.5 q5.7,-2.3 10.3,4.7" stroke="#f0ffff" stroke-width="1.2" fill="none" opacity="0.85" stroke-linecap="round"/>
<path d="M1412.0,382.0 q5.9,-2.3 11.0,-4.1" stroke="#f0ffff" stroke-width="1.2" fill="none" opacity="0.85" stroke-linecap="round"/>
<path d="M1430.5,405.1 q5.3,-2.1 10.7,0.6" stroke="#f0ffff" stroke-width="1.2" fill="none" opacity="0.85" stroke-linecap="round"/>
<path d="M1346.3,375.9 q6.6,-2.6 9.6,9.0" stroke="#f0ffff" stroke-width="1.2" fill="none" opacity="0.85" stroke-linecap="round"/>
<path d="M1337.4,382.0 C1341.2,375.8 1348.9,373.0 1354.7,368.2 C1360.5,363.4 1365.8,356.9 1372.0,353.0 C1378.2,349.1 1384.9,345.9 1391.7,345.0 C1398.5,344.1 1406.2,345.6 1412.6,347.4 C1419.0,349.1 1425.0,352.2 1430.0,355.5 C1435.0,358.8 1439.9,361.6 1442.6,367.0 C1445.3,372.4 1446.0,380.6 1446.0,387.9 C1446.0,395.2 1444.7,404.3 1442.6,411.0 C1440.5,417.7 1437.5,423.5 1433.4,428.3 C1429.4,433.1 1423.7,437.1 1418.3,440.0 C1412.9,442.9 1407.7,444.9 1401.0,445.7 C1394.3,446.4 1385.6,446.1 1377.9,444.5 C1370.2,442.9 1361.5,439.7 1354.7,436.4 C1348.0,433.1 1341.2,430.1 1337.4,424.9 C1333.6,419.7 1331.6,412.3 1331.6,405.2 C1331.6,398.1 1333.6,388.2 1337.4,382.0 Z" fill="none" stroke="#e8ffff" stroke-width="2.4" opacity="0.55"/>
</g>
<g transform="rotate(0 1382.5 398)"><ellipse cx="1382.5" cy="398" rx="12" ry="11.5" fill="#3346c4" stroke="#1a1c8c" stroke-width="1.8"/><ellipse cx="1383.1" cy="398.6" rx="6.6" ry="6.3" fill="#2a30b0" opacity="0.7"/><circle cx="1380.1" cy="395.1" r="2.1" fill="#c8d8ff"/></g>
<path d="M1337.4,382.0 C1341.2,375.8 1348.9,373.0 1354.7,368.2 C1360.5,363.4 1365.8,356.9 1372.0,353.0 C1378.2,349.1 1384.9,345.9 1391.7,345.0 C1398.5,344.1 1406.2,345.6 1412.6,347.4 C1419.0,349.1 1425.0,352.2 1430.0,355.5 C1435.0,358.8 1439.9,361.6 1442.6,367.0 C1445.3,372.4 1446.0,380.6 1446.0,387.9 C1446.0,395.2 1444.7,404.3 1442.6,411.0 C1440.5,417.7 1437.5,423.5 1433.4,428.3 C1429.4,433.1 1423.7,437.1 1418.3,440.0 C1412.9,442.9 1407.7,444.9 1401.0,445.7 C1394.3,446.4 1385.6,446.1 1377.9,444.5 C1370.2,442.9 1361.5,439.7 1354.7,436.4 C1348.0,433.1 1341.2,430.1 1337.4,424.9 C1333.6,419.7 1331.6,412.3 1331.6,405.2 C1331.6,398.1 1333.6,388.2 1337.4,382.0 Z" fill="none" stroke="#ffffff" stroke-width="1.2" stroke-dasharray="9.0 6.0 3.0 14.0" opacity="0.8" transform="translate(-0.8,-0.8)"/>
</g>
<g opacity="1.0">
<defs><linearGradient id="tg10" x1="1604" y1="429" x2="1680" y2="546" gradientUnits="userSpaceOnUse"><stop offset="0" stop-color="#4a9ee0"/><stop offset="0.5" stop-color="#66c4e0"/><stop offset="1" stop-color="#4a9ee0"/></linearGradient><clipPath id="ctg10"><path d="M1603.5,457.7 C1604.3,451.9 1606.1,443.0 1609.3,438.5 C1612.5,434.0 1617.2,432.4 1622.7,430.8 C1628.2,429.2 1635.6,427.0 1642.0,428.9 C1648.4,430.8 1655.8,436.5 1661.2,442.3 C1666.7,448.1 1671.5,457.1 1674.7,463.5 C1677.9,469.9 1679.8,474.7 1680.5,480.8 C1681.2,486.9 1679.2,492.9 1678.6,500.0 C1677.9,507.1 1677.6,516.8 1676.6,523.2 C1675.6,529.6 1676.0,534.8 1672.8,538.6 C1669.6,542.5 1662.5,546.0 1657.4,546.3 C1652.3,546.6 1646.8,544.4 1642.0,540.5 C1637.2,536.6 1632.0,529.6 1628.5,523.2 C1625.0,516.8 1623.7,508.1 1620.8,502.0 C1617.9,495.9 1613.9,491.4 1611.2,486.6 C1608.5,481.8 1605.8,477.9 1604.5,473.1 C1603.2,468.3 1602.7,463.5 1603.5,457.7 Z"/></clipPath></defs>
<path d="M1603.5,457.7 C1604.3,451.9 1606.1,443.0 1609.3,438.5 C1612.5,434.0 1617.2,432.4 1622.7,430.8 C1628.2,429.2 1635.6,427.0 1642.0,428.9 C1648.4,430.8 1655.8,436.5 1661.2,442.3 C1666.7,448.1 1671.5,457.1 1674.7,463.5 C1677.9,469.9 1679.8,474.7 1680.5,480.8 C1681.2,486.9 1679.2,492.9 1678.6,500.0 C1677.9,507.1 1677.6,516.8 1676.6,523.2 C1675.6,529.6 1676.0,534.8 1672.8,538.6 C1669.6,542.5 1662.5,546.0 1657.4,546.3 C1652.3,546.6 1646.8,544.4 1642.0,540.5 C1637.2,536.6 1632.0,529.6 1628.5,523.2 C1625.0,516.8 1623.7,508.1 1620.8,502.0 C1617.9,495.9 1613.9,491.4 1611.2,486.6 C1608.5,481.8 1605.8,477.9 1604.5,473.1 C1603.2,468.3 1602.7,463.5 1603.5,457.7 Z" fill="url(#tg10)" stroke="#1c3a9c" stroke-width="1.8"/>
<g clip-path="url(#ctg10)">
<ellipse cx="1645.1" cy="512.3" rx="10.0" ry="7.0" transform="rotate(-26 1645.1 512.3)" fill="#5a9ee0" opacity="0.5"/>
<ellipse cx="1672.1" cy="494.2" rx="10.0" ry="7.0" transform="rotate(18 1672.1 494.2)" fill="#9ae4e4" opacity="0.5"/>
<ellipse cx="1661.8" cy="529.0" rx="11.1" ry="7.8" transform="rotate(-16 1661.8 529.0)" fill="#4a86d8" opacity="0.5"/>
<ellipse cx="1671.4" cy="439.4" rx="9.8" ry="6.9" transform="rotate(28 1671.4 439.4)" fill="#9ae4e4" opacity="0.5"/>
<ellipse cx="1631.7" cy="487.2" rx="5.5" ry="3.9" transform="rotate(-51 1631.7 487.2)" fill="#9ae4e4" opacity="0.5"/>
<ellipse cx="1631.7" cy="494.0" rx="8.3" ry="5.8" transform="rotate(-50 1631.7 494.0)" fill="#9ae4e4" opacity="0.5"/>
<ellipse cx="1620.1" cy="445.9" rx="11.0" ry="7.7" transform="rotate(28 1620.1 445.9)" fill="#4478cc" opacity="0.5"/>
<ellipse cx="1638.2" cy="518.7" rx="7.4" ry="5.2" transform="rotate(-13 1638.2 518.7)" fill="#4478cc" opacity="0.5"/>
<ellipse cx="1626.8" cy="496.9" rx="11.3" ry="7.9" transform="rotate(7 1626.8 496.9)" fill="#4478cc" opacity="0.5"/>
<ellipse cx="1612.6" cy="519.8" rx="6.1" ry="4.3" transform="rotate(6 1612.6 519.8)" fill="#9ae4e4" opacity="0.5"/>
<ellipse cx="1616.0" cy="475.5" rx="10.6" ry="7.5" transform="rotate(-14 1616.0 475.5)" fill="#a8dcf0" opacity="0.5"/>
<ellipse cx="1622" cy="450" rx="2.5" ry="2.1" fill="#3a60c8" opacity="0.75"/>
<ellipse cx="1636" cy="446" rx="2.5" ry="2.1" fill="#3a60c8" opacity="0.75"/>
<ellipse cx="1650" cy="455" rx="3" ry="2.5" fill="#3a60c8" opacity="0.75"/>
<ellipse cx="1628" cy="470" rx="2.5" ry="2.1" fill="#3a60c8" opacity="0.75"/>
<ellipse cx="1660" cy="470" rx="3" ry="2.5" fill="#3a60c8" opacity="0.75"/>
<ellipse cx="1640" cy="520" rx="3" ry="2.5" fill="#3a60c8" opacity="0.75"/>
<ellipse cx="1662" cy="525" rx="3.5" ry="3.0" fill="#3a60c8" opacity="0.75"/>
<ellipse cx="1655" cy="510" rx="2.5" ry="2.1" fill="#3a60c8" opacity="0.75"/>
<path d="M1610.2,528.0 q5.2,-2.1 9.6,-4.1" stroke="#f0ffff" stroke-width="1.2" fill="none" opacity="0.85" stroke-linecap="round"/>
<path d="M1647.1,455.4 q6.0,-2.4 9.4,-7.5" stroke="#f0ffff" stroke-width="1.2" fill="none" opacity="0.85" stroke-linecap="round"/>
<path d="M1617.2,507.3 q2.8,-1.1 5.3,1.7" stroke="#f0ffff" stroke-width="1.2" fill="none" opacity="0.85" stroke-linecap="round"/>
<path d="M1641.1,499.1 q5.0,-2.0 10.0,0.1" stroke="#f0ffff" stroke-width="1.2" fill="none" opacity="0.85" stroke-linecap="round"/>
<path d="M1658.2,520.3 q4.5,-1.8 9.0,0.7" stroke="#f0ffff" stroke-width="1.2" fill="none" opacity="0.85" stroke-linecap="round"/>
<path d="M1657.5,518.3 q5.1,-2.0 8.9,5.1" stroke="#f0ffff" stroke-width="1.2" fill="none" opacity="0.85" stroke-linecap="round"/>
<path d="M1657.3,465.5 q4.4,-1.8 8.6,-2.2" stroke="#f0ffff" stroke-width="1.2" fill="none" opacity="0.85" stroke-linecap="round"/>
<path d="M1640.9,487.2 q5.1,-2.0 9.8,-2.5" stroke="#f0ffff" stroke-width="1.2" fill="none" opacity="0.85" stroke-linecap="round"/>
<path d="M1645.0,497.4 q5.6,-2.2 10.5,4.1" stroke="#f0ffff" stroke-width="1.2" fill="none" opacity="0.85" stroke-linecap="round"/>
<path d="M1603.5,457.7 C1604.3,451.9 1606.1,443.0 1609.3,438.5 C1612.5,434.0 1617.2,432.4 1622.7,430.8 C1628.2,429.2 1635.6,427.0 1642.0,428.9 C1648.4,430.8 1655.8,436.5 1661.2,442.3 C1666.7,448.1 1671.5,457.1 1674.7,463.5 C1677.9,469.9 1679.8,474.7 1680.5,480.8 C1681.2,486.9 1679.2,492.9 1678.6,500.0 C1677.9,507.1 1677.6,516.8 1676.6,523.2 C1675.6,529.6 1676.0,534.8 1672.8,538.6 C1669.6,542.5 1662.5,546.0 1657.4,546.3 C1652.3,546.6 1646.8,544.4 1642.0,540.5 C1637.2,536.6 1632.0,529.6 1628.5,523.2 C1625.0,516.8 1623.7,508.1 1620.8,502.0 C1617.9,495.9 1613.9,491.4 1611.2,486.6 C1608.5,481.8 1605.8,477.9 1604.5,473.1 C1603.2,468.3 1602.7,463.5 1603.5,457.7 Z" fill="none" stroke="#e8ffff" stroke-width="2.4" opacity="0.55"/>
</g>
<g transform="rotate(0 1646 494)"><ellipse cx="1646" cy="494" rx="12" ry="13" fill="#3346c4" stroke="#1a1c8c" stroke-width="1.8"/><ellipse cx="1646.6" cy="494.6" rx="6.6" ry="7.2" fill="#2a30b0" opacity="0.7"/><circle cx="1643.6" cy="490.8" r="2.2" fill="#c8d8ff"/></g>
<path d="M1603.5,457.7 C1604.3,451.9 1606.1,443.0 1609.3,438.5 C1612.5,434.0 1617.2,432.4 1622.7,430.8 C1628.2,429.2 1635.6,427.0 1642.0,428.9 C1648.4,430.8 1655.8,436.5 1661.2,442.3 C1666.7,448.1 1671.5,457.1 1674.7,463.5 C1677.9,469.9 1679.8,474.7 1680.5,480.8 C1681.2,486.9 1679.2,492.9 1678.6,500.0 C1677.9,507.1 1677.6,516.8 1676.6,523.2 C1675.6,529.6 1676.0,534.8 1672.8,538.6 C1669.6,542.5 1662.5,546.0 1657.4,546.3 C1652.3,546.6 1646.8,544.4 1642.0,540.5 C1637.2,536.6 1632.0,529.6 1628.5,523.2 C1625.0,516.8 1623.7,508.1 1620.8,502.0 C1617.9,495.9 1613.9,491.4 1611.2,486.6 C1608.5,481.8 1605.8,477.9 1604.5,473.1 C1603.2,468.3 1602.7,463.5 1603.5,457.7 Z" fill="none" stroke="#ffffff" stroke-width="1.2" stroke-dasharray="9.0 6.0 3.0 14.0" opacity="0.8" transform="translate(-0.8,-0.8)"/>
</g>
<g opacity="1.0">
<defs><linearGradient id="tg11" x1="1630" y1="587" x2="1693" y2="725" gradientUnits="userSpaceOnUse"><stop offset="0" stop-color="#4a9ee0"/><stop offset="0.5" stop-color="#66c4e0"/><stop offset="1" stop-color="#4a9ee0"/></linearGradient><clipPath id="ctg11"><path d="M1632.0,603.0 C1635.0,595.2 1642.2,590.7 1648.0,588.0 C1653.8,585.3 1662.2,584.5 1667.0,587.0 C1671.8,589.5 1673.5,595.0 1677.0,603.0 C1680.5,611.0 1685.3,624.3 1688.0,635.0 C1690.7,645.7 1692.5,656.2 1693.0,667.0 C1693.5,677.8 1692.3,692.5 1691.0,700.0 C1689.7,707.5 1688.2,708.7 1685.0,712.0 C1681.8,715.3 1677.3,717.8 1672.0,720.0 C1666.7,722.2 1657.8,725.8 1653.0,725.0 C1648.2,724.2 1645.7,720.3 1643.0,715.0 C1640.3,709.7 1638.8,701.0 1637.0,693.0 C1635.2,685.0 1633.2,676.7 1632.0,667.0 C1630.8,657.3 1630.0,645.7 1630.0,635.0 C1630.0,624.3 1629.0,610.8 1632.0,603.0 Z"/></clipPath></defs>
<path d="M1632.0,603.0 C1635.0,595.2 1642.2,590.7 1648.0,588.0 C1653.8,585.3 1662.2,584.5 1667.0,587.0 C1671.8,589.5 1673.5,595.0 1677.0,603.0 C1680.5,611.0 1685.3,624.3 1688.0,635.0 C1690.7,645.7 1692.5,656.2 1693.0,667.0 C1693.5,677.8 1692.3,692.5 1691.0,700.0 C1689.7,707.5 1688.2,708.7 1685.0,712.0 C1681.8,715.3 1677.3,717.8 1672.0,720.0 C1666.7,722.2 1657.8,725.8 1653.0,725.0 C1648.2,724.2 1645.7,720.3 1643.0,715.0 C1640.3,709.7 1638.8,701.0 1637.0,693.0 C1635.2,685.0 1633.2,676.7 1632.0,667.0 C1630.8,657.3 1630.0,645.7 1630.0,635.0 C1630.0,624.3 1629.0,610.8 1632.0,603.0 Z" fill="url(#tg11)" stroke="#1c3a9c" stroke-width="1.8"/>
<g clip-path="url(#ctg11)">
<ellipse cx="1652.4" cy="712.0" rx="9.2" ry="6.5" transform="rotate(45 1652.4 712.0)" fill="#9ae4e4" opacity="0.5"/>
<ellipse cx="1635.1" cy="670.7" rx="5.7" ry="4.0" transform="rotate(18 1635.1 670.7)" fill="#72c8d0" opacity="0.5"/>
<ellipse cx="1654.3" cy="629.1" rx="4.8" ry="3.4" transform="rotate(39 1654.3 629.1)" fill="#a8dcf0" opacity="0.5"/>
<ellipse cx="1687.0" cy="638.1" rx="8.5" ry="5.9" transform="rotate(-13 1687.0 638.1)" fill="#5a9ee0" opacity="0.5"/>
<ellipse cx="1641.6" cy="655.7" rx="8.3" ry="5.8" transform="rotate(-25 1641.6 655.7)" fill="#4478cc" opacity="0.5"/>
<ellipse cx="1661.1" cy="666.8" rx="8.0" ry="5.6" transform="rotate(-40 1661.1 666.8)" fill="#4478cc" opacity="0.5"/>
<ellipse cx="1666.5" cy="642.7" rx="9.4" ry="6.6" transform="rotate(31 1666.5 642.7)" fill="#5a9ee0" opacity="0.5"/>
<ellipse cx="1646.6" cy="702.0" rx="8.5" ry="5.9" transform="rotate(52 1646.6 702.0)" fill="#a8dcf0" opacity="0.5"/>
<ellipse cx="1673.5" cy="685.3" rx="5.7" ry="4.0" transform="rotate(-32 1673.5 685.3)" fill="#4a86d8" opacity="0.5"/>
<ellipse cx="1661.9" cy="673.4" rx="5.9" ry="4.1" transform="rotate(-50 1661.9 673.4)" fill="#72c8d0" opacity="0.5"/>
<ellipse cx="1647.5" cy="621.6" rx="5.3" ry="3.7" transform="rotate(27 1647.5 621.6)" fill="#4a86d8" opacity="0.5"/>
<ellipse cx="1645" cy="615" rx="3" ry="2.5" fill="#3a60c8" opacity="0.75"/>
<ellipse cx="1668" cy="625" rx="3.5" ry="3.0" fill="#3a60c8" opacity="0.75"/>
<ellipse cx="1650" cy="645" rx="3" ry="2.5" fill="#3a60c8" opacity="0.75"/>
<ellipse cx="1675" cy="660" rx="3" ry="2.5" fill="#3a60c8" opacity="0.75"/>
<path d="M1687.7,648.3 q4.2,-1.7 6.0,-5.9" stroke="#f0ffff" stroke-width="1.2" fill="none" opacity="0.85" stroke-linecap="round"/>
<path d="M1655.2,654.7 q3.7,-1.5 5.7,4.8" stroke="#f0ffff" stroke-width="1.2" fill="none" opacity="0.85" stroke-linecap="round"/>
<path d="M1648.5,609.5 q3.5,-1.4 6.3,-3.0" stroke="#f0ffff" stroke-width="1.2" fill="none" opacity="0.85" stroke-linecap="round"/>
<path d="M1673.4,709.2 q4.4,-1.8 7.0,5.4" stroke="#f0ffff" stroke-width="1.2" fill="none" opacity="0.85" stroke-linecap="round"/>
<path d="M1644.6,672.3 q3.5,-1.4 6.3,3.2" stroke="#f0ffff" stroke-width="1.2" fill="none" opacity="0.85" stroke-linecap="round"/>
<path d="M1682.1,632.2 q3.7,-1.5 7.1,2.2" stroke="#f0ffff" stroke-width="1.2" fill="none" opacity="0.85" stroke-linecap="round"/>
<path d="M1685.4,605.0 q2.3,-0.9 4.3,1.7" stroke="#f0ffff" stroke-width="1.2" fill="none" opacity="0.85" stroke-linecap="round"/>
<path d="M1654.9,611.7 q3.4,-1.3 5.9,-3.2" stroke="#f0ffff" stroke-width="1.2" fill="none" opacity="0.85" stroke-linecap="round"/>
<path d="M1652.2,699.7 q2.8,-1.1 5.2,-1.9" stroke="#f0ffff" stroke-width="1.2" fill="none" opacity="0.85" stroke-linecap="round"/>
<path d="M1632.0,603.0 C1635.0,595.2 1642.2,590.7 1648.0,588.0 C1653.8,585.3 1662.2,584.5 1667.0,587.0 C1671.8,589.5 1673.5,595.0 1677.0,603.0 C1680.5,611.0 1685.3,624.3 1688.0,635.0 C1690.7,645.7 1692.5,656.2 1693.0,667.0 C1693.5,677.8 1692.3,692.5 1691.0,700.0 C1689.7,707.5 1688.2,708.7 1685.0,712.0 C1681.8,715.3 1677.3,717.8 1672.0,720.0 C1666.7,722.2 1657.8,725.8 1653.0,725.0 C1648.2,724.2 1645.7,720.3 1643.0,715.0 C1640.3,709.7 1638.8,701.0 1637.0,693.0 C1635.2,685.0 1633.2,676.7 1632.0,667.0 C1630.8,657.3 1630.0,645.7 1630.0,635.0 C1630.0,624.3 1629.0,610.8 1632.0,603.0 Z" fill="none" stroke="#e8ffff" stroke-width="2.4" opacity="0.55"/>
</g>
<g transform="rotate(0 1659 683)"><ellipse cx="1659" cy="683" rx="11" ry="12" fill="#3346c4" stroke="#1a1c8c" stroke-width="1.8"/><ellipse cx="1659.5" cy="683.6" rx="6.1" ry="6.6" fill="#2a30b0" opacity="0.7"/><circle cx="1656.8" cy="680.0" r="2.0" fill="#c8d8ff"/></g>
<path d="M1632.0,603.0 C1635.0,595.2 1642.2,590.7 1648.0,588.0 C1653.8,585.3 1662.2,584.5 1667.0,587.0 C1671.8,589.5 1673.5,595.0 1677.0,603.0 C1680.5,611.0 1685.3,624.3 1688.0,635.0 C1690.7,645.7 1692.5,656.2 1693.0,667.0 C1693.5,677.8 1692.3,692.5 1691.0,700.0 C1689.7,707.5 1688.2,708.7 1685.0,712.0 C1681.8,715.3 1677.3,717.8 1672.0,720.0 C1666.7,722.2 1657.8,725.8 1653.0,725.0 C1648.2,724.2 1645.7,720.3 1643.0,715.0 C1640.3,709.7 1638.8,701.0 1637.0,693.0 C1635.2,685.0 1633.2,676.7 1632.0,667.0 C1630.8,657.3 1630.0,645.7 1630.0,635.0 C1630.0,624.3 1629.0,610.8 1632.0,603.0 Z" fill="none" stroke="#ffffff" stroke-width="1.2" stroke-dasharray="9.0 6.0 3.0 14.0" opacity="0.8" transform="translate(-0.8,-0.8)"/>
</g>
<g opacity="1.0">
<defs><linearGradient id="tg12" x1="1747" y1="675" x2="1848" y2="771" gradientUnits="userSpaceOnUse"><stop offset="0" stop-color="#5ab0e2"/><stop offset="0.5" stop-color="#70d0d6"/><stop offset="1" stop-color="#5ab0e2"/></linearGradient><clipPath id="ctg12"><path d="M1746.8,706.7 C1749.0,699.6 1757.5,688.0 1762.8,682.7 C1768.1,677.4 1770.3,676.0 1778.8,674.7 C1787.2,673.4 1805.0,673.8 1813.5,674.7 C1822.0,675.6 1824.6,675.5 1829.5,680.0 C1834.4,684.5 1839.8,693.4 1842.9,701.4 C1846.0,709.4 1848.7,720.5 1848.2,728.0 C1847.8,735.5 1844.2,741.4 1840.2,746.7 C1836.2,752.0 1830.9,756.0 1824.2,760.0 C1817.5,764.0 1807.8,769.9 1800.2,770.8 C1792.6,771.7 1785.9,769.4 1778.8,765.4 C1771.7,761.4 1762.4,753.4 1757.5,746.7 C1752.6,740.0 1751.3,732.1 1749.5,725.4 C1747.7,718.7 1744.6,713.8 1746.8,706.7 Z"/></clipPath></defs>
<path d="M1746.8,706.7 C1749.0,699.6 1757.5,688.0 1762.8,682.7 C1768.1,677.4 1770.3,676.0 1778.8,674.7 C1787.2,673.4 1805.0,673.8 1813.5,674.7 C1822.0,675.6 1824.6,675.5 1829.5,680.0 C1834.4,684.5 1839.8,693.4 1842.9,701.4 C1846.0,709.4 1848.7,720.5 1848.2,728.0 C1847.8,735.5 1844.2,741.4 1840.2,746.7 C1836.2,752.0 1830.9,756.0 1824.2,760.0 C1817.5,764.0 1807.8,769.9 1800.2,770.8 C1792.6,771.7 1785.9,769.4 1778.8,765.4 C1771.7,761.4 1762.4,753.4 1757.5,746.7 C1752.6,740.0 1751.3,732.1 1749.5,725.4 C1747.7,718.7 1744.6,713.8 1746.8,706.7 Z" fill="url(#tg12)" stroke="#1c3a9c" stroke-width="2.0"/>
<g clip-path="url(#ctg12)">
<ellipse cx="1813.0" cy="689.8" rx="11.5" ry="8.0" transform="rotate(40 1813.0 689.8)" fill="#72c8d0" opacity="0.5"/>
<ellipse cx="1798.8" cy="733.3" rx="9.6" ry="6.7" transform="rotate(35 1798.8 733.3)" fill="#4478cc" opacity="0.5"/>
<ellipse cx="1838.6" cy="719.3" rx="12.8" ry="9.0" transform="rotate(57 1838.6 719.3)" fill="#a8dcf0" opacity="0.5"/>
<ellipse cx="1791.0" cy="694.0" rx="12.9" ry="9.0" transform="rotate(-49 1791.0 694.0)" fill="#4a86d8" opacity="0.5"/>
<ellipse cx="1761.3" cy="705.7" rx="9.5" ry="6.7" transform="rotate(-8 1761.3 705.7)" fill="#72c8d0" opacity="0.5"/>
<ellipse cx="1805.0" cy="711.9" rx="12.1" ry="8.5" transform="rotate(37 1805.0 711.9)" fill="#4a86d8" opacity="0.5"/>
<ellipse cx="1807.7" cy="723.2" rx="7.2" ry="5.0" transform="rotate(19 1807.7 723.2)" fill="#4a86d8" opacity="0.5"/>
<ellipse cx="1832.4" cy="687.9" rx="11.2" ry="7.8" transform="rotate(-21 1832.4 687.9)" fill="#4a86d8" opacity="0.5"/>
<ellipse cx="1799.8" cy="748.7" rx="6.9" ry="4.8" transform="rotate(48 1799.8 748.7)" fill="#4a86d8" opacity="0.5"/>
<ellipse cx="1773.5" cy="740.4" rx="12.1" ry="8.5" transform="rotate(18 1773.5 740.4)" fill="#4478cc" opacity="0.5"/>
<ellipse cx="1780.6" cy="685.8" rx="8.8" ry="6.2" transform="rotate(-2 1780.6 685.8)" fill="#5a9ee0" opacity="0.5"/>
<ellipse cx="1815" cy="700" rx="6" ry="5.1" fill="#3a60c8" opacity="0.75"/>
<ellipse cx="1825" cy="735" rx="6" ry="5.1" fill="#3a60c8" opacity="0.75"/>
<ellipse cx="1790" cy="750" rx="6" ry="5.1" fill="#3a60c8" opacity="0.75"/>
<path d="M1773.1,732.3 q3.8,-1.5 7.5,-0.6" stroke="#f0ffff" stroke-width="1.3" fill="none" opacity="0.85" stroke-linecap="round"/>
<path d="M1802.3,682.6 q6.5,-2.6 10.3,-8.0" stroke="#f0ffff" stroke-width="1.3" fill="none" opacity="0.85" stroke-linecap="round"/>
<path d="M1810.3,709.9 q3.7,-1.5 5.1,5.3" stroke="#f0ffff" stroke-width="1.3" fill="none" opacity="0.85" stroke-linecap="round"/>
<path d="M1760.4,695.0 q5.9,-2.3 10.8,-4.6" stroke="#f0ffff" stroke-width="1.3" fill="none" opacity="0.85" stroke-linecap="round"/>
<path d="M1800.1,720.7 q6.2,-2.5 12.3,0.9" stroke="#f0ffff" stroke-width="1.3" fill="none" opacity="0.85" stroke-linecap="round"/>
<path d="M1780.0,699.5 q6.7,-2.7 13.3,-1.5" stroke="#f0ffff" stroke-width="1.3" fill="none" opacity="0.85" stroke-linecap="round"/>
<path d="M1799.2,756.3 q3.6,-1.4 6.7,-2.5" stroke="#f0ffff" stroke-width="1.3" fill="none" opacity="0.85" stroke-linecap="round"/>
<path d="M1802.9,686.7 q7.0,-2.8 13.8,-2.2" stroke="#f0ffff" stroke-width="1.3" fill="none" opacity="0.85" stroke-linecap="round"/>
<path d="M1781.9,698.1 q8.0,-3.2 11.9,-10.6" stroke="#f0ffff" stroke-width="1.3" fill="none" opacity="0.85" stroke-linecap="round"/>
<path d="M1746.8,706.7 C1749.0,699.6 1757.5,688.0 1762.8,682.7 C1768.1,677.4 1770.3,676.0 1778.8,674.7 C1787.2,673.4 1805.0,673.8 1813.5,674.7 C1822.0,675.6 1824.6,675.5 1829.5,680.0 C1834.4,684.5 1839.8,693.4 1842.9,701.4 C1846.0,709.4 1848.7,720.5 1848.2,728.0 C1847.8,735.5 1844.2,741.4 1840.2,746.7 C1836.2,752.0 1830.9,756.0 1824.2,760.0 C1817.5,764.0 1807.8,769.9 1800.2,770.8 C1792.6,771.7 1785.9,769.4 1778.8,765.4 C1771.7,761.4 1762.4,753.4 1757.5,746.7 C1752.6,740.0 1751.3,732.1 1749.5,725.4 C1747.7,718.7 1744.6,713.8 1746.8,706.7 Z" fill="none" stroke="#e8ffff" stroke-width="2.6" opacity="0.55"/>
</g>
<g transform="rotate(-10 1784 715)"><ellipse cx="1784" cy="715" rx="13" ry="12" fill="#3346c4" stroke="#1a1c8c" stroke-width="2.0"/><ellipse cx="1784.7" cy="715.6" rx="7.2" ry="6.6" fill="#2a30b0" opacity="0.7"/><circle cx="1781.4" cy="712.0" r="2.2" fill="#c8d8ff"/></g>
<path d="M1746.8,706.7 C1749.0,699.6 1757.5,688.0 1762.8,682.7 C1768.1,677.4 1770.3,676.0 1778.8,674.7 C1787.2,673.4 1805.0,673.8 1813.5,674.7 C1822.0,675.6 1824.6,675.5 1829.5,680.0 C1834.4,684.5 1839.8,693.4 1842.9,701.4 C1846.0,709.4 1848.7,720.5 1848.2,728.0 C1847.8,735.5 1844.2,741.4 1840.2,746.7 C1836.2,752.0 1830.9,756.0 1824.2,760.0 C1817.5,764.0 1807.8,769.9 1800.2,770.8 C1792.6,771.7 1785.9,769.4 1778.8,765.4 C1771.7,761.4 1762.4,753.4 1757.5,746.7 C1752.6,740.0 1751.3,732.1 1749.5,725.4 C1747.7,718.7 1744.6,713.8 1746.8,706.7 Z" fill="none" stroke="#ffffff" stroke-width="1.3" stroke-dasharray="9.9 6.6 3.3 15.4" opacity="0.8" transform="translate(-0.9,-0.9)"/>
</g>
<g opacity="1.0">
<defs><linearGradient id="tg13" x1="1592" y1="792" x2="1704" y2="900" gradientUnits="userSpaceOnUse"><stop offset="0" stop-color="#5ab0e2"/><stop offset="0.5" stop-color="#70d0d6"/><stop offset="1" stop-color="#5ab0e2"/></linearGradient><clipPath id="ctg13"><path d="M1592.0,840.0 C1592.4,832.4 1596.4,820.9 1600.0,813.4 C1603.6,805.9 1606.7,798.4 1613.4,794.8 C1620.1,791.2 1630.2,792.2 1640.0,792.0 C1649.8,791.8 1664.4,791.2 1672.0,793.4 C1679.6,795.6 1681.8,799.8 1685.4,805.4 C1689.0,811.0 1690.3,816.6 1693.4,826.8 C1696.5,837.0 1703.1,857.0 1704.0,866.8 C1704.9,876.6 1703.7,881.0 1698.8,885.5 C1693.9,890.0 1683.6,891.0 1674.7,893.5 C1665.8,896.0 1653.4,900.2 1645.4,900.2 C1637.4,900.2 1632.0,897.7 1626.7,893.5 C1621.4,889.3 1618.3,880.6 1613.4,874.8 C1608.5,869.0 1601.0,864.6 1597.4,858.8 C1593.8,853.0 1591.6,847.6 1592.0,840.0 Z"/></clipPath></defs>
<path d="M1592.0,840.0 C1592.4,832.4 1596.4,820.9 1600.0,813.4 C1603.6,805.9 1606.7,798.4 1613.4,794.8 C1620.1,791.2 1630.2,792.2 1640.0,792.0 C1649.8,791.8 1664.4,791.2 1672.0,793.4 C1679.6,795.6 1681.8,799.8 1685.4,805.4 C1689.0,811.0 1690.3,816.6 1693.4,826.8 C1696.5,837.0 1703.1,857.0 1704.0,866.8 C1704.9,876.6 1703.7,881.0 1698.8,885.5 C1693.9,890.0 1683.6,891.0 1674.7,893.5 C1665.8,896.0 1653.4,900.2 1645.4,900.2 C1637.4,900.2 1632.0,897.7 1626.7,893.5 C1621.4,889.3 1618.3,880.6 1613.4,874.8 C1608.5,869.0 1601.0,864.6 1597.4,858.8 C1593.8,853.0 1591.6,847.6 1592.0,840.0 Z" fill="url(#tg13)" stroke="#1c3a9c" stroke-width="2.0"/>
<g clip-path="url(#ctg13)">
<ellipse cx="1661.1" cy="839.6" rx="13.8" ry="9.7" transform="rotate(-16 1661.1 839.6)" fill="#4a86d8" opacity="0.5"/>
<ellipse cx="1644.6" cy="804.6" rx="13.3" ry="9.3" transform="rotate(-19 1644.6 804.6)" fill="#4478cc" opacity="0.5"/>
<ellipse cx="1626.1" cy="830.6" rx="13.9" ry="9.7" transform="rotate(59 1626.1 830.6)" fill="#a8dcf0" opacity="0.5"/>
<ellipse cx="1672.8" cy="837.1" rx="15.7" ry="11.0" transform="rotate(3 1672.8 837.1)" fill="#4a86d8" opacity="0.5"/>
<ellipse cx="1614.2" cy="848.5" rx="7.7" ry="5.4" transform="rotate(27 1614.2 848.5)" fill="#9ae4e4" opacity="0.5"/>
<ellipse cx="1686.5" cy="879.1" rx="16.2" ry="11.3" transform="rotate(-57 1686.5 879.1)" fill="#4478cc" opacity="0.5"/>
<ellipse cx="1645.7" cy="823.4" rx="14.0" ry="9.8" transform="rotate(-50 1645.7 823.4)" fill="#a8dcf0" opacity="0.5"/>
<ellipse cx="1673.6" cy="827.3" rx="9.2" ry="6.4" transform="rotate(49 1673.6 827.3)" fill="#a8dcf0" opacity="0.5"/>
<ellipse cx="1646.9" cy="858.5" rx="9.1" ry="6.4" transform="rotate(23 1646.9 858.5)" fill="#9ae4e4" opacity="0.5"/>
<ellipse cx="1616.4" cy="834.5" rx="9.6" ry="6.8" transform="rotate(8 1616.4 834.5)" fill="#72c8d0" opacity="0.5"/>
<ellipse cx="1629.6" cy="890.8" rx="8.8" ry="6.2" transform="rotate(48 1629.6 890.8)" fill="#a8dcf0" opacity="0.5"/>
<ellipse cx="1668" cy="812" rx="6" ry="5.1" fill="#3a60c8" opacity="0.75"/>
<ellipse cx="1680" cy="870" rx="6" ry="5.1" fill="#3a60c8" opacity="0.75"/>
<ellipse cx="1614" cy="830" rx="5" ry="4.2" fill="#3a60c8" opacity="0.75"/>
<path d="M1623.5,833.7 q4.3,-1.7 6.7,5.3" stroke="#f0ffff" stroke-width="1.3" fill="none" opacity="0.85" stroke-linecap="round"/>
<path d="M1693.8,876.0 q7.6,-3.1 12.1,9.3" stroke="#f0ffff" stroke-width="1.3" fill="none" opacity="0.85" stroke-linecap="round"/>
<path d="M1682.9,853.9 q4.1,-1.6 8.1,-1.6" stroke="#f0ffff" stroke-width="1.3" fill="none" opacity="0.85" stroke-linecap="round"/>
<path d="M1665.4,885.0 q4.2,-1.7 8.4,1.3" stroke="#f0ffff" stroke-width="1.3" fill="none" opacity="0.85" stroke-linecap="round"/>
<path d="M1605.3,840.9 q4.0,-1.6 7.7,-1.6" stroke="#f0ffff" stroke-width="1.3" fill="none" opacity="0.85" stroke-linecap="round"/>
<path d="M1686.1,879.9 q8.2,-3.3 15.8,4.6" stroke="#f0ffff" stroke-width="1.3" fill="none" opacity="0.85" stroke-linecap="round"/>
<path d="M1669.7,818.5 q5.6,-2.3 10.4,-4.4" stroke="#f0ffff" stroke-width="1.3" fill="none" opacity="0.85" stroke-linecap="round"/>
<path d="M1670.0,870.9 q6.2,-2.5 12.5,0.9" stroke="#f0ffff" stroke-width="1.3" fill="none" opacity="0.85" stroke-linecap="round"/>
<path d="M1694.2,826.4 q4.6,-1.8 8.0,-4.4" stroke="#f0ffff" stroke-width="1.3" fill="none" opacity="0.85" stroke-linecap="round"/>
<path d="M1592.0,840.0 C1592.4,832.4 1596.4,820.9 1600.0,813.4 C1603.6,805.9 1606.7,798.4 1613.4,794.8 C1620.1,791.2 1630.2,792.2 1640.0,792.0 C1649.8,791.8 1664.4,791.2 1672.0,793.4 C1679.6,795.6 1681.8,799.8 1685.4,805.4 C1689.0,811.0 1690.3,816.6 1693.4,826.8 C1696.5,837.0 1703.1,857.0 1704.0,866.8 C1704.9,876.6 1703.7,881.0 1698.8,885.5 C1693.9,890.0 1683.6,891.0 1674.7,893.5 C1665.8,896.0 1653.4,900.2 1645.4,900.2 C1637.4,900.2 1632.0,897.7 1626.7,893.5 C1621.4,889.3 1618.3,880.6 1613.4,874.8 C1608.5,869.0 1601.0,864.6 1597.4,858.8 C1593.8,853.0 1591.6,847.6 1592.0,840.0 Z" fill="none" stroke="#e8ffff" stroke-width="2.6" opacity="0.55"/>
</g>
<g transform="rotate(-10 1648 843)"><ellipse cx="1648" cy="843" rx="14" ry="13" fill="#3346c4" stroke="#1a1c8c" stroke-width="2.0"/><ellipse cx="1648.7" cy="843.6" rx="7.7" ry="7.2" fill="#2a30b0" opacity="0.7"/><circle cx="1645.2" cy="839.8" r="2.3" fill="#c8d8ff"/></g>
<path d="M1592.0,840.0 C1592.4,832.4 1596.4,820.9 1600.0,813.4 C1603.6,805.9 1606.7,798.4 1613.4,794.8 C1620.1,791.2 1630.2,792.2 1640.0,792.0 C1649.8,791.8 1664.4,791.2 1672.0,793.4 C1679.6,795.6 1681.8,799.8 1685.4,805.4 C1689.0,811.0 1690.3,816.6 1693.4,826.8 C1696.5,837.0 1703.1,857.0 1704.0,866.8 C1704.9,876.6 1703.7,881.0 1698.8,885.5 C1693.9,890.0 1683.6,891.0 1674.7,893.5 C1665.8,896.0 1653.4,900.2 1645.4,900.2 C1637.4,900.2 1632.0,897.7 1626.7,893.5 C1621.4,889.3 1618.3,880.6 1613.4,874.8 C1608.5,869.0 1601.0,864.6 1597.4,858.8 C1593.8,853.0 1591.6,847.6 1592.0,840.0 Z" fill="none" stroke="#ffffff" stroke-width="1.3" stroke-dasharray="9.9 6.6 3.3 15.4" opacity="0.8" transform="translate(-0.9,-0.9)"/>
</g>
<path d="M1684,480 C1692,500 1690,530 1680,560 M1690,590 C1700,620 1700,680 1694,720" stroke="#ffffff" stroke-width="1.6" stroke-dasharray="4 5" fill="none" opacity="0.85"/>
<path d="M1220.7,411.4 A374.5,374.5 0 0 1 1917.3,411.4" fill="none" stroke="#2a1020" stroke-width="3.2" opacity="0.75"/>
</g>
<rect x="1559.5" y="174" width="11" height="752" fill="#3a1a2a" opacity="0.35"/>
<rect x="1561" y="168" width="8" height="764" fill="#ffffff"/>
<text x="1412.3" y="323" text-anchor="middle" fill="#fff6fa" stroke="#3a1026" stroke-width="0.8" paint-order="stroke" font-size="29.5" textLength="119" lengthAdjust="spacingAndGlyphs">Diarrhea</text>
<text x="1726.2" y="374.5" text-anchor="middle" fill="#fff6fa" stroke="#3a1026" stroke-width="0.8" paint-order="stroke" font-size="29.5" textLength="201" lengthAdjust="spacingAndGlyphs">Invasive colitis</text>
<path d="M602.0,193.6 C608.3,191.9 629.2,185.8 639.6,183.7 C650.0,181.6 657.2,181.4 664.5,181.2 C671.8,181.0 677.0,180.8 683.2,182.4 C689.5,184.0 696.8,186.8 702.0,191.0 C707.2,195.2 710.7,201.1 714.4,207.3 C718.1,213.6 721.6,220.8 724.3,228.5 C727.0,236.2 728.7,245.1 730.6,253.4 C732.5,261.7 734.3,270.5 735.5,278.3 C736.7,286.1 737.1,288.1 738.0,300.0 C738.9,311.9 740.2,335.0 741.0,350.0 C741.8,365.0 742.6,380.0 743.0,390.0 C743.4,400.0 743.4,406.7 743.5,410.0" stroke="#1d4c56" stroke-width="9.5" fill="none" stroke-linecap="butt"/>
<path d="M602.0,193.6 C608.3,191.9 629.2,185.8 639.6,183.7 C650.0,181.6 657.2,181.4 664.5,181.2 C671.8,181.0 677.0,180.8 683.2,182.4 C689.5,184.0 696.8,186.8 702.0,191.0 C707.2,195.2 710.7,201.1 714.4,207.3 C718.1,213.6 721.6,220.8 724.3,228.5 C727.0,236.2 728.7,245.1 730.6,253.4 C732.5,261.7 734.3,270.5 735.5,278.3 C736.7,286.1 737.1,288.1 738.0,300.0 C738.9,311.9 740.2,335.0 741.0,350.0 C741.8,365.0 742.6,380.0 743.0,390.0 C743.4,400.0 743.4,406.7 743.5,410.0" stroke="#5dc5d2" stroke-width="4.6" fill="none"/>
<path d="M566,205.5 L602.5,188.6 L603.5,198.6 Z" fill="#3f8e9a" opacity="0.75"/>
<path d="M574,203.5 L603,191.5 L603.5,195.8 Z" fill="#8ed8e0" opacity="0.9"/>
<path d="M732,408.5 L739,411.6 L748,411.6 L757,408 L745,438.3 Z" fill="#5dc5d2" stroke="#1d4c56" stroke-width="2.2" stroke-linejoin="miter"/>
<defs><linearGradient id="afade" x1="0" y1="928" x2="0" y2="953" gradientUnits="userSpaceOnUse"><stop offset="0" stop-color="#5ec4bc" stop-opacity="0"/><stop offset="1" stop-color="#5ec4bc" stop-opacity="1"/></linearGradient><linearGradient id="afade2" x1="0" y1="932" x2="0" y2="953" gradientUnits="userSpaceOnUse"><stop offset="0" stop-color="#1d4c56" stop-opacity="0"/><stop offset="1" stop-color="#1d4c56" stop-opacity="1"/></linearGradient></defs>
<path d="M720.5,928 L721.5,953" stroke="url(#afade2)" stroke-width="9" fill="none"/>
<path d="M720.5,928 L721.5,953" stroke="url(#afade)" stroke-width="5.4" fill="none"/>
<path d="M721.5,951.0 C721.6,952.2 721.3,954.3 722.4,958.0 C723.5,961.7 724.7,967.9 728.0,973.2 C731.3,978.5 736.2,985.1 742.0,990.0 C747.8,994.9 753.7,998.4 763.0,1002.6 C772.3,1006.8 785.2,1011.2 798.0,1015.2 C810.8,1019.2 826.0,1022.9 840.0,1026.4 C854.0,1029.9 870.3,1033.6 882.0,1036.2 C893.7,1038.8 900.5,1040.1 910.0,1041.8 C919.5,1043.5 934.2,1045.7 939.0,1046.5" stroke="#1d4c56" stroke-width="9.5" fill="none"/>
<path d="M721.5,951.0 C721.6,952.2 721.3,954.3 722.4,958.0 C723.5,961.7 724.7,967.9 728.0,973.2 C731.3,978.5 736.2,985.1 742.0,990.0 C747.8,994.9 753.7,998.4 763.0,1002.6 C772.3,1006.8 785.2,1011.2 798.0,1015.2 C810.8,1019.2 826.0,1022.9 840.0,1026.4 C854.0,1029.9 870.3,1033.6 882.0,1036.2 C893.7,1038.8 900.5,1040.1 910.0,1041.8 C919.5,1043.5 934.2,1045.7 939.0,1046.5" stroke="#5ec4bc" stroke-width="5.4" fill="none"/>
<path d="M938,1034 L940.8,1041 L939,1052 L935.2,1057.2 L961.8,1051.6 Z" fill="#5ec4bc" stroke="#1d4c56" stroke-width="2.2" stroke-linejoin="miter"/>
<g transform="translate(522.4,214) rotate(0)"><circle r="14" fill="#cfe6e2" stroke="#a8cac6" stroke-width="1.5"/><circle r="11" fill="#dff0ee" opacity="0.6"/><rect x="-2.6" y="-9" width="5.2" height="14" rx="2.6" fill="#14204e" transform="rotate(25)"/><circle cx="-8" cy="-2" r="2.6" fill="#14204e"/><circle cx="9" cy="-2" r="2.4" fill="#14204e"/><circle cx="6" cy="7" r="2.8" fill="#14204e"/><circle cx="-1" cy="-10" r="2.2" fill="#1c2c68"/></g>
<g transform="translate(984.5,1050.5) rotate(70)"><circle r="14" fill="#cfe6e2" stroke="#a8cac6" stroke-width="1.5"/><circle r="11" fill="#dff0ee" opacity="0.6"/><rect x="-2.6" y="-9" width="5.2" height="14" rx="2.6" fill="#14204e" transform="rotate(25)"/><circle cx="-8" cy="-2" r="2.6" fill="#14204e"/><circle cx="9" cy="-2" r="2.4" fill="#14204e"/><circle cx="6" cy="7" r="2.8" fill="#14204e"/><circle cx="-1" cy="-10" r="2.2" fill="#1c2c68"/></g>
<text x="522.3" y="182" text-anchor="middle" fill="#050505" font-size="29" textLength="57" lengthAdjust="spacingAndGlyphs">Cyst</text>
<text x="985.2" y="1096.3" text-anchor="middle" fill="#050505" font-size="28.5" textLength="57" lengthAdjust="spacingAndGlyphs">Cyst</text>
<text x="831.8" y="935.8" text-anchor="middle" fill="#050505" stroke="#ffffff" stroke-width="2.2" stroke-opacity="0.7" paint-order="stroke" font-size="29" textLength="165" lengthAdjust="spacingAndGlyphs">Trophozoite</text>
</svg>
</body></html>
